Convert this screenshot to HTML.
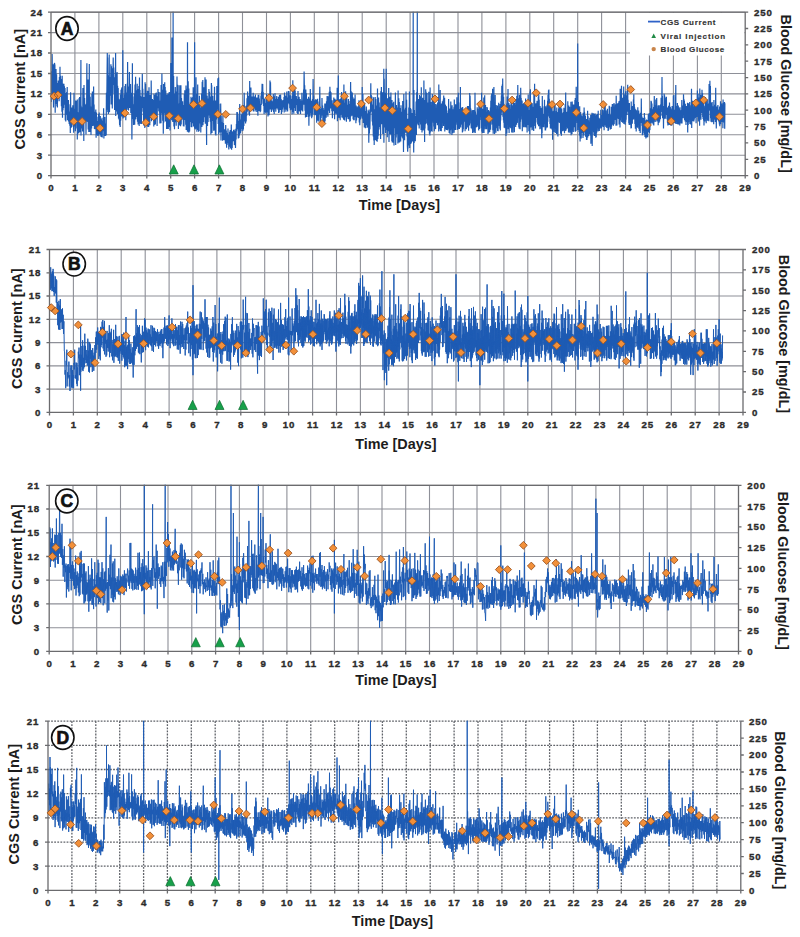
<!DOCTYPE html>
<html><head><meta charset="utf-8"><title>CGS Current</title>
<style>html,body{margin:0;padding:0;background:#fff;}svg{display:block;}</style></head>
<body><svg width="800" height="937" viewBox="0 0 800 937">
<rect width="800" height="937" fill="#fff"/>
<path d="M74.9 12.2V175.6M98.9 12.2V175.6M122.8 12.2V175.6M146.8 12.2V175.6M170.7 12.2V175.6M194.6 12.2V175.6M218.6 12.2V175.6M242.5 12.2V175.6M266.5 12.2V175.6M290.4 12.2V175.6M314.3 12.2V175.6M338.3 12.2V175.6M362.2 12.2V175.6M386.2 12.2V175.6M410.1 12.2V175.6M434 12.2V175.6M458 12.2V175.6M481.9 12.2V175.6M505.9 12.2V175.6M529.8 12.2V175.6M553.7 12.2V175.6M577.7 12.2V175.6M601.6 12.2V175.6M625.6 12.2V175.6M649.5 12.2V175.6M673.4 12.2V175.6M697.4 12.2V175.6M721.3 12.2V175.6M51 155.2H745.2M51 134.8H745.2M51 114.3H745.2M51 93.9H745.2M51 73.5H745.2M51 53H745.2M51 32.6H745.2M51 12.2H745.2" stroke="#8e9098" stroke-width="1.1" fill="none"/>
<rect x="630" y="13" width="114.5" height="42.5" fill="#fff"/>
<clipPath id="clipA"><rect x="51" y="11.7" width="694.2" height="163.9"/></clipPath>
<path clip-path="url(#clipA)" d="M51 81.9 51.3 101.9 51.6 71.3 51.8 98 52.1 53.9 52.2 57.8 52.3 82.3 52.4 93.6 52.7 82.2 53 99.8 53.2 64.3 53.5 107.5 53.8 66.1 54.1 92.5 54.4 63 54.6 63.3 54.7 86.3 54.6 98.6 54.9 64.4 55.2 112.7 55.5 76.4 55.8 94.6 56 69.1 56.3 104.1 56.6 74.3 56.9 106.2 57.2 84.6 57.4 107.4 57.7 83 58 95 58.3 80.6 58.6 98.8 58.8 82.1 59.1 101.2 59.4 76.9 59.5 94.6 59.4 80 59.7 96.2 60 66.8 60.2 94.9 60.5 75.7 60.8 95 61.1 78.9 61.4 106.3 61.6 90.7 61.9 111.7 62.2 75.7 62.5 117.8 62.8 83.5 63 110.2 63.3 88.4 63.6 108.1 63.9 83.7 64.2 102.3 64.4 86.2 64.7 104.7 65 88 65.3 120.3 65.6 100.6 65.8 121.6 66.1 92.9 66.4 114.8 66.7 91.9 67 111 67.2 86.9 67.5 120.2 67.8 107.8 68.1 118.1 68.4 99.9 68.6 121.6 68.9 113 69.2 123.9 69.5 111.5 69.8 125.8 70 104.3 70.3 133 70.6 92.3 70.9 128 71.2 109.4 71.4 127.2 71.7 107.4 72 122.3 72.3 109.3 72.6 120 72.8 105.3 73.1 126.7 73.4 114.2 73.7 132.7 74 92.8 74.2 123.3 74.5 108.7 74.8 126.6 75.1 109.3 75.4 131.3 75.6 100.6 75.9 128.4 76.2 116.2 76.5 121.1 76.8 100.7 77 115.3 77.3 99.4 77.3 139.5 77.4 122.3 77.6 124.6 77.9 112.2 78.2 133.4 78.4 115.1 78.7 133.3 79 98.3 79.3 124.5 79.6 97.1 79.8 132.2 80.1 114.1 80.4 127.9 80.7 110.7 80.9 59.9 81 121.5 81 135.5 81.2 105.7 81.5 123.8 81.8 108 82.1 128.5 82.4 107.3 82.6 131.5 82.9 88 83.2 131.3 83.5 90.8 83.8 140.9 84 84.9 84.3 120 84.6 98.1 84.9 121.7 85.2 109.2 85.4 120.7 85.7 104.6 86 134.5 86.3 103.8 86.6 115.4 86.8 70.6 86.9 63.3 87 114.4 87.1 121.4 87.4 85.2 87.7 122.1 88 79.5 88.2 129.5 88.5 101 88.8 132.1 89.1 92.2 89.3 63.9 89.4 115.9 89.4 119.8 89.6 95.3 89.9 132.1 90.2 96.7 90.5 125.9 90.8 107.6 91 134.9 91.3 106.5 91.6 128.5 91.9 94.1 92.2 118.9 92.4 91.5 92.7 126.1 93 108.1 93.3 124.8 93.6 86.5 93.8 125.8 94.1 104.4 94.4 129.1 94.7 111.7 95 129.2 95.2 118.8 95.5 124.5 95.8 109.5 96.1 137.8 96.4 112.6 96.6 128.9 96.9 120.9 97.2 135 97.5 122.9 97.8 136.1 98 116.8 98.3 132.6 98.6 114 98.9 135.6 99.2 112.6 99.4 130.6 99.7 123.4 100 134.1 100.3 116.1 100.6 135.5 100.8 119.3 101.1 137 101.4 121.9 101.7 130.6 102 117.8 102.2 137.6 102.5 123.2 102.8 129.3 103.1 120.6 103.4 131.2 103.6 108.2 103.9 138.4 104.2 118.8 104.5 136.1 104.8 117.1 105 135.9 105.3 123.5 105.6 135.9 105.9 126.5 106.2 135.2 106.4 92.7 106.7 109.8 107 80.6 107.3 53 107.4 101.2 107.3 99.3 107.6 57.4 107.8 112.1 108.1 75.2 108.4 113.9 108.7 81.4 109 104.3 109.2 54.4 109.5 112.2 109.8 77 110.1 95.8 110.4 83.4 110.6 91.1 110.9 64.3 111.2 104.6 111.5 66.3 111.8 99.2 112 84.3 112.3 108.4 112.6 68.3 112.9 93.4 113.2 57.4 113.4 74.9 113.7 67.4 114 85.1 114.3 77.2 114.6 109.9 114.8 89.8 115.1 107.5 115.4 83.4 115.6 53 115.7 95 115.7 116.1 116 73.4 116.2 111.6 116.5 84.8 116.8 105.8 117.1 71.9 117.4 113.9 117.6 85.7 117.9 108.3 118.2 88 118.5 118.6 118.8 98.8 119 119.6 119.3 111.2 119.6 125.3 119.9 99.4 120.2 127 120.4 94.6 120.7 120.8 121 89.7 121.3 110.4 121.6 88.2 121.8 116.4 122.1 87 122.4 114.4 122.7 95.3 122.8 50.3 122.9 102.3 123 118.5 123.2 97.9 123.5 113.4 123.8 100.8 124.1 117.4 124.4 94.4 124.6 104.3 124.9 86 125.2 112.9 125.5 83.9 125.8 120.3 126 100.8 126.3 115.5 126.6 92.5 126.9 106.2 127.2 83.5 127.4 108.5 127.6 61.9 127.7 104.4 127.7 97.8 128 110 128.3 88 128.6 110.4 128.8 86.6 129.1 99.5 129.4 72.1 129.7 108.1 130 85.9 130.2 96.6 130.5 84.1 130.8 113.1 131.1 92.8 131.4 107.3 131.6 96.1 131.9 139.6 132.2 106.5 132.4 63.3 132.5 106.4 132.5 118.9 132.8 96.6 133 110.6 133.3 104.3 133.6 124.9 133.9 105.3 134.2 124.1 134.4 93.5 134.7 124.8 135 84.6 135.3 119.6 135.6 76.7 135.8 119.3 136.1 101.6 136.4 117.1 136.7 90.3 137 110.7 137.2 83.7 137.3 108.4 137.2 86.1 137.5 121.7 137.8 98.8 138.1 124.6 138.4 89 138.6 123.4 138.9 86.1 139.2 126.1 139.5 77.6 139.8 110.2 140 89.9 140.3 123.5 140.6 95.7 140.9 124 141.2 96.8 141.4 123.9 141.7 101.3 142 108 142.3 73.7 142.6 100.4 142.8 88.8 143.1 111.8 143.4 100.1 143.7 125.6 144 97.1 144.2 118.4 144.5 106.9 144.8 127.9 145.1 82.2 145.4 119.7 145.6 83.9 145.9 114.5 146.2 92.9 146.5 122.1 146.8 101.2 147 126.2 147.3 90.8 147.6 126.7 147.9 90.9 148.2 118.8 148.4 104 148.7 126.9 149 87.2 149.3 122 149.6 97.8 149.8 125.3 150.1 94.9 150.4 117.7 150.7 101 151 113.9 151.2 80.5 151.5 121.2 151.8 99.2 152.1 116.3 152.4 98.9 152.6 115.6 152.9 102.8 153.2 113.5 153.5 100 153.8 126.5 154 93.7 154.3 124.9 154.6 104.4 154.9 121.3 155.2 95 155.4 124.5 155.7 93.2 156 119.3 156.3 92.5 156.6 114.9 156.8 96.2 157.1 126.1 157.4 100.1 157.7 108.3 158 89 158.2 103.7 158.5 92.4 158.8 111.3 159.1 92 159.4 112.5 159.6 105.5 159.9 123.4 160.2 100.4 160.5 121.2 160.8 92.2 161 123.2 161.1 85 161.2 109.2 161.3 87.7 161.6 113.6 161.9 73.6 162.2 104.9 162.4 89.8 162.7 120.7 163 91.8 163.3 133.7 163.6 83.9 163.8 122.6 164.1 91.9 164.4 113.6 164.7 82.3 165 110.1 165.2 86.9 165.5 121.5 165.8 90.5 166.1 116.2 166.4 95.4 166.6 129.1 166.9 94.4 167.2 125.7 167.5 99 167.8 128.9 168 93.6 168.3 128.9 168.6 98.6 168.9 127.1 169.2 92 169.4 119.1 169.7 104.5 170 130.4 170.3 92.2 170.6 107.5 170.8 63.1 171.1 114.9 171.4 93.3 171.7 120.1 171.9 37.4 172 109.4 172 92.4 172.2 120.4 172.5 96.6 172.8 122 173.1 87.1 173.1 5.4 173.2 109.6 173.4 112.8 173.6 76.1 173.9 126.4 174.2 93.7 174.5 129.3 174.8 105.5 175 121.2 175.3 86.9 175.6 122.3 175.9 91.4 176.2 125.7 176.4 99.4 176.7 118.8 177 76.5 177.3 114.4 177.6 84.8 177.8 121.3 178.1 85.3 178.4 129.1 178.7 103.5 179 119.8 179.2 109.7 179.5 125.4 179.8 85.2 180.1 121.8 180.4 88.4 180.6 126.2 180.9 85.2 181.2 124.5 181.5 98 181.8 116 182 102.8 182.3 118.7 182.6 101.2 182.9 120.1 183.2 105 183.4 126.3 183.7 108.4 184 126.4 184.3 94 184.6 120.1 184.8 90.3 185.1 119 185.4 98.3 185.7 124.8 186 85.6 186.2 129.9 186.5 88.8 186.8 125.9 187.1 104.4 187.4 131.7 187.5 42.2 187.6 111.6 187.6 97.4 187.9 113.1 188.2 81.2 188.5 132.5 188.8 88.6 189 132.6 189.3 106.7 189.6 131.6 189.9 104.3 190.2 120.4 190.4 102.6 190.7 122.1 191 96.8 191.3 126.9 191.6 101 191.8 127.3 192.1 98.1 192.4 123.3 192.7 96.9 193 115.1 193.2 87.2 193.5 126.4 193.8 103.9 194.1 125.2 194.4 108.2 194.6 42.2 194.7 112.6 194.6 128.6 194.9 98.6 195.2 129.6 195.5 110.8 195.8 128.8 196 77.2 196.3 119.8 196.6 94 196.9 131.8 197.2 94.2 197.4 124.2 197.7 84.6 198 130.1 198.3 111.9 198.6 131.7 198.8 102.4 199.1 131 199.4 95.8 199.7 123.5 200 102 200.2 115.2 200.5 110.7 200.8 132.5 201.1 107.7 201.4 122 201.6 93.6 201.9 126.9 202.2 81.8 202.5 117.6 202.8 80.1 203 125.3 203.3 89.6 203.6 122 203.9 87.2 204.2 117.2 204.4 89.4 204.7 115.4 205 77.2 205.3 123.7 205.6 98 205.8 121 206.1 79.4 206.4 121.7 206.6 145 206.7 112.6 206.7 107.5 207 116.3 207.2 95.5 207.5 125.9 207.8 98.5 208.1 122 208.4 99.5 208.6 115.5 208.9 88.9 209.2 112.9 209.5 91.7 209.8 118 210 100.4 210.3 121.8 210.6 96.4 210.9 134.5 211.2 101.2 211.4 83 211.5 114.6 211.4 132 211.7 85.3 212 133.1 212.3 100.6 212.6 120.9 212.8 95.8 213.1 119 213.4 102.4 213.7 130.8 214 100.5 214.2 130.4 214.5 86.8 214.8 120.2 215.1 108.5 215.4 134.6 215.6 100.6 215.9 135.5 216.2 102.8 216.5 119.4 216.8 85.9 217 108.6 217.3 87 217.6 109.7 217.9 78.3 218.2 124.1 218.4 104.5 218.6 77.6 218.7 117.7 218.7 134.5 219 103.8 219.3 124.8 219.6 112.1 219.8 132.4 220.1 118.4 220.4 129.1 220.7 103.6 221 140.5 221.2 115.5 221.5 132.2 221.8 125.4 222.1 131 222.4 122.2 222.6 140.8 222.9 115.5 223.2 139.6 223.5 122.9 223.8 140 224 129 224.3 140.2 224.6 131.8 224.9 138.8 225.2 129.4 225.4 143.7 225.7 125.1 226 137.2 226.3 130.4 226.6 147.7 226.8 133.9 227.1 145.1 227.4 133 227.7 139.7 228 128.6 228.2 143.3 228.5 135.3 228.8 149.4 229.1 135 229.4 144 229.6 131.7 229.9 146.7 230.2 130.1 230.5 148.6 230.8 131.7 231 143.5 231.3 124.5 231.6 149.7 231.9 131.3 232.2 147.9 232.4 136.9 232.7 138.5 233 131.4 233.3 141.3 233.6 130.1 233.8 139 234.1 129.6 234.4 145 234.7 130.8 235 145.3 235.2 136.1 235.5 148 235.8 128.8 236.1 139.4 236.4 124.1 236.6 131.3 236.9 111.9 237.2 123.6 237.5 112.3 237.8 129.3 238 114.5 238.3 138.6 238.6 123.3 238.9 138 239.2 121.1 239.4 135.5 239.7 103.9 240 132.5 240.3 121.6 240.6 133.4 240.8 119.6 241.1 131.2 241.4 114.5 241.7 129 242 113.6 242.2 127.8 242.5 114.3 242.8 130.9 243.1 104.9 243.4 129.4 243.6 110.6 243.9 126.1 244.2 92.7 244.5 121.5 244.8 112.3 245 119.4 245.3 111.6 245.6 123.4 245.9 106 246.2 121.5 246.4 105.6 246.7 115.7 247 98.2 247.3 111.8 247.6 91.5 247.8 102.3 248.1 95.7 248.4 110.2 248.7 95.8 249 114.3 249.2 96.7 249.5 115.8 249.7 81 249.8 106.2 249.8 96.1 250.1 108.7 250.4 104.5 250.6 105.4 250.9 87.4 251.2 105.4 251.5 102.3 251.8 106.2 252 96.5 252.3 107.5 252.6 99.4 252.9 110 253.2 92.7 253.4 111.5 253.7 99.2 254 108.6 254.3 96.4 254.6 107 254.8 97.6 255.1 111.5 255.4 94.6 255.7 109.7 256 97.5 256.2 110 256.5 97.9 256.8 112.1 257.1 97.4 257.4 112.1 257.6 99.9 257.9 115.7 258.2 94.8 258.5 109.5 258.8 94.7 259 111.1 259.3 98.6 259.6 108.9 259.9 103.9 260.2 112.3 260.4 103.9 260.7 111.2 261 95.6 261.3 105.1 261.6 91.7 261.8 99.2 262.1 83.7 262.4 95.9 262.7 83.9 263 103.7 263.2 92 263.5 105.9 263.8 98.5 264.1 114.1 264.4 102.2 264.6 112.3 264.9 98.4 265.2 110.6 265.5 103 265.8 113.6 266 105.6 266.3 110.1 266.6 93.8 266.9 112.2 267.2 99.6 267.4 112.5 267.7 101.5 268 116.6 268.3 103.8 268.6 111.5 268.8 97.5 269.1 115.2 269.4 100.2 269.7 105.4 270 80.5 270.2 109.6 270.5 82.2 270.8 107.5 271.1 100.1 271.4 111.9 271.6 100.5 271.9 109.2 272.2 101.3 272.5 108.2 272.8 101.3 273 110.5 273.3 94.1 273.6 112 273.9 101.4 274.2 113.9 274.4 96.3 274.7 107.2 275 93.2 275.3 109.2 275.6 99 275.8 111.8 276.1 101.2 276.4 106.6 276.7 95.9 277 108.4 277.2 98.9 277.5 105.1 277.8 101 278.1 109.7 278.4 96.7 278.6 112.9 278.9 98.6 279.2 112.6 279.5 94.8 279.8 106.1 280 95.5 280.3 110.1 280.6 94.5 280.9 108.6 281.2 99 281.4 113.9 281.7 100.8 282 112.2 282.3 100.3 282.6 109.6 282.8 100.7 283.1 106.2 283.4 100 283.7 107.5 284 96.9 284.2 112.5 284.5 92.5 284.8 109.5 285.1 95.3 285.4 107.9 285.6 97 285.9 111.8 286.2 95.9 286.5 107.6 286.8 91.6 287 109.8 287.3 99.6 287.6 111.5 287.9 97.4 288.2 103.2 288.4 91.1 288.7 103.1 289 91.2 289.3 104.2 289.6 95.2 289.8 108.2 290.1 95.6 290.4 110.3 290.7 95.2 291 105.4 291.2 99.5 291.5 109.8 291.8 98.9 292.1 114.2 292.4 95.8 292.6 111.9 292.8 80.3 292.9 102.9 292.9 95.6 293.2 107.7 293.5 94.2 293.8 113.7 294 91.2 294.3 105.7 294.6 88 294.9 107.9 295.2 90.4 295.4 110.9 295.7 96.3 296 104.9 296.3 96 296.6 104.4 296.8 99.1 297.1 112.9 297.4 99.4 297.7 114 298 90.9 298.2 114 298.5 99.1 298.8 111.2 299.1 96.8 299.4 109.1 299.6 98.9 299.9 111.5 300.2 99 300.5 113.9 300.8 100.6 301 108.1 301.3 102.5 301.6 110.4 301.9 92.8 302.2 110.4 302.4 103.2 302.7 111.6 303 100.5 303.3 102.6 303.6 89.5 303.8 104.8 304.1 71.4 304.4 89.8 304.7 85.2 305 110.8 305.2 92.5 305.5 117.6 305.8 89.6 306.1 112.7 306.4 93.3 306.6 116.9 306.9 102.6 307.2 114 307.5 98.7 307.8 112.6 308 102.9 308.3 117.1 308.6 96.8 308.9 125.8 309.2 103.9 309.4 114.9 309.7 98.4 310 116.5 310.3 89.1 310.6 108.9 310.8 100.3 311.1 113.4 311.4 105.8 311.7 118.3 312 101 312.2 116.8 312.5 98.9 312.8 114.2 313.1 79 313.4 104.3 313.6 96.1 313.9 107.7 314.2 100.6 314.5 114.7 314.8 105 315 115.3 315.3 99.9 315.6 113 315.9 98.9 316.2 115.1 316.4 107.5 316.7 122.8 317 100 317.3 119 317.6 98.7 317.8 120.8 318.1 109.6 318.4 120.4 318.7 112.3 319 121.8 319.2 101.5 319.5 107 319.8 86.8 320.1 114.1 320.4 108.7 320.6 122.7 320.9 109.9 321.2 118.1 321.5 108.3 321.8 113.4 322 98 322.3 115.4 322.6 105.5 322.9 120.3 323.2 108 323.4 124.8 323.7 110 324 123.1 324.3 109.8 324.6 123.4 324.8 103.4 325.1 121.3 325.4 108.3 325.7 115.3 326 103.5 326.2 117.8 326.5 101.2 326.8 115.1 327.1 95.9 327.4 110.5 327.6 99.9 327.9 116.7 328.2 96.3 328.5 110.7 328.8 103.6 329 108.8 329.3 91.8 329.6 113 329.9 86.8 330.2 103 330.4 91.3 330.7 108.6 331 92.2 331.3 105 331.6 100.8 331.8 111.2 332.1 100.3 332.4 118.3 332.7 103.6 333 107.8 333.2 106.2 333.5 111.2 333.8 97.4 334.1 110 334.4 105.1 334.6 119.2 334.9 98.8 335.2 110.5 335.5 101.9 335.8 113.8 336 99.8 336.3 109.3 336.6 106.7 336.9 114.3 337.2 87.7 337.4 121.2 337.7 97.6 338 118.1 338.3 75.5 338.4 107.5 338.3 98.7 338.6 117.5 338.8 106.2 339.1 116.8 339.4 99.5 339.7 118.3 340 99 340.2 120.3 340.5 102.8 340.8 108.8 341.1 97.5 341.4 114.8 341.6 92 341.9 117.4 342.2 99 342.5 114.8 342.8 100.2 343 118.3 343.3 106.3 343.6 119.7 343.9 84.4 344.2 111.1 344.4 106.1 344.7 120.4 345 102.8 345.3 117.2 345.6 91.3 345.8 113.9 346.1 101.3 346.4 121.7 346.7 95.9 347 117.2 347.2 104.9 347.5 116.5 347.8 104.8 348.1 118.9 348.4 98.9 348.6 119.3 348.9 101 349.2 115 349.5 105.5 349.8 121.7 350 103.9 350.3 120.9 350.6 82 350.9 116.6 351.2 91.3 351.4 112.1 351.7 99.8 352 115.8 352.3 92.6 352.6 110 352.8 97 353.1 119.3 353.4 100.4 353.7 120.3 354 98.4 354.2 120.2 354.5 102.1 354.8 115.2 355.1 94.5 355.4 117 355.6 107.9 355.9 123.2 356.2 105.6 356.5 120.4 356.8 108.9 357 116.9 357.3 107.3 357.6 112.9 357.9 106.3 358.2 117.9 358.4 106.6 358.7 111.3 359 100.2 359.3 122.6 359.6 106.6 359.8 125.3 360.1 109.1 360.4 119.5 360.7 108.2 361 118.4 361.2 102.2 361.5 116.5 361.8 103.2 362.1 112.1 362.2 87.1 362.3 114.3 362.4 99.4 362.6 118.7 362.9 93.9 363.2 123 363.5 101.9 363.8 115.4 364 106.3 364.3 127.4 364.6 102.8 364.9 127.1 365.2 112 365.4 128.3 365.7 111 366 125.2 366.3 106.6 366.6 119.3 366.8 109.7 367.1 128 367.4 113.4 367.7 126.8 368 119.4 368.2 126.9 368.5 110.5 368.8 142.7 369.1 109.6 369.4 133.5 369.6 117.9 369.9 129.2 370.2 113.7 370.5 111.4 370.8 83.3 371 111.7 371.3 94.9 371.6 111.1 371.9 96.4 372.2 121.6 372.4 104.6 372.7 125.5 373 115.1 373.3 136.6 373.6 97.3 373.8 140.6 374.1 109.2 374.2 145 374.3 122.9 374.4 137.1 374.7 113.7 375 139.9 375.2 96.9 375.5 140.2 375.8 99 376.1 128.9 376.4 114.6 376.6 141.1 376.9 105.4 377.2 141.8 377.5 88.5 377.8 139.1 378 113.6 378.3 135.7 378.6 97.6 378.9 129.6 379.2 102.5 379.4 121.8 379.7 107.2 380 127.1 380.3 110.4 380.6 139.1 380.8 91.2 381.1 113.1 381.4 87 381.7 124.2 382 101.5 382.2 119.1 382.5 92.2 382.8 134 383.1 115.4 383.4 120.4 383.6 105 383.8 68.7 383.9 118.9 383.9 142.8 384.2 78.8 384.5 122.7 384.8 92.7 385 127.4 385.3 96.8 385.6 133.1 385.9 110.8 386.2 68.7 386.3 117.9 386.2 130 386.4 94.1 386.7 128.6 387 106.1 387.3 137.2 387.6 98.3 387.8 122.4 388.1 113.5 388.4 131.3 388.7 88.1 389 142.1 389.2 118.3 389.5 127.3 389.8 96.8 390.1 134.2 390.4 100.5 390.6 122.1 390.9 92.4 391.2 134.8 391.5 101.9 391.8 141.2 392 99.9 392.3 142.6 392.6 111.8 392.9 136.5 393.2 103.3 393.4 142.8 393.7 101.8 394 145.4 394.3 112.3 394.6 128.3 394.8 108.5 395.1 127.7 395.4 92.5 395.7 144.9 396 106.6 396.2 137.5 396.5 105 396.8 134.1 397.1 107.5 397.4 130.9 397.6 109.3 397.9 143.4 398.1 90.5 398.2 126.1 398.2 115.2 398.5 134.6 398.8 98.2 399 142.6 399.3 101.9 399.6 142.4 399.9 114.4 400.2 139.5 400.4 107.9 400.7 141.4 401 105.3 401.3 136.6 401.6 111.8 401.8 128.5 402.1 119.5 402.4 137.7 402.7 101.1 403 138.8 403.2 120 403.5 151.9 403.8 93.9 404.1 135.4 404.4 111.7 404.6 140.2 404.9 109.5 405.2 132.1 405.5 107.8 405.8 132.8 406 91.4 406.3 120.5 406.6 99.8 406.9 136.4 407.2 120.9 407.4 146.5 407.7 151.8 407.8 128.9 407.7 118.7 408 148.6 408.3 120.2 408.6 143.3 408.8 107.6 409.1 145.4 409.4 91.6 409.7 148 410 128.4 410.2 134.3 410.5 108.1 410.8 143.9 411.1 109.3 411.4 142.7 411.6 124 411.9 135.2 412.2 113.1 412.5 141.5 412.8 113.7 413 139.4 413.2 5.4 413.3 130 413.3 114 413.6 138.9 413.7 152.5 413.8 128.7 413.9 89.9 414.2 142.9 414.4 109.9 414.7 137.6 415 119.8 415.3 141.2 415.6 116.1 415.8 128.3 416.1 101.5 416.4 135 416.7 92.3 417 123.7 417.2 85.6 417.3 5.4 417.4 120.1 417.5 113.4 417.8 100.5 418.1 125.3 418.4 98.9 418.6 120.1 418.9 99.7 419.2 128.4 419.5 95 419.8 122.3 420 104.1 420.2 122.2 420.4 96.2 420.6 124.4 420.9 104.6 421.1 130 421.3 87.2 421.5 128.7 421.7 99 422 132.5 422.2 104.3 422.4 130.5 422.6 97.8 422.8 129.6 423.1 112.8 423.3 125.8 423.5 101.5 423.7 130.2 423.9 80.6 424.2 130.7 424.4 100.3 424.6 141.9 424.8 99.9 425 128.4 425.3 107.8 425.5 124.3 425.7 89.3 425.9 117.6 426.1 91.7 426.4 109.4 426.6 97.9 426.8 123.6 427 92.9 427.2 123.2 427.5 103.2 427.7 125.3 427.9 102.4 428.1 130.3 428.3 103.9 428.6 123.4 428.8 91.8 429 131.1 429.2 100.3 429.4 133.8 429.7 99.6 429.9 135.4 430.1 87.5 430.3 132.5 430.5 105.1 430.8 121.5 431 102 431.2 121.8 431.4 108.5 431.6 131.1 431.9 109.6 432.1 131.8 432.3 93.9 432.5 118.4 432.7 96.4 433 121 433.2 98.1 433.4 122.7 433.6 98.9 433.8 126.5 434.1 105.9 434.3 131.3 434.5 98.3 434.7 129.5 434.9 110 435.2 123 435.4 113.9 435.6 128.9 435.8 104.1 436 121.5 436.3 109.4 436.5 121.2 436.7 111.3 436.9 122.9 437.1 104.4 437.4 125.3 437.6 102.6 437.8 121.9 438 115.2 438.2 124.2 438.5 96.8 438.7 131.4 438.8 84.4 438.9 118.1 438.9 102.3 439.1 118.2 439.3 102 439.6 118.9 439.8 106.6 440 129.3 440.2 89.9 440.4 131.1 440.7 112.3 440.9 120.6 441.1 106.6 441.3 131.3 441.5 103.6 441.8 125.3 442 105.5 442.2 127.9 442.4 101.3 442.6 119.9 442.9 109.5 443.1 123.3 443.3 99.4 443.5 125.9 443.7 95.5 444 124 444.2 104.1 444.4 123.7 444.6 97.8 444.8 131.6 445.1 104.4 445.3 126.4 445.5 104.7 445.7 129.5 445.9 112.1 446.2 120 446.4 106.2 446.6 129.9 446.8 116.3 447 127.2 447.3 114.3 447.5 130.2 447.7 113.1 447.9 129.6 448.1 110.5 448.4 122.2 448.6 99.1 448.8 119 449 116.2 449.2 132.9 449.5 109.7 449.7 126.6 449.9 108.6 450.1 134.2 450.3 112 450.6 130.2 450.8 101.4 451 123 451.2 107.3 451.4 129.1 451.7 106.9 451.9 134.9 452.1 105.3 452.3 129.6 452.5 111.1 452.8 133.2 453 109.3 453.2 123.7 453.4 116.5 453.6 126.6 453.9 107.3 454.1 132.7 454.3 99.6 454.5 129.8 454.7 107.5 455 124.7 455.2 109.3 455.4 130 455.6 104.3 455.8 124.6 456.1 117.8 456.3 119.9 456.5 119.1 456.7 122 456.9 97.3 457.2 129.9 457.4 110.6 457.6 124.2 457.8 102.8 458 129.2 458.3 92.7 458.5 126.6 458.7 102.5 458.9 128.4 459.1 109.1 459.4 129 459.6 114.3 459.8 124.7 460 115.8 460.2 125.9 460.4 87.1 460.5 119.4 460.5 108.8 460.7 127.6 460.9 112.4 461.1 115.3 461.3 108.1 461.6 123.6 461.8 110.6 462 124.7 462.2 107.1 462.4 132.5 462.7 107.2 462.9 131.4 463.1 112.3 463.3 129.3 463.5 112.3 463.8 118.5 464 110.8 464.2 121.7 464.4 116.8 464.6 119.6 464.9 109.7 465.1 131.3 465.3 111.9 465.5 129.1 465.7 115.1 466 126.5 466.2 116.6 466.4 129.2 466.6 108.7 466.8 120.6 467.1 115.3 467.3 119.5 467.5 105.9 467.7 127.5 467.9 114.8 468.2 126.4 468.4 106 468.6 130.7 468.8 111.9 469 124.8 469.3 109.4 469.5 125.4 469.7 93 469.9 117.3 470.1 95.8 470.4 114 470.6 108.2 470.8 123.6 471 109.5 471.2 128.3 471.5 115.9 471.7 123.9 471.9 114.3 472.1 129.2 472.3 110.4 472.6 133.1 472.8 110.1 473 121.7 473.2 115.3 473.4 127.1 473.7 110.1 473.9 132.4 474.1 116.4 474.3 130.5 474.5 111.7 474.8 126.5 475 92.7 475.2 133 475.4 111.4 475.6 127.5 475.9 115.7 476.1 127.6 476.3 114.9 476.5 125.1 476.7 116.9 477 127 477.2 107.3 477.4 121.4 477.6 108.8 477.8 125.3 478.1 118.8 478.3 125.7 478.5 116.6 478.7 130.5 478.9 102 479.2 127.7 479.4 111.9 479.6 128.9 479.8 106.1 480 119.9 480.3 102.4 480.5 114.8 480.7 105.3 480.9 115.4 481.1 102.1 481.4 127.9 481.6 92.7 481.8 131.5 482 118 482.2 132.8 482.5 115.4 482.7 132.9 482.9 108.7 483.1 131.4 483.3 109.5 483.6 124.3 483.8 97.4 484 133.1 484.2 100.9 484.4 120.3 484.7 95.2 484.9 122.5 485.1 109.7 485.3 129.2 485.5 104.9 485.8 126.5 486 116.6 486.2 119.7 486.4 112.3 486.6 129.2 486.9 107.1 487.1 125.2 487.3 107.6 487.5 123.9 487.7 112.5 488 133.9 488.2 110.7 488.4 120.4 488.6 109.9 488.8 132.8 489.1 113.5 489.3 119.5 489.5 111.2 489.7 132 489.9 111.5 490.2 126.2 490.4 107.5 490.6 129.7 490.8 100.8 491 124.7 491.3 95.5 491.5 114.3 491.7 93.5 491.9 119.3 492.1 96.1 492.4 124.5 492.6 88.7 492.8 130.2 493 117.3 493.2 133.8 493.5 100.6 493.7 130.2 493.9 87.1 494 118.6 493.9 100.9 494.1 125.8 494.3 112.3 494.6 134.1 494.8 105.2 495 130.6 495.2 95 495.4 123.8 495.7 105.7 495.9 132.8 496.1 105.1 496.3 122.9 496.5 115.6 496.8 125.2 497 114.9 497.2 128.3 497.4 105.6 497.6 131.1 497.9 110 498.1 131.2 498.3 112.2 498.5 124.6 498.7 102.7 499 123.8 499.2 106.2 499.4 126 499.6 111.3 499.8 128.7 500.1 104.1 500.3 130.4 500.5 113.6 500.7 120.5 500.9 101.3 501.2 115.2 501.4 95.4 501.6 112.4 501.8 86.1 502 106.9 502.3 84.6 502.5 107.5 502.7 78.4 502.9 116.8 503.1 93.6 503.4 120.3 503.6 96.8 503.8 122.7 504 103.7 504.2 127.8 504.5 105.6 504.7 125.2 504.9 107.8 505.1 128.2 505.3 112.1 505.6 127.5 505.8 106.1 506 136.1 506.2 112.1 506.4 130.3 506.7 103.4 506.9 133.6 507.1 96.6 507.3 124.6 507.5 102.6 507.8 124.6 508 89 508.2 129.3 508.4 109.1 508.6 129.1 508.9 103 509.1 133 509.3 111 509.5 126.9 509.7 104.8 510 125.6 510.2 114.3 510.4 127.5 510.6 109.1 510.8 128.3 511.1 102.1 511.3 122.5 511.5 102.5 511.7 132.5 511.9 106.9 512.2 124.8 512.4 105.3 512.6 121.3 512.8 109.7 513 132.7 513.3 102.3 513.5 125.8 513.7 98.2 513.9 122.1 514.1 112.4 514.4 132.3 514.6 102.9 514.8 120.9 515 106.9 515.2 124.9 515.5 105.1 515.7 127 515.9 101 516.1 123.8 516.3 99.1 516.6 124.7 516.8 95.7 517 122.9 517.2 100.3 517.4 122.8 517.7 95.3 517.8 85 517.9 117.7 517.9 115.5 518.1 98.8 518.3 115.1 518.5 98.3 518.8 127.2 519 104.1 519.2 128.7 519.4 94.7 519.6 124.2 519.9 105.7 520.1 129.2 520.3 111.6 520.5 121.8 520.7 87.7 521 113.1 521.2 97.9 521.4 115 521.6 105 521.8 119.5 522.1 100.4 522.3 131.3 522.5 116.2 522.7 125.5 522.9 103.9 523.2 118.4 523.4 116 523.6 127.3 523.8 102.9 524 118 524.3 103 524.5 120.9 524.7 116.6 524.9 127.3 525.1 107 525.4 127 525.6 98.6 525.8 123.7 526 114.6 526.2 127.6 526.5 115.8 526.7 122 526.9 104.2 527.1 132.6 527.3 110 527.6 125 527.8 103.5 528 124.7 528.2 94.6 528.4 124.4 528.7 115.4 528.9 131.3 529.1 110 529.3 127.7 529.5 113.1 529.8 134.6 530 91.4 530.2 121.6 530.4 89.3 530.6 127.5 530.9 106.8 531.1 127.3 531.3 104.4 531.5 121.8 531.7 103 532 130.3 532.2 103.2 532.4 121.3 532.6 106.8 532.8 125.3 533.1 113.8 533.3 129.7 533.5 108.7 533.7 131.1 533.9 93.3 534.2 126 534.4 102.6 534.6 83.7 534.7 118.1 534.6 120.6 534.8 103.6 535 118.8 535.3 107.8 535.5 128.4 535.7 103.6 535.9 122.5 536.1 103.2 536.4 117.9 536.6 105.1 536.8 112.6 537 100.7 537.2 115.6 537.5 111.1 537.7 124.6 537.9 101.4 538.1 124.6 538.3 96.6 538.6 126.2 538.8 94.6 539 116.6 539.2 99.7 539.4 126 539.7 114.7 539.9 129.3 540.1 106.1 540.3 128.7 540.5 115.4 540.8 123.2 541 107.8 541.2 121.4 541.4 111.1 541.6 128.2 541.8 138.2 541.9 118.6 541.9 114.9 542.1 133.1 542.3 96.1 542.5 126.9 542.7 115.8 543 126.3 543.2 118.2 543.4 127.3 543.6 113.9 543.8 127.3 544.1 106.3 544.3 123.9 544.5 99.8 544.7 123.2 544.9 112.3 545.2 130.4 545.4 117 545.6 130.4 545.8 106.2 546 128.6 546.3 108 546.5 123.1 546.7 112.8 546.9 127.5 547.1 104.8 547.4 127.6 547.6 100.7 547.8 121.8 548 94.8 548.2 112.9 548.5 90.3 548.7 109.8 548.9 89.5 549.1 116.6 549.3 98.8 549.6 117.9 549.8 103.4 550 124.1 550.2 102.4 550.4 128.4 550.7 103.6 550.9 120.5 551.1 102.7 551.3 128.8 551.5 116.9 551.8 128.4 552 107.2 552.2 130.1 552.4 113 552.6 139.7 552.9 112.3 553.1 121.3 553.3 110.8 553.5 127.8 553.7 111.9 554 132 554.2 114.7 554.4 126.7 554.6 104.7 554.8 127 555.1 104.2 555.3 133 555.5 115.3 555.7 120.4 555.9 116.1 556.2 127.8 556.4 111.1 556.6 134 556.8 107.6 557 127.8 557.3 112 557.5 120.8 557.7 117.7 557.9 136.4 558.1 114.5 558.4 122.4 558.6 108.5 558.8 118.8 559 102.2 559.2 122.2 559.5 102.1 559.7 123.1 559.9 110.7 560.1 119.9 560.3 108.3 560.6 133.7 560.8 107.1 561 128.9 561.2 115.7 561.4 135.8 561.7 108.4 561.9 131 562.1 112.9 562.3 127.6 562.5 113.5 562.8 131.3 563 116.6 563.2 130.7 563.4 112.1 563.6 130.3 563.9 107.7 564.1 123.7 564.3 109.4 564.5 133.2 564.7 114.5 565 130.4 565.2 104.1 565.4 126.1 565.6 111.7 565.7 92.5 565.8 120.3 565.8 130.9 566.1 115.3 566.3 129.4 566.5 115.9 566.7 126.9 566.9 112.1 567.2 120.7 567.4 111.5 567.6 128.4 567.8 101.2 568 124.5 568.3 108.8 568.5 132.6 568.7 105.4 568.9 130.7 569.1 114.2 569.4 128.9 569.6 106.7 569.8 132.8 570 113.1 570.2 125.5 570.5 119.3 570.7 131.8 570.9 101.7 571.1 135.3 571.3 107.7 571.6 130.6 571.8 120 572 133.9 572.2 101.4 572.4 124.4 572.7 114.5 572.9 131 573.1 104.6 573.3 132.1 573.5 109.9 573.8 127.3 574 104.4 574.2 120.9 574.4 110.5 574.6 127.3 574.9 100.1 575.1 131.4 575.3 98 575.5 131.7 575.7 115.7 576 131 576.2 86.8 576.4 120.8 576.6 101.1 576.8 119.8 577.1 106.6 577.3 122.9 577.5 116 577.7 43.5 577.8 121.1 577.7 130.1 577.9 105.9 578.2 122.4 578.4 102.1 578.6 124.4 578.8 112.6 579 132.1 579.3 113.5 579.5 135.4 579.7 106.3 579.9 130.9 580.1 141.6 580.2 127.5 580.1 127.7 580.4 129.2 580.6 111.9 580.8 134.1 581 114.7 581.2 138.6 581.5 121.9 581.7 132.9 581.9 115.4 582.1 131 582.3 117.1 582.6 129 582.8 120.8 583 137.9 583.2 112.7 583.4 130.7 583.7 114.7 583.9 135.5 584.1 107.5 584.3 132.4 584.5 111.7 584.8 125.8 585 116.1 585.2 130.9 585.4 115.4 585.6 136.7 585.9 125.7 586.1 134.6 586.3 119 586.5 139.9 586.7 120.8 587 140 587.2 124.4 587.4 132.2 587.6 110.8 587.8 137.6 588.1 116.2 588.3 129.3 588.5 120.3 588.7 136.1 588.9 127.4 589.2 131.7 589.4 126.1 589.6 134 589.8 117.8 590 132.4 590.3 120.2 590.5 135.6 590.7 114.9 590.9 143.8 591.1 117.3 591.4 134.2 591.6 114.7 591.8 131.4 592 112.7 592.2 146 592.5 117.5 592.7 131.1 592.9 113.9 593.1 129.1 593.3 113.2 593.6 132.3 593.8 118.9 594 134.7 594.2 113.8 594.4 136.1 594.7 120.7 594.9 132.1 595.1 113.6 595.3 135.9 595.5 116 595.8 137.8 596 120.7 596.2 136.9 596.4 114.7 596.6 133.3 596.9 116.6 597.1 127.5 597.3 114 597.5 126.5 597.7 116.5 598 131.6 598.2 110.8 598.4 128.2 598.6 120.1 598.8 128.5 599.1 117.7 599.3 131 599.5 119.6 599.7 128.5 599.9 119.2 600.2 124 600.4 118.7 600.6 126.8 600.8 109.8 601 128.5 601.3 118.9 601.5 128 601.7 115 601.9 126.4 602.1 116.2 602.4 124.5 602.6 109.5 602.8 125.8 603 117.5 603.2 127.1 603.5 118.8 603.7 122.8 603.9 110.2 604.1 130.3 604.3 105.8 604.6 125 604.8 116.6 605 125.6 605.2 104.7 605.4 125 605.7 110.4 605.9 126.9 606.1 116.3 606.3 125.9 606.5 114.5 606.8 128 607 110.3 607.2 125.5 607.4 108.7 607.6 124.1 607.9 113.9 608.1 130.9 608.3 122.1 608.5 130.3 608.7 117.8 609 118.9 609.2 105.8 609.4 125.5 609.6 106.4 609.8 127.4 610.1 114.5 610.3 129.5 610.5 114.8 610.7 121.9 610.9 116.1 611.2 129.1 611.4 106.8 611.6 126.6 611.8 107.7 612 120.8 612.3 104 612.5 124.8 612.7 103.9 612.9 120.4 613.1 112.4 613.4 125.8 613.6 109.7 613.8 123.1 614 102.9 614.2 124.2 614.5 107.7 614.7 119.9 614.9 108.6 615.1 114.6 615.3 104.2 615.6 116.4 615.8 109.8 616 125.8 616.2 95.7 616.4 120.2 616.7 104.7 616.9 125.6 617.1 106.1 617.3 115.4 617.5 103.7 617.8 117.9 618 103.1 618.2 118.8 618.4 104.1 618.6 118.9 618.9 101.3 619.1 124.6 619.3 103.6 619.5 121.5 619.7 100.8 620 127.5 620.2 88.8 620.4 120.6 620.6 105.7 620.8 114.3 621.1 102.2 621.3 117.1 621.5 85.7 621.7 121.9 621.9 98 622.2 111.8 622.4 97.7 622.6 122.7 622.8 109.3 623 121.7 623.3 103.6 623.5 119 623.7 86.4 623.9 123.9 624.1 101.5 624.4 122.5 624.6 106.9 624.8 121.9 625 94.3 625.2 124.8 625.5 100.3 625.6 91.2 625.7 112.6 625.7 121.8 625.9 95.6 626.1 119.8 626.3 108.7 626.6 113.7 626.8 95.2 627 114.9 627.2 90.6 627.4 111.8 627.7 84.7 627.9 111.7 628.1 99.8 628.3 110.5 628.5 103.3 628.8 123.2 629 113.4 629.2 124.9 629.4 103 629.6 124.1 629.9 113.8 630.1 124.8 630.3 110 630.5 123.2 630.7 116.2 631 128.6 631.2 101.4 631.4 127.9 631.6 107.4 631.8 121.8 632.1 108.5 632.3 123.8 632.5 106 632.7 119.4 632.9 110.2 633.2 117.8 633.4 99.6 633.6 119.5 633.8 94.2 634 114.7 634.3 104.1 634.5 115 634.7 107.5 634.9 123.9 635.1 112.1 635.4 128.8 635.6 109.3 635.8 126.6 636 110.4 636.2 131.4 636.5 110.3 636.7 126.9 636.9 113.3 637.1 126.1 637.3 113.4 637.6 127.7 637.8 107.3 638 124.8 638.2 111.2 638.4 123.3 638.7 110.5 638.9 129 639.1 114 639.3 131.1 639.5 114.7 639.8 127.9 640 117.6 640.2 133 640.4 112.8 640.6 122.6 640.9 114 641.1 123.1 641.3 98.6 641.5 121.3 641.7 115.5 642 126 642.2 120 642.4 135.2 642.6 117.5 642.8 133.2 643.1 118 643.3 130.9 643.5 121 643.7 127.7 643.9 117.9 644.2 134.8 644.4 113.1 644.6 133.3 644.8 117.5 645 137 645.3 124.6 645.5 133.5 645.7 126.5 645.9 138.4 646.1 120.2 646.4 131.1 646.6 119.4 646.8 137.6 647 120.7 647.2 134.8 647.5 120.1 647.7 137.3 647.9 121.1 648.1 131.6 648.3 114.2 648.6 129.4 648.8 118.8 649 132.1 649.2 112.9 649.4 133.1 649.7 121.7 649.9 130.1 650.1 114.3 650.3 123.3 650.5 108.2 650.8 123.4 651 100.7 651.2 121.8 651.4 101.5 651.6 118.3 651.9 103.5 652.1 123.4 652.3 108.8 652.5 121.7 652.7 110.3 653 118.4 653.2 112.1 653.4 124.7 653.6 106.9 653.8 125.4 654.1 107.3 654.3 95.9 654.4 114.5 654.3 117.3 654.5 111 654.7 120.4 654.9 105.7 655.2 122.1 655.4 105.2 655.6 117.3 655.8 99.4 656 119.3 656.3 105.8 656.5 118.5 656.7 98.1 656.9 121.6 657.1 105.5 657.4 119.5 657.6 112.2 657.8 118.8 658 108.6 658.2 125.2 658.5 105.3 658.7 122.9 658.9 110 659.1 122.5 659.3 113.8 659.6 121.4 659.8 105.2 660 115.2 660.2 112.6 660.4 119.2 660.7 104.3 660.9 115.9 661.1 97.8 661.3 107 661.5 99.5 661.8 106.4 662 76.9 662.2 112 662.4 96.1 662.6 118.2 662.9 106.1 663.1 116 663.3 108.8 663.5 128.6 663.7 109.2 664 119.3 664.2 93.8 664.4 109.5 664.6 95.6 664.8 118.5 665.1 105.5 665.3 118.8 665.5 104.8 665.7 108.6 665.9 97.5 666.2 112.1 666.4 96.8 666.6 115 666.8 107.2 667 119.3 667.3 108.1 667.5 123.2 667.7 107.4 667.9 125.6 668.1 107.5 668.4 124.2 668.6 105.7 668.8 124.1 669 114 669.2 125.1 669.5 102.5 669.7 119.5 669.9 113.6 670.1 124.7 670.3 106.8 670.6 117.7 670.8 108.5 671 125.8 671.2 110.3 671.4 120.9 671.7 111.7 671.9 125.4 672.1 106.1 672.3 119.4 672.5 106.4 672.8 117.2 673 110.4 673.2 123 673.4 95.8 673.6 114.6 673.9 95 674.1 123.1 674.3 109.9 674.5 117.6 674.7 111.8 675 120 675.2 109.8 675.4 123.8 675.6 99.7 675.8 85 675.9 115.7 675.8 122.1 676.1 106.2 676.3 122.1 676.5 105.9 676.7 123.9 676.9 108.6 677.2 122.6 677.4 103.1 677.6 124.2 677.8 111.9 678 124 678.3 105.6 678.5 124.6 678.7 107.5 678.9 123.5 679.1 112.3 679.4 123 679.6 109 679.8 125.6 680 107.2 680.2 119.2 680.5 111.8 680.7 116.7 680.9 113 681.1 123.5 681.3 110.1 681.6 122.1 681.8 99.9 682 123.5 682.2 105.4 682.4 114.8 682.7 107.4 682.9 116 683.1 106.3 683.3 118.2 683.5 94.3 683.8 106.7 684 99.3 684.2 113.9 684.4 100.7 684.6 119.9 684.9 103.9 685.1 121.5 685.3 103.8 685.5 117.8 685.7 111.9 686 125.1 686.2 106 686.4 122 686.6 107.1 686.8 120.4 687.1 105.9 687.3 118.8 687.5 102.7 687.7 132.4 687.9 103.6 688.2 124.9 688.4 103.2 688.6 122.2 688.8 104.5 689 117.4 689.3 110.7 689.5 117.3 689.7 102.1 689.9 124.1 690.1 109.3 690.4 117.9 690.6 109.9 690.8 124.4 691 105.3 691.2 122.4 691.5 88.8 691.7 127.9 691.9 109.9 692.1 117.6 692.3 105.5 692.6 121.3 692.8 100.8 693 115.5 693.2 104.3 693.4 121.2 693.7 107.1 693.9 121.6 694.1 108.6 694.3 119.4 694.5 105.5 694.8 117.9 695 107.3 695.2 116.2 695.4 103.3 695.6 112.6 695.9 107 696.1 123.2 696.3 101.2 696.5 110.5 696.7 99.1 697 117 697.2 101.5 697.4 90.5 697.5 109.3 697.4 114.5 697.6 97.7 697.8 111.4 698.1 94 698.3 121.6 698.5 102.9 698.7 119.3 698.9 97.6 699.2 118.2 699.4 102.7 699.6 125.8 699.8 88.5 699.9 109.7 699.8 92.5 700 112.1 700.3 97.1 700.5 117.7 700.7 94.7 700.9 119.8 701.1 99.2 701.4 108.5 701.6 95.7 701.8 113.1 702 89.7 702.2 100.3 702.5 93.3 702.7 116.9 702.9 97.6 703.1 119 703.3 99 703.6 120.6 703.8 108.1 704 125.6 704.2 107.4 704.4 117.7 704.7 105.9 704.9 121.5 705.1 104.4 705.3 114.9 705.5 96.9 705.8 115.3 706 100.7 706.2 123.3 706.4 104.5 706.6 111.7 706.9 102.5 707.1 117.1 707.3 99.5 707.5 120.7 707.7 104.2 708 120.1 708.2 106 708.4 119.1 708.6 103.5 708.8 121.3 709.1 84.1 709.3 110.8 709.5 93.5 709.7 109.4 709.9 80.7 710.2 109.5 710.4 86 710.6 118.2 710.8 104.8 711 121.8 711.3 104.5 711.5 117.7 711.7 102.8 711.9 122.3 712.1 102.1 712.4 117 712.6 106.3 712.8 118.5 713 106.4 713.2 121.9 713.5 111.3 713.7 124.2 713.9 99.9 714.1 112.1 714.3 109 714.6 118.9 714.8 104.7 715 119.8 715.2 105.2 715.4 122 715.7 87.8 715.9 116.6 716.1 108.1 716.3 128.6 716.5 113 716.8 113.9 717 106.6 717.2 119.5 717.4 107.8 717.6 116.1 717.9 105 718.1 120.2 718.3 110.3 718.5 120.8 718.7 111.7 719 122.2 719.2 109.4 719.4 124.6 719.6 106.4 719.8 126.2 720.1 107.7 720.3 124.3 720.5 101.3 720.7 124.2 720.9 107.7 721.2 119 721.4 103.4 721.6 121.9 721.8 110 722 119.7 722.3 104.8 722.5 122 722.7 103.3 722.9 128.3 723.1 99.4 723.4 122.6 723.6 106.2 723.8 122.3 724 102.9 724.2 120.8 724.5 102 724.7 128.8 724.9 103.2" stroke="#1f5cb4" stroke-width="1.2" fill="none" stroke-linejoin="bevel"/>
<path d="M51 12.2V175.6M48 175.6H745.2M745.2 12.2V175.6M48 12.2H748.2M51 175.6V178.6M74.9 175.6V178.6M98.9 175.6V178.6M122.8 175.6V178.6M146.8 175.6V178.6M170.7 175.6V178.6M194.6 175.6V178.6M218.6 175.6V178.6M242.5 175.6V178.6M266.5 175.6V178.6M290.4 175.6V178.6M314.3 175.6V178.6M338.3 175.6V178.6M362.2 175.6V178.6M386.2 175.6V178.6M410.1 175.6V178.6M434 175.6V178.6M458 175.6V178.6M481.9 175.6V178.6M505.9 175.6V178.6M529.8 175.6V178.6M553.7 175.6V178.6M577.7 175.6V178.6M601.6 175.6V178.6M625.6 175.6V178.6M649.5 175.6V178.6M673.4 175.6V178.6M697.4 175.6V178.6M721.3 175.6V178.6M745.2 175.6V178.6M48 175.6H51M48 155.2H51M48 134.8H51M48 114.3H51M48 93.9H51M48 73.5H51M48 53H51M48 32.6H51M48 12.2H51M745.2 175.6H748.2M745.2 159.3H748.2M745.2 142.9H748.2M745.2 126.6H748.2M745.2 110.2H748.2M745.2 93.9H748.2M745.2 77.6H748.2M745.2 61.2H748.2M745.2 44.9H748.2M745.2 28.5H748.2M745.2 12.2H748.2" stroke="#6b6b6e" stroke-width="1.3" fill="none"/>
<path d="M54 92.3L57.9 96.2L54 100.1L50.1 96.2ZM58 91.1L61.9 95L58 98.9L54.1 95ZM73.8 117.5L77.7 121.4L73.8 125.3L69.9 121.4ZM82.1 117.5L86 121.4L82.1 125.3L78.2 121.4ZM100.1 124.2L104 128.1L100.1 132L96.2 128.1ZM124.9 109.1L128.8 113L124.9 116.9L121 113ZM145.8 118.6L149.7 122.5L145.8 126.4L141.9 122.5ZM153.7 112.8L157.6 116.7L153.7 120.6L149.8 116.7ZM169.4 111.9L173.3 115.8L169.4 119.7L165.5 115.8ZM178.2 114.6L182.1 118.5L178.2 122.4L174.3 118.5ZM193.5 100.6L197.4 104.5L193.5 108.4L189.6 104.5ZM202 99.5L205.9 103.4L202 107.3L198.1 103.4ZM217.8 110.3L221.7 114.2L217.8 118.1L213.9 114.2ZM225.8 110.5L229.7 114.4L225.8 118.3L221.9 114.4ZM242.5 105.1L246.4 109L242.5 112.9L238.6 109ZM250.5 104L254.4 107.9L250.5 111.8L246.6 107.9ZM269 93.9L272.9 97.8L269 101.7L265.1 97.8ZM292.6 84.2L296.5 88.1L292.6 92L288.7 88.1ZM316.7 103.3L320.6 107.2L316.7 111.1L312.8 107.2ZM321.9 119.7L325.8 123.6L321.9 127.5L318 123.6ZM337.2 99.9L341.1 103.8L337.2 107.7L333.3 103.8ZM344.4 92.3L348.3 96.2L344.4 100.1L340.5 96.2ZM361.3 99.9L365.2 103.8L361.3 107.7L357.4 103.8ZM368.7 96.1L372.6 100L368.7 103.9L364.8 100ZM384.9 104L388.8 107.9L384.9 111.8L381 107.9ZM392.3 106.7L396.2 110.6L392.3 114.5L388.4 110.6ZM408.2 124.9L412.1 128.8L408.2 132.7L404.3 128.8ZM435 95L438.9 98.9L435 102.8L431.1 98.9ZM466 107.4L469.9 111.3L466 115.2L462.1 111.3ZM480.6 100.2L484.5 104.1L480.6 108L476.7 104.1ZM489 114.8L492.9 118.7L489 122.6L485.1 118.7ZM504.3 104.7L508.2 108.6L504.3 112.5L500.4 108.6ZM512.1 96.1L516 100L512.1 103.9L508.2 100ZM527.9 99.3L531.8 103.2L527.9 107.1L524 103.2ZM536.2 88.9L540.1 92.8L536.2 96.7L532.3 92.8ZM552 100.6L555.9 104.5L552 108.4L548.1 104.5ZM560 100.1L563.9 104L560 107.9L556.1 104ZM576.2 108.6L580.1 112.5L576.2 116.4L572.4 112.5ZM583.8 124.1L587.6 128L583.8 131.9L579.9 128ZM603.2 100.6L607.1 104.5L603.2 108.4L599.4 104.5ZM630.8 85.6L634.6 89.5L630.8 93.4L626.9 89.5ZM647.5 121.1L651.4 125L647.5 128.9L643.6 125ZM655.5 112.3L659.4 116.2L655.5 120.2L651.6 116.2ZM671.2 117.3L675.1 121.2L671.2 125.2L667.4 121.2ZM695.8 99.1L699.6 103L695.8 106.9L691.9 103ZM703.8 96.1L707.6 100L703.8 103.9L699.9 100ZM719.5 112.8L723.4 116.8L719.5 120.7L715.6 116.8Z" fill="#f2903a" stroke="#9c5522" stroke-width="0.9"/>
<path d="M173.7 164.8L178.2 174L169.2 174ZM194 164.8L198.5 174L189.5 174ZM219.4 164.8L223.9 174L214.9 174Z" fill="#17a04a" stroke="#0d6e30" stroke-width="0.7"/>
<text x="43" y="179" text-anchor="end" style="font-family:'Liberation Sans', sans-serif;font-weight:bold;font-size:9.7px;letter-spacing:0.85px;fill:#2b2b2b;stroke:#2b2b2b;stroke-width:0.35px">0</text><text x="43" y="158.6" text-anchor="end" style="font-family:'Liberation Sans', sans-serif;font-weight:bold;font-size:9.7px;letter-spacing:0.85px;fill:#2b2b2b;stroke:#2b2b2b;stroke-width:0.35px">3</text><text x="43" y="138.2" text-anchor="end" style="font-family:'Liberation Sans', sans-serif;font-weight:bold;font-size:9.7px;letter-spacing:0.85px;fill:#2b2b2b;stroke:#2b2b2b;stroke-width:0.35px">6</text><text x="43" y="117.7" text-anchor="end" style="font-family:'Liberation Sans', sans-serif;font-weight:bold;font-size:9.7px;letter-spacing:0.85px;fill:#2b2b2b;stroke:#2b2b2b;stroke-width:0.35px">9</text><text x="43" y="97.3" text-anchor="end" style="font-family:'Liberation Sans', sans-serif;font-weight:bold;font-size:9.7px;letter-spacing:0.85px;fill:#2b2b2b;stroke:#2b2b2b;stroke-width:0.35px">12</text><text x="43" y="76.9" text-anchor="end" style="font-family:'Liberation Sans', sans-serif;font-weight:bold;font-size:9.7px;letter-spacing:0.85px;fill:#2b2b2b;stroke:#2b2b2b;stroke-width:0.35px">15</text><text x="43" y="56.4" text-anchor="end" style="font-family:'Liberation Sans', sans-serif;font-weight:bold;font-size:9.7px;letter-spacing:0.85px;fill:#2b2b2b;stroke:#2b2b2b;stroke-width:0.35px">18</text><text x="43" y="36" text-anchor="end" style="font-family:'Liberation Sans', sans-serif;font-weight:bold;font-size:9.7px;letter-spacing:0.85px;fill:#2b2b2b;stroke:#2b2b2b;stroke-width:0.35px">21</text><text x="43" y="15.6" text-anchor="end" style="font-family:'Liberation Sans', sans-serif;font-weight:bold;font-size:9.7px;letter-spacing:0.85px;fill:#2b2b2b;stroke:#2b2b2b;stroke-width:0.35px">24</text><text x="51.4" y="191.2" text-anchor="middle" style="font-family:'Liberation Sans', sans-serif;font-weight:bold;font-size:9.7px;letter-spacing:0.85px;fill:#2b2b2b;stroke:#2b2b2b;stroke-width:0.35px">0</text><text x="75.3" y="191.2" text-anchor="middle" style="font-family:'Liberation Sans', sans-serif;font-weight:bold;font-size:9.7px;letter-spacing:0.85px;fill:#2b2b2b;stroke:#2b2b2b;stroke-width:0.35px">1</text><text x="99.3" y="191.2" text-anchor="middle" style="font-family:'Liberation Sans', sans-serif;font-weight:bold;font-size:9.7px;letter-spacing:0.85px;fill:#2b2b2b;stroke:#2b2b2b;stroke-width:0.35px">2</text><text x="123.2" y="191.2" text-anchor="middle" style="font-family:'Liberation Sans', sans-serif;font-weight:bold;font-size:9.7px;letter-spacing:0.85px;fill:#2b2b2b;stroke:#2b2b2b;stroke-width:0.35px">3</text><text x="147.2" y="191.2" text-anchor="middle" style="font-family:'Liberation Sans', sans-serif;font-weight:bold;font-size:9.7px;letter-spacing:0.85px;fill:#2b2b2b;stroke:#2b2b2b;stroke-width:0.35px">4</text><text x="171.1" y="191.2" text-anchor="middle" style="font-family:'Liberation Sans', sans-serif;font-weight:bold;font-size:9.7px;letter-spacing:0.85px;fill:#2b2b2b;stroke:#2b2b2b;stroke-width:0.35px">5</text><text x="195" y="191.2" text-anchor="middle" style="font-family:'Liberation Sans', sans-serif;font-weight:bold;font-size:9.7px;letter-spacing:0.85px;fill:#2b2b2b;stroke:#2b2b2b;stroke-width:0.35px">6</text><text x="219" y="191.2" text-anchor="middle" style="font-family:'Liberation Sans', sans-serif;font-weight:bold;font-size:9.7px;letter-spacing:0.85px;fill:#2b2b2b;stroke:#2b2b2b;stroke-width:0.35px">7</text><text x="242.9" y="191.2" text-anchor="middle" style="font-family:'Liberation Sans', sans-serif;font-weight:bold;font-size:9.7px;letter-spacing:0.85px;fill:#2b2b2b;stroke:#2b2b2b;stroke-width:0.35px">8</text><text x="266.9" y="191.2" text-anchor="middle" style="font-family:'Liberation Sans', sans-serif;font-weight:bold;font-size:9.7px;letter-spacing:0.85px;fill:#2b2b2b;stroke:#2b2b2b;stroke-width:0.35px">9</text><text x="290.8" y="191.2" text-anchor="middle" style="font-family:'Liberation Sans', sans-serif;font-weight:bold;font-size:9.7px;letter-spacing:0.85px;fill:#2b2b2b;stroke:#2b2b2b;stroke-width:0.35px">10</text><text x="314.7" y="191.2" text-anchor="middle" style="font-family:'Liberation Sans', sans-serif;font-weight:bold;font-size:9.7px;letter-spacing:0.85px;fill:#2b2b2b;stroke:#2b2b2b;stroke-width:0.35px">11</text><text x="338.7" y="191.2" text-anchor="middle" style="font-family:'Liberation Sans', sans-serif;font-weight:bold;font-size:9.7px;letter-spacing:0.85px;fill:#2b2b2b;stroke:#2b2b2b;stroke-width:0.35px">12</text><text x="362.6" y="191.2" text-anchor="middle" style="font-family:'Liberation Sans', sans-serif;font-weight:bold;font-size:9.7px;letter-spacing:0.85px;fill:#2b2b2b;stroke:#2b2b2b;stroke-width:0.35px">13</text><text x="386.6" y="191.2" text-anchor="middle" style="font-family:'Liberation Sans', sans-serif;font-weight:bold;font-size:9.7px;letter-spacing:0.85px;fill:#2b2b2b;stroke:#2b2b2b;stroke-width:0.35px">14</text><text x="410.5" y="191.2" text-anchor="middle" style="font-family:'Liberation Sans', sans-serif;font-weight:bold;font-size:9.7px;letter-spacing:0.85px;fill:#2b2b2b;stroke:#2b2b2b;stroke-width:0.35px">15</text><text x="434.4" y="191.2" text-anchor="middle" style="font-family:'Liberation Sans', sans-serif;font-weight:bold;font-size:9.7px;letter-spacing:0.85px;fill:#2b2b2b;stroke:#2b2b2b;stroke-width:0.35px">16</text><text x="458.4" y="191.2" text-anchor="middle" style="font-family:'Liberation Sans', sans-serif;font-weight:bold;font-size:9.7px;letter-spacing:0.85px;fill:#2b2b2b;stroke:#2b2b2b;stroke-width:0.35px">17</text><text x="482.3" y="191.2" text-anchor="middle" style="font-family:'Liberation Sans', sans-serif;font-weight:bold;font-size:9.7px;letter-spacing:0.85px;fill:#2b2b2b;stroke:#2b2b2b;stroke-width:0.35px">18</text><text x="506.3" y="191.2" text-anchor="middle" style="font-family:'Liberation Sans', sans-serif;font-weight:bold;font-size:9.7px;letter-spacing:0.85px;fill:#2b2b2b;stroke:#2b2b2b;stroke-width:0.35px">19</text><text x="530.2" y="191.2" text-anchor="middle" style="font-family:'Liberation Sans', sans-serif;font-weight:bold;font-size:9.7px;letter-spacing:0.85px;fill:#2b2b2b;stroke:#2b2b2b;stroke-width:0.35px">20</text><text x="554.1" y="191.2" text-anchor="middle" style="font-family:'Liberation Sans', sans-serif;font-weight:bold;font-size:9.7px;letter-spacing:0.85px;fill:#2b2b2b;stroke:#2b2b2b;stroke-width:0.35px">21</text><text x="578.1" y="191.2" text-anchor="middle" style="font-family:'Liberation Sans', sans-serif;font-weight:bold;font-size:9.7px;letter-spacing:0.85px;fill:#2b2b2b;stroke:#2b2b2b;stroke-width:0.35px">22</text><text x="602" y="191.2" text-anchor="middle" style="font-family:'Liberation Sans', sans-serif;font-weight:bold;font-size:9.7px;letter-spacing:0.85px;fill:#2b2b2b;stroke:#2b2b2b;stroke-width:0.35px">23</text><text x="626" y="191.2" text-anchor="middle" style="font-family:'Liberation Sans', sans-serif;font-weight:bold;font-size:9.7px;letter-spacing:0.85px;fill:#2b2b2b;stroke:#2b2b2b;stroke-width:0.35px">24</text><text x="649.9" y="191.2" text-anchor="middle" style="font-family:'Liberation Sans', sans-serif;font-weight:bold;font-size:9.7px;letter-spacing:0.85px;fill:#2b2b2b;stroke:#2b2b2b;stroke-width:0.35px">25</text><text x="673.8" y="191.2" text-anchor="middle" style="font-family:'Liberation Sans', sans-serif;font-weight:bold;font-size:9.7px;letter-spacing:0.85px;fill:#2b2b2b;stroke:#2b2b2b;stroke-width:0.35px">26</text><text x="697.8" y="191.2" text-anchor="middle" style="font-family:'Liberation Sans', sans-serif;font-weight:bold;font-size:9.7px;letter-spacing:0.85px;fill:#2b2b2b;stroke:#2b2b2b;stroke-width:0.35px">27</text><text x="721.7" y="191.2" text-anchor="middle" style="font-family:'Liberation Sans', sans-serif;font-weight:bold;font-size:9.7px;letter-spacing:0.85px;fill:#2b2b2b;stroke:#2b2b2b;stroke-width:0.35px">28</text><text x="745.6" y="191.2" text-anchor="middle" style="font-family:'Liberation Sans', sans-serif;font-weight:bold;font-size:9.7px;letter-spacing:0.85px;fill:#2b2b2b;stroke:#2b2b2b;stroke-width:0.35px">29</text><text x="754" y="179" style="font-family:'Liberation Sans', sans-serif;font-weight:bold;font-size:9.7px;letter-spacing:0.85px;fill:#2b2b2b;stroke:#2b2b2b;stroke-width:0.35px">0</text><text x="754" y="162.7" style="font-family:'Liberation Sans', sans-serif;font-weight:bold;font-size:9.7px;letter-spacing:0.85px;fill:#2b2b2b;stroke:#2b2b2b;stroke-width:0.35px">25</text><text x="754" y="146.3" style="font-family:'Liberation Sans', sans-serif;font-weight:bold;font-size:9.7px;letter-spacing:0.85px;fill:#2b2b2b;stroke:#2b2b2b;stroke-width:0.35px">50</text><text x="754" y="130" style="font-family:'Liberation Sans', sans-serif;font-weight:bold;font-size:9.7px;letter-spacing:0.85px;fill:#2b2b2b;stroke:#2b2b2b;stroke-width:0.35px">75</text><text x="754" y="113.6" style="font-family:'Liberation Sans', sans-serif;font-weight:bold;font-size:9.7px;letter-spacing:0.85px;fill:#2b2b2b;stroke:#2b2b2b;stroke-width:0.35px">100</text><text x="754" y="97.3" style="font-family:'Liberation Sans', sans-serif;font-weight:bold;font-size:9.7px;letter-spacing:0.85px;fill:#2b2b2b;stroke:#2b2b2b;stroke-width:0.35px">125</text><text x="754" y="81" style="font-family:'Liberation Sans', sans-serif;font-weight:bold;font-size:9.7px;letter-spacing:0.85px;fill:#2b2b2b;stroke:#2b2b2b;stroke-width:0.35px">150</text><text x="754" y="64.6" style="font-family:'Liberation Sans', sans-serif;font-weight:bold;font-size:9.7px;letter-spacing:0.85px;fill:#2b2b2b;stroke:#2b2b2b;stroke-width:0.35px">175</text><text x="754" y="48.3" style="font-family:'Liberation Sans', sans-serif;font-weight:bold;font-size:9.7px;letter-spacing:0.85px;fill:#2b2b2b;stroke:#2b2b2b;stroke-width:0.35px">200</text><text x="754" y="31.9" style="font-family:'Liberation Sans', sans-serif;font-weight:bold;font-size:9.7px;letter-spacing:0.85px;fill:#2b2b2b;stroke:#2b2b2b;stroke-width:0.35px">225</text><text x="754" y="15.6" style="font-family:'Liberation Sans', sans-serif;font-weight:bold;font-size:9.7px;letter-spacing:0.85px;fill:#2b2b2b;stroke:#2b2b2b;stroke-width:0.35px">250</text>
<text x="399.4" y="210" text-anchor="middle" textLength="81.3" lengthAdjust="spacingAndGlyphs" style="font-family:'Liberation Sans', sans-serif;font-weight:bold;font-size:13.8px;fill:#1c1c1c">Time [Days]</text>
<text transform="translate(24.5 89.3) rotate(-90)" text-anchor="middle" textLength="120.6" lengthAdjust="spacingAndGlyphs" style="font-family:'Liberation Sans', sans-serif;font-weight:bold;font-size:13.8px;fill:#1c1c1c">CGS Current [nA]</text>
<text transform="translate(781.4 93.6) rotate(90)" text-anchor="middle" textLength="158.2" lengthAdjust="spacingAndGlyphs" style="font-family:'Liberation Sans', sans-serif;font-weight:bold;font-size:13.8px;fill:#1c1c1c">Blood Glucose [mg/dL]</text>
<ellipse cx="67" cy="28.5" rx="11.2" ry="11.9" fill="#fff" stroke="#111" stroke-width="1.6"/>
<text x="67" y="34.8" text-anchor="middle" style="font-family:'Liberation Sans', sans-serif;font-weight:bold;font-size:17.5px;fill:#111;stroke:#111;stroke-width:0.7px">A</text>
<path d="M648 21.6H660" stroke="#2f62c8" stroke-width="1.8"/>
<text x="660.6" y="25.3" textLength="54.8" lengthAdjust="spacing" style="font-family:'Liberation Sans', sans-serif;font-weight:bold;font-size:8.0px;fill:#333;stroke:#333;stroke-width:0.15px">CGS Current</text>
<path d="M653.7 33.6L656 37.9L651.4 37.9Z" fill="#1f8a45"/>
<text x="660.6" y="38.7" textLength="64.6" lengthAdjust="spacing" style="font-family:'Liberation Sans', sans-serif;font-weight:bold;font-size:8.0px;fill:#333;stroke:#333;stroke-width:0.15px">Viral Injection</text>
<circle cx="653.7" cy="49.1" r="2.2" fill="#c8844a"/>
<text x="660.6" y="52.3" textLength="63.6" lengthAdjust="spacing" style="font-family:'Liberation Sans', sans-serif;font-weight:bold;font-size:8.0px;fill:#333;stroke:#333;stroke-width:0.15px">Blood Glucose</text>
<path d="M73.4 249.5V412.4M97.3 249.5V412.4M121.2 249.5V412.4M145.2 249.5V412.4M169.1 249.5V412.4M193 249.5V412.4M216.9 249.5V412.4M240.8 249.5V412.4M264.7 249.5V412.4M288.6 249.5V412.4M312.6 249.5V412.4M336.5 249.5V412.4M360.4 249.5V412.4M384.3 249.5V412.4M408.2 249.5V412.4M432.1 249.5V412.4M456 249.5V412.4M479.9 249.5V412.4M503.9 249.5V412.4M527.8 249.5V412.4M551.7 249.5V412.4M575.6 249.5V412.4M599.5 249.5V412.4M623.4 249.5V412.4M647.3 249.5V412.4M671.3 249.5V412.4M695.2 249.5V412.4M719.1 249.5V412.4M49.5 389.1H743M49.5 365.9H743M49.5 342.6H743M49.5 319.3H743M49.5 296H743M49.5 272.8H743M49.5 249.5H743" stroke="#8e9098" stroke-width="1.1" fill="none"/>
<clipPath id="clipB"><rect x="49.5" y="249" width="693.5" height="163.4"/></clipPath>
<path clip-path="url(#clipB)" d="M49.5 271.3 49.9 283.6 50.2 272.1 50.6 289.8 50.7 267.3 50.8 282.9 50.9 272.9 51.3 288.3 51.7 274.1 52 291.2 52.4 271.3 52.7 291 53.1 268.9 53.2 285.6 53.1 272.4 53.5 292 53.8 275.7 54.2 295.9 54.5 287.1 54.9 291.7 55.3 276.4 55.6 293.4 56 279 56.3 302.6 56.7 280.3 57.1 312.6 57.4 302 57.8 325.2 58.1 303.9 58.5 329.4 58.9 300.8 59.2 329.2 59.6 305.5 59.9 330 60.3 299.1 60.4 315.4 60.3 305.9 60.7 322.6 61 310.9 61.4 321.7 61.7 309.3 62.1 329 62.5 308.4 62.8 328.9 63.2 314.8 63.5 333.9 63.9 321.3 64.3 351 64.6 351.9 65 374.6 65.3 370.1 65.7 388.2 66.1 360.8 66.4 365.3 66.8 349.7 67.1 386.4 67.5 372.3 67.9 378.5 68.2 375.3 68.6 377.2 68.9 361.6 69.3 386.5 69.7 375.2 70 391 70.4 367.8 70.7 367.2 71.1 365.4 71.5 387.3 71.8 365.7 72.2 388.2 72.5 370.1 72.9 386.3 73.3 375 73.6 388.1 74 362.9 74.3 369.4 74.7 349.7 75.1 378.2 75.4 375.2 75.8 378.6 76.1 362.5 76.5 383.6 76.9 363 77.2 386.2 77.6 367.4 77.9 380.6 78.3 351.7 78.7 358.2 79 347.6 79.4 375.2 79.7 354.6 80.1 367.3 80.5 357 80.6 390.7 80.7 362.6 80.6 325.5 80.7 362.6 80.8 371.9 81.2 354.8 81.5 366.9 81.9 346 82.3 370.1 82.6 340.3 83 371.1 83.3 357.8 83.7 368.5 84.1 345.6 84.4 367.1 84.8 333.7 85.1 363.3 85.5 345.9 85.9 360 86.2 350 86.6 363 86.9 354.7 87.3 365.6 87.7 355.5 87.8 338.7 87.9 359.1 88 363.5 88.4 350.6 88.7 371.7 89.1 341.9 89.5 372.5 89.8 342.9 90.2 358.9 90.5 344.5 90.9 367.2 91.3 350.1 91.6 365.1 92 351 92.3 371.9 92.7 348.1 93.1 365.3 93.4 355.6 93.8 370.8 94.1 352.7 94.5 364 94.9 345 95.2 359 95.6 337.4 95.9 352.9 96.3 331.7 96.7 349.6 97 331.5 97.4 344.2 97.7 327.5 98.1 344.8 98.5 332 98.8 359 99.2 331.6 99.5 356.2 99.9 331.5 100.3 360.3 100.6 326.9 101 347.2 101.3 327.6 101.7 345 102.1 321.7 102.4 337.6 102.8 320 103.1 348.4 103.5 326.9 103.9 351.1 104.2 324.5 104.5 320.9 104.6 342.6 104.6 354.4 104.9 331.7 105.3 343.6 105.7 330.9 106 356.8 106.4 339.9 106.7 355.4 107.1 330.9 107.5 347.8 107.8 339.4 108.2 351.6 108.5 333.2 108.9 348.3 109.3 325.2 109.6 357.2 110 331.8 110.3 352.9 110.7 333.2 111.1 338.2 111.4 328.8 111.8 356.4 112.1 339.9 112.5 360.3 112.9 344.4 113.2 355.7 113.6 329.8 113.9 362.8 114.3 339 114.7 356.6 115 341.4 115.4 356.4 115.7 324.8 116.1 354.8 116.5 336.3 116.8 357.2 117.2 346.8 117.5 357.5 117.9 336.6 118.3 360.8 118.6 344.8 119 355.7 119.3 335.9 119.7 363.6 120.1 342.2 120.4 351.2 120.8 343.4 121.1 353.7 121.5 334.4 121.9 360.7 122.2 334.1 122.6 355 122.9 339.8 123.3 356.9 123.7 332.6 124 358.5 124.4 345.2 124.7 367.2 125.1 340.9 125.5 365.5 125.8 339 126 317 126.1 353.1 126.2 366 126.5 346.8 126.9 365.4 127.3 345.5 127.6 369.1 128 344.6 128.3 359.1 128.7 336.5 129.1 362.4 129.4 340.1 129.8 364 130.1 349.3 130.5 363.9 130.9 343.6 131.2 363.2 131.6 352.8 131.9 361.7 132.3 347.3 132.7 364.6 133 350.6 133.2 377.5 133.3 356.8 133.4 363.5 133.7 336.2 134.1 364.9 134.5 335.5 134.8 355.3 135.2 336.7 135.5 350.8 135.9 326.8 136.1 309.2 136.2 340.6 136.3 348.8 136.6 333.3 137 346.4 137.3 325.2 137.7 346.6 138.1 327.8 138.4 352.4 138.8 326.9 139.1 353.3 139.5 325.1 139.9 354.2 140.2 333.8 140.6 343.7 140.9 337.7 141.3 362.4 141.7 335.2 142 349 142.4 325.8 142.7 352.6 143.1 331.6 143.5 352 143.8 332 144.2 340.5 144.5 318.4 144.9 342.9 145.2 319.3 145.3 339.9 145.3 328.1 145.6 350.2 146 327.6 146.3 342.5 146.7 330.4 147.1 346.4 147.4 332.6 147.8 346.6 148.1 328.6 148.5 347.4 148.9 329 149.2 344.3 149.6 329.7 149.9 340.8 150.3 334.4 150.7 345.3 151 325.2 151.4 346.4 151.7 336.8 152.1 350.8 152.5 325.8 152.8 342.3 153.2 331.3 153.5 352 153.9 327.7 154.3 345 154.6 328.4 155 344.7 155.3 331 155.7 346.4 156.1 331.9 156.4 341.4 156.8 332.7 157.1 341.4 157.5 329.3 157.9 346.2 158.2 334.6 158.6 348.8 158.9 331.9 159.3 344.9 159.7 334 160 346.1 160.4 331.3 160.7 344 161.1 329.7 161.5 342.7 161.8 329 162.2 347.6 162.5 334 162.9 358.2 163.3 333.9 163.6 343.3 164 327.6 164.3 341.5 164.7 317.2 165.1 338 165.4 327.9 165.8 339 166.1 325.8 166.5 344.4 166.9 325.7 167.2 342 167.6 325.4 167.9 346 168.3 328.3 168.7 344.1 169 319.4 169.1 315.4 169.2 336.4 169.4 339.4 169.7 330.2 170.1 348.2 170.5 329.2 170.8 340.6 171.2 328.6 171.5 338.7 171.9 318.4 172.3 343 172.6 334 173 344.4 173.3 327.9 173.7 346.2 174.1 334.4 174.4 338.4 174.8 330.2 175.1 345.7 175.5 324.2 175.9 345.2 176.2 326.8 176.6 339.9 176.9 326.8 177.3 349.4 177.7 330.2 178 345.5 178.4 325.2 178.7 349.7 179.1 325.1 179.5 345.1 179.8 335.1 180.2 353.7 180.5 321.5 180.9 347.4 181.3 326.4 181.6 343.9 182 321.8 182.3 347 182.7 324 183.1 342.9 183.4 334.8 183.8 349 184.1 328.3 184.5 340.1 184.9 334.7 185.2 355.4 185.6 327.6 185.9 349.6 186.3 325.5 186.7 340.3 187 323.2 187.4 333.8 187.7 311.6 188.1 343.9 188.5 327.6 188.8 353.2 189.2 333.1 189.5 342.4 189.9 336.9 190.3 356.4 190.6 325.8 191 349 191.3 328.1 191.7 345.1 192.1 319.9 192.4 359.5 192.8 321.3 193 375.2 193.1 338.7 193 285.2 193.1 338.7 193.1 351.7 193.5 323.5 193.9 354.3 194.2 321.1 194.6 353.5 194.9 325.9 195.3 358.1 195.7 328.7 196 358.2 196.4 324.8 196.7 343.4 197.1 324.5 197.5 358 197.8 328.5 198.2 355.1 198.5 329 198.9 348.2 199.3 323.8 199.6 349.3 200 319.1 200.2 311.6 200.3 338.7 200.3 349.2 200.7 324.2 201.1 349.6 201.4 312.4 201.8 338.9 202.1 317.4 202.5 328.6 202.9 320 203.2 350.1 203.6 321.3 203.9 341.3 204.3 323.3 204.7 340.8 205 299.3 205.4 337.4 205.7 317.2 206.1 348.7 206.5 317.1 206.8 352.5 207.2 317 207.5 357 207.9 324.7 208.3 348.2 208.6 327.5 209 357.7 209.3 335.1 209.7 357.4 210.1 334.5 210.4 348.3 210.8 328.6 211.1 347 211.5 330.8 211.9 347.7 212.2 326.4 212.6 352 212.9 317 213.3 361.5 213.7 322.7 214 352.7 214.4 342.1 214.7 350.2 215.1 305 215.5 346.1 215.8 324 216.2 357.4 216.5 336.8 216.9 345.9 217.3 333.5 217.6 371.3 218 340 218.3 349.2 218.7 323.3 219.1 343.4 219.3 297.6 219.4 346.9 219.4 332.1 219.8 353.8 220.1 334 220.5 362.5 220.9 332 221.2 352.4 221.6 340.2 221.9 363.7 222.3 334.1 222.7 354.6 223 331.5 223.4 351.2 223.7 324.2 224.1 344.9 224.5 321.1 224.8 351.2 225.2 316.7 225.5 350.6 225.9 317.9 226.3 345.6 226.6 340.5 227 360.8 227.3 314.5 227.7 360.7 228.1 342.9 228.4 352 228.8 338.5 229.1 361.5 229.5 339.6 229.9 360.9 230.2 341.8 230.6 369.6 230.9 333.9 231.3 352.4 231.7 324.2 232 345.4 232.4 317.3 232.7 344.2 233.1 330.6 233.5 356.7 233.8 332.9 234.2 354.9 234.5 339.9 234.9 352.4 235.3 330.6 235.6 350.3 236 333.7 236.3 347.1 236.7 323.9 237.1 347.3 237.4 337.5 237.8 362.6 238.1 326 238.5 366.1 238.9 330.4 239.2 345.3 239.6 332 239.9 346.5 240.3 322.1 240.7 349.5 241 321.2 241.4 358.3 241.7 322 242.1 352.2 242.5 325 242.8 357.6 243.2 299.6 243.5 329.4 243.9 324.9 244.3 352.1 244.6 332.7 245 354 245.3 325.9 245.6 296.8 245.7 339.4 245.7 351.8 246.1 312.9 246.4 351.1 246.8 325.1 247.1 353.5 247.5 313.4 247.9 357.1 248.2 331.9 248.6 354.8 248.9 323 249.3 352.5 249.7 328.8 250 347.7 250.4 338.9 250.7 349.9 251.1 338.1 251.5 346.2 251.8 332.9 252.2 353.7 252.5 318.5 252.9 357.3 253.3 323.8 253.6 336.2 254 328 254.3 350.1 254.7 337.3 255.1 349.5 255.4 336.9 255.8 352 256.1 325.1 256.5 343.9 256.9 325.4 257.2 357.7 257.6 373.6 257.7 343.1 257.6 325.8 257.9 355 258.3 321.9 258.7 355.6 259 326.5 259.4 360.1 259.7 336.9 260.1 353.3 260.5 336.5 260.8 355.9 261.2 331.9 261.5 357 261.9 325.7 262.3 340.5 262.6 331 263 342.2 263.3 298.4 263.7 332.4 264.1 317.2 264.4 333.9 264.8 311.5 265.1 334.8 265.5 309 265.9 338.5 266.2 299.7 266.6 344.9 266.9 325.9 267.3 350.7 267.7 332.7 268 335.4 268.4 312.4 268.7 326.5 269.1 308.6 269.5 336.7 269.8 330.4 270.2 346.2 270.5 311.2 270.9 345.7 271.3 312.9 271.6 346.4 271.9 307.7 272 334 272 328.7 272.3 341.4 272.7 322.8 273.1 360 273.4 314.7 273.8 340.6 274.1 308.5 274.5 347.7 274.9 331.1 275.2 345.7 275.6 319.2 275.9 347.7 276.3 319.9 276.7 348.7 277 322.5 277.4 345.5 277.7 322.3 278.1 348.9 278.5 309.5 278.8 352.5 279.2 324.7 279.5 346 279.9 326 280.3 352.6 280.6 302.9 281 344.1 281.3 320 281.7 346.7 282.1 324.2 282.4 344.9 282.8 324.4 283.1 349.9 283.5 325.1 283.9 348.1 284.2 329 284.6 342.4 284.9 317.3 285.3 337.8 285.7 309.1 286 339.5 286.4 326.1 286.7 337 287.1 320.5 287.5 339.8 287.8 317.8 288.2 354.5 288.5 338 288.6 297.6 288.7 342.5 288.9 355.3 289.3 330.6 289.6 341.6 290 316.5 290.3 334.9 290.7 331 291.1 350.1 291.4 331 291.8 341.7 292.1 308.5 292.5 335.3 292.9 323.5 293.2 332.1 293.6 325.8 293.9 348.1 294.3 320.9 294.7 341.7 295 308 295.4 341.1 295.7 317.7 295.8 288.3 295.9 329.1 296.1 332.2 296.3 304.5 296.6 331.9 296.8 295.2 297.1 321.1 297.3 305.4 297.5 335.1 297.8 310.2 298 342 298.3 323.1 298.5 346.3 298.7 327.5 299 335.5 299.2 299 299.5 340.1 299.7 316.7 299.9 339.1 300.2 319.3 300.4 336.6 300.7 322.3 300.9 342.9 301.1 316.3 301.4 330.6 301.6 316.9 301.9 345.9 302.1 321.5 302.3 345.3 302.6 317.2 302.8 347.5 303.1 318.8 303.3 346.2 303.5 316 303.8 345.9 304 327.5 304.3 337.8 304.5 317.3 304.7 340.6 305 318.1 305.2 341.7 305.5 320.2 305.7 336.9 305.9 316.9 306.2 334.6 306.4 317.8 306.7 336.9 306.9 316.1 307.1 337.8 307.4 310.2 307.6 325.4 307.9 314.7 308.1 334.4 308.3 289.2 308.6 342.1 308.8 306.5 309.1 334.2 309.3 320.1 309.5 340.2 309.8 322.2 310 337 310.3 316.1 310.5 344.5 310.7 320 311 343.7 311.2 310.3 311.5 331.2 311.7 319.7 311.9 338.6 312.2 316.9 312.4 328 312.7 325.2 312.9 343 313.1 321.7 313.4 345.9 313.6 327.7 313.9 341.4 314.1 322.1 314.3 346.4 314.6 326.9 314.8 338.2 315.1 318.7 315.3 333.8 315.5 327.9 315.8 339 316 299.8 316.3 334.9 316.5 323.5 316.7 344.2 317 327.5 317.2 341.1 317.5 322.2 317.7 339.2 317.9 313.1 318.2 341.6 318.4 319.3 318.7 341.5 318.9 328.9 319.1 342.9 319.4 303.9 319.6 343.5 319.9 323.1 320.1 346.4 320.3 324.2 320.6 344.7 320.8 320.1 321.1 342.4 321.3 310.5 321.5 343.8 321.8 323.3 322 349.9 322.3 325.2 322.5 342.3 322.7 318.8 323 342.1 323.2 320.7 323.5 340.6 323.7 331 323.9 334.2 324.2 314.1 324.4 327.7 324.5 315.4 324.6 331.9 324.7 321.7 324.9 331 325.1 327 325.4 340 325.6 318.9 325.9 336.9 326.1 321.8 326.3 343.6 326.6 319.8 326.8 337.4 327.1 319.1 327.3 341.5 327.5 330.5 327.8 338.6 328 318.4 328.3 339.7 328.5 327.8 328.7 331.9 329 320.6 329.2 346.3 329.5 314.8 329.7 341.3 329.9 311.3 330.2 340.8 330.4 318.8 330.7 334.2 330.9 319.5 331.1 342.9 331.4 318.7 331.6 344.6 331.9 320.1 332.1 343.3 332.3 321.8 332.6 339.4 332.8 316.5 333.1 335.3 333.3 325.9 333.5 333 333.8 322.9 334 335.7 334.3 310.5 334.5 335.2 334.7 314.3 335 336.3 335.2 312.8 335.5 332.7 335.7 318 335.9 351.6 336.2 325.1 336.4 346.6 336.7 318.7 336.9 341.1 337.1 318.4 337.4 332.3 337.6 324.9 337.9 340.3 338.1 310.1 338.3 342.2 338.6 324.6 338.8 346.4 339.1 308.2 339.3 344.2 339.5 321.3 339.8 337.6 340 323.4 340.3 344.9 340.5 298.2 340.7 339.3 341 328.3 341.2 335.7 341.5 322 341.7 338.1 341.9 325.8 342.2 333.9 342.4 318.7 342.7 330.4 342.9 312.7 343.1 338 343.4 319.5 343.6 334.7 343.9 318.1 344.1 336 344.3 316.4 344.6 334.9 344.8 293.8 345.1 337.1 345.3 305.5 345.5 340.9 345.8 316.7 346 343.8 346.3 324.9 346.5 337.7 346.7 324.5 347 336.2 347.2 327.9 347.5 338.5 347.7 325.1 347.9 344.4 348.2 311.8 348.4 339.9 348.7 297.2 348.9 342.2 349.1 300.9 349.4 346 349.6 321.7 349.9 344.9 350.1 315.7 350.3 330.3 350.6 327.9 350.8 353.5 351.1 316.6 351.3 346.4 351.5 313.6 351.8 340.2 352 312.9 352.3 344.2 352.5 316.5 352.7 334.7 353 317.1 353.2 333.2 353.5 321.1 353.7 345.4 353.9 316.2 354.2 339.6 354.4 311 354.7 342.3 354.9 304.3 355.1 341.3 355.4 317.1 355.6 338.8 355.9 315.2 356.1 336.6 356.3 311.8 356.6 344 356.8 322.5 357.1 340.4 357.3 319.8 357.5 339.5 357.8 317 358 299.9 358.1 327.5 358 331.6 358.3 302.3 358.5 323.8 358.7 282.9 359 328.1 359.2 285.8 359.5 330.1 359.7 299.8 359.9 322.4 360.2 304.7 360.4 278.2 360.5 327.1 360.4 327.8 360.7 296.5 360.9 326.3 361.1 296.4 361.4 324.3 361.6 312.4 361.9 338 362.1 309.7 362.3 337.8 362.6 275.4 362.8 308 363.1 295.3 363.3 327.7 363.5 313 363.8 346 364 286.7 364.3 344.1 364.5 308.5 364.7 340.3 365 321.1 365.2 341.9 365.5 300.8 365.7 335.4 365.9 309 366.2 341.9 366.4 290.8 366.7 338.9 366.9 311.8 367.1 343.1 367.4 317.8 367.6 296 367.7 324.4 367.6 338 367.9 307.1 368.1 336.4 368.3 297.6 368.6 336.7 368.8 291.8 369.1 337.3 369.3 320 369.5 341.3 369.8 309.5 370 339.4 370.3 295.7 370.5 344.9 370.7 300.4 371 337.5 371.2 318.8 371.5 334.2 371.7 318.6 371.9 338.4 372.2 317.6 372.4 333.3 372.7 314.5 372.9 346.3 373.1 320.6 373.4 346.6 373.6 325.7 373.9 334.4 374.1 315.4 374.3 341.6 374.6 319.7 374.8 336.6 375.1 314 375.3 335 375.5 316.3 375.8 335.8 376 315.2 376.3 344.5 376.5 321.5 376.7 337.8 377 314.1 377.2 341.7 377.5 305.5 377.7 346.2 377.9 322.4 378.2 345.2 378.4 327.7 378.7 340.3 378.9 323.1 379.1 338.3 379.4 303.4 379.6 331 379.9 289.6 380.1 321.5 380.3 306.5 380.6 344.3 380.8 312.6 381.1 345.4 381.3 324.3 381.5 340.7 381.8 327.2 381.9 271.2 382 332.8 382 339.9 382.3 321.5 382.5 344 382.7 337.6 383 370.1 383.2 334.7 383.5 353 383.7 347.6 383.9 353.4 384.2 330.5 384.4 380.2 384.7 341.9 384.9 368.3 385.1 333.2 385.4 365.7 385.6 350.7 385.9 372.9 386.1 338.9 386.3 371 386.6 339.7 386.7 385.2 386.8 353.1 386.8 366.4 387.1 346.1 387.3 357.7 387.5 337.3 387.8 356.2 388 325.7 388.3 357 388.5 333.1 388.7 370.6 389 317.6 389.2 364.4 389.5 307 389.7 353 389.9 290.3 390.2 337.3 390.4 319 390.7 359.2 390.9 331.5 391.1 357.6 391.4 338.9 391.6 364.7 391.9 314.7 392.1 365.2 392.3 340.8 392.6 363.8 392.8 335 393.1 360.6 393.3 328.8 393.5 366.2 393.8 334 393.9 274.3 394 345.7 394 352.8 394.3 326.1 394.5 362.6 394.7 329.2 395 351.1 395.2 325.8 395.5 357 395.7 304.3 395.9 345.9 396.2 323 396.4 352.6 396.7 329.3 396.9 358.8 397.1 331.5 397.4 351.8 397.6 337.2 397.9 357.6 398.1 315.6 398.3 346.7 398.6 330.3 398.6 296 398.7 344 398.8 358.8 399.1 331.2 399.3 361.4 399.5 323.5 399.8 349.4 400 331.4 400.3 342.6 400.5 309.2 400.7 339.8 401 304.4 401.2 340.1 401.5 316.3 401.7 347.4 401.9 326.8 402.2 360.6 402.4 335.7 402.7 361.4 402.9 337.7 403.1 343.9 403.4 316.4 403.6 360.6 403.9 335.7 404.1 349.3 404.3 325.2 404.6 358.8 404.8 322.1 405.1 343.9 405.3 341 405.5 356.2 405.8 333.6 406 352 406.3 338.4 406.5 360.4 406.7 322.6 407 355.4 407.2 333.4 407.5 355.4 407.7 313.3 407.9 346.8 408.2 319.4 408.4 342.8 408.7 310.8 408.9 342.3 409.1 323 409.4 349.1 409.6 311.2 409.9 357.2 410.1 304 410.3 348.2 410.6 322.8 410.8 348.5 411.1 332.7 411.3 353 411.5 331.1 411.8 360.3 412 322.1 412.3 363.1 412.5 336.7 412.7 346.1 413 334 413.2 350.2 413.5 305.6 413.7 348.7 413.9 328.2 414.2 353.3 414.4 335.7 414.7 348 414.9 326.6 415.1 350.8 415.4 330.9 415.6 359.9 415.9 327.2 416.1 350.3 416.3 323.1 416.6 358.1 416.8 320.7 417.1 349.1 417.3 335.4 417.5 358.6 417.8 317.5 418 342.7 418.3 328.9 418.5 342.8 418.7 302.8 419 328 419.2 292.9 419.5 320.1 419.7 307.8 419.9 340.4 420.2 317.4 420.4 328.6 420.7 310.8 420.9 335.4 421.1 331.4 421.4 351 421.6 327.1 421.9 353.4 422.1 322.9 422.3 355.6 422.6 299.9 422.7 340.6 422.6 317.6 422.8 350.5 423.1 329.3 423.3 351.2 423.5 337.7 423.8 352.2 424 302.5 424.3 351.7 424.5 313.9 424.7 346.5 425 339.9 425.2 356.8 425.5 331.6 425.7 350.5 425.9 323.1 426.2 356.8 426.4 322.8 426.7 340.7 426.9 331.2 427.1 344.8 427.4 322.9 427.6 352.2 427.9 317.3 428.1 349.6 428.3 319.1 428.6 356.6 428.8 312.2 429.1 344.1 429.3 333.7 429.5 349.4 429.8 337 430 356 430.3 320.9 430.5 344.5 430.7 324.6 431 352.8 431.2 326.8 431.5 349.2 431.7 332.2 431.9 361.1 432.2 317.4 432.4 352.5 432.7 339.8 432.9 343.8 433.1 323.7 433.4 342.1 433.6 330.3 433.9 350.8 434.1 326.3 434.3 358.6 434.6 326.1 434.8 365.5 435.1 328.2 435.3 357 435.5 333.9 435.8 353 436 320.5 436.3 344 436.5 328.6 436.7 340.7 437 326.5 437.2 353.4 437.5 338 437.7 345.5 437.9 323.1 438.2 346.3 438.4 330.4 438.7 355.8 438.9 328.9 439.1 357.2 439.4 331.3 439.6 349.6 439.9 323.1 440.1 342.2 440.3 315.7 440.6 324 440.8 307.6 441.1 327.5 441.3 293.9 441.5 327.4 441.8 311.4 442 335.1 442.3 306 442.5 347.1 442.7 322.3 443 346.8 443.2 325.6 443.5 333.1 443.7 321 443.9 343 444.2 333.6 444.4 332.6 444.7 316.5 444.9 327.4 445.1 296.9 445.4 332.5 445.6 311.1 445.9 352 446.1 327.7 446.3 353.8 446.5 303.8 446.6 342.5 446.6 334.4 446.8 352.5 447.1 317.7 447.3 363.2 447.5 310.5 447.8 343.8 448 331.6 448.3 358.2 448.5 331.3 448.7 354.7 449 305.9 449.2 349.1 449.5 328.9 449.7 352 449.9 317.3 450.2 353.4 450.4 330.3 450.7 340 450.9 307.2 451.1 330.9 451.4 333.4 451.6 359.1 451.9 328.8 452.1 348.7 452.3 342.2 452.6 347.1 452.8 332.6 453.1 349.1 453.3 335.8 453.5 361.5 453.8 342 454 360.5 454.3 325.1 454.5 351 454.7 335.9 455 351.4 455.2 328.9 455.5 346.9 455.7 320.5 455.9 358.1 456 274.3 456.1 343.7 456.2 332 456.4 357 456.7 317.8 456.9 357.1 457.1 330.8 457.4 353.2 457.6 334.4 457.9 362.2 458.1 321.7 458.3 359.8 458.4 381.4 458.5 343.6 458.6 329.3 458.8 358.1 459.1 315.7 459.3 344.9 459.5 326.1 459.8 360.8 460 321.7 460.3 347 460.5 310.9 460.7 351 461 316.7 461.2 357.7 461.5 342.1 461.7 358.2 461.9 338.2 462.2 344.9 462.4 334.6 462.7 352.9 462.9 322.8 463.1 358.8 463.4 326.3 463.6 355.1 463.9 333.7 464.1 362 464.3 333.9 464.6 343.8 464.8 314.9 465.1 347.3 465.3 322.3 465.5 348.5 465.8 336.6 466 356.8 466.3 326.8 466.5 361.9 466.7 330.5 467 351 467.2 332.5 467.5 352 467.7 332.4 467.9 358.7 468.2 339.3 468.4 356.4 468.7 316.3 468.9 349.5 469.1 309 469.4 352 469.6 329 469.9 344.2 470.1 323.2 470.3 361.1 470.6 328.1 470.8 358.3 471.1 318.6 471.3 367.1 471.5 308 471.8 358.5 472 329.6 472.3 357.4 472.5 330.4 472.7 355.1 473 325.9 473.2 353 473.5 306.9 473.7 350.2 473.9 338 474.2 351.7 474.4 315.6 474.7 348.2 474.9 321.8 475.1 347.3 475.4 311.4 475.6 346.6 475.9 318.8 476.1 355.4 476.3 340.3 476.6 357.9 476.8 326.4 477.1 361.2 477.3 322.9 477.5 354.9 477.8 332.9 478 347.4 478.3 333.1 478.5 359.7 478.7 329.3 479 347.5 479.2 329.2 479.5 351.6 479.7 338.8 479.9 354.3 479.9 385.2 480 342.6 480.2 330.6 480.4 355.6 480.7 338 480.9 360.4 481.1 314.2 481.4 360.4 481.6 330 481.9 355.2 482.1 340 482.3 365 482.6 306.7 482.8 361.9 483.1 320 483.3 354.6 483.5 336.2 483.8 354.7 484 321.2 484.3 356.2 484.5 309.1 484.7 359.7 485 329.6 485.2 348.3 485.5 307.7 485.7 350.4 485.9 335.1 486.2 352 486.4 326.2 486.7 350.4 486.9 331.5 487.1 284.4 487.2 342.9 487.1 350.4 487.4 324.2 487.6 352.9 487.9 331.9 488.1 363.3 488.3 324.2 488.6 346 488.8 326.8 489.1 347.3 489.3 338.9 489.5 363.1 489.8 332.6 490 362.2 490.3 335.2 490.5 354.2 490.7 325.9 491 353.8 491.2 328.3 491.5 357.6 491.7 308.5 491.9 299.9 492 343.2 491.9 353.3 492.2 340.8 492.4 356.1 492.7 316.9 492.9 355.2 493.1 306.1 493.4 361.2 493.6 324.8 493.9 352.5 494.1 308.4 494.3 344.2 494.6 341.1 494.8 358.3 495.1 323.4 495.3 351.2 495.5 322.3 495.8 353.5 496 328.2 496.3 359.3 496.5 328.3 496.7 352.6 497 341.5 497.2 358.5 497.5 312.3 497.7 349.1 497.9 334.8 498.2 346.5 498.4 312.5 498.7 353.3 498.9 306.1 499.1 358.5 499.4 322.7 499.6 351.3 499.9 335.3 500.1 346.7 500.3 330 500.6 354.8 500.8 335.7 501.1 358.6 501.3 315.4 501.5 335 501.8 291 502 336.8 502.3 324.4 502.5 351.9 502.7 320.9 503 355.3 503.2 333.5 503.5 353.1 503.7 306.5 503.9 293.7 504 343.7 503.9 361.2 504.2 315.1 504.4 347.7 504.7 325.3 504.9 358 505.1 327.3 505.4 360.9 505.6 328.9 505.9 359.5 506.1 341 506.3 358.1 506.6 327.5 506.8 354.7 507.1 324.7 507.3 362.7 507.5 306.2 507.8 345.1 508 332 508.3 358.9 508.5 342.3 508.7 346.4 509 323.9 509.2 359.7 509.5 334.5 509.7 353.2 509.9 338.7 510.2 348.1 510.4 338.2 510.7 360.3 510.9 328.6 511.1 357.7 511.4 324.5 511.6 348.1 511.9 316.4 512.1 351.1 512.3 333.7 512.6 355.7 512.8 323.8 513.1 344.7 513.3 324.5 513.5 349.9 513.8 324.6 514 352.9 514.3 334.1 514.5 359.7 514.7 323.7 515 349.2 515.2 290.6 515.5 326.8 515.7 326.8 515.9 348.4 516.2 323.8 516.4 351.6 516.7 333.7 516.9 351.3 517.1 316.3 517.4 360.3 517.6 328 517.9 345.7 518.1 313.7 518.3 344.9 518.6 329.4 518.8 348.2 519.1 312.6 519.3 346.6 519.5 312.4 519.8 336.3 520 326 520.3 346.1 520.5 325.9 520.7 355 521 307.3 521.2 366.9 521.5 304.6 521.7 362.1 521.9 309.8 522.2 358.4 522.4 339.9 522.7 359.5 522.9 329.3 523.1 348.7 523.4 337.6 523.6 354.2 523.9 331.7 524.1 353 524.3 324.4 524.6 340.9 524.8 315.2 525.1 349.3 525.3 318.2 525.5 356.2 525.8 337.8 526 362.3 526.3 321.4 526.5 352.3 526.7 331.7 527 361.2 527.2 312.4 527.5 355.3 527.7 330.1 527.8 381.4 527.9 342.6 527.8 296 527.9 342.6 527.9 346.7 528.2 329.9 528.4 358.9 528.7 324.7 528.9 350.2 529.1 326.8 529.4 351.8 529.6 327.5 529.9 356.7 530.1 330.4 530.3 349 530.6 329.3 530.8 356.6 531.1 324.1 531.3 351.8 531.5 329.1 531.8 359.3 532 323.3 532.3 345.4 532.5 330.7 532.7 362.1 533 326.9 533.2 342.8 533.5 326.9 533.7 361.5 533.9 309.3 534.2 326.9 534.4 323.4 534.7 341.9 534.9 315.8 535.1 344.9 535.4 314.3 535.6 353.7 535.9 318.4 536.1 355.7 536.3 334.5 536.6 354.9 536.8 330 537.1 356.1 537.3 326.2 537.5 352.2 537.8 323.5 538 349.6 538.3 313.3 538.5 357.3 538.7 334.2 539 361.6 539.2 326.8 539.5 358.6 539.7 304.2 539.9 354 540.2 329.9 540.4 344 540.7 339 540.9 345.8 541.1 337.8 541.4 357.5 541.6 322.8 541.9 338.4 542.1 310.6 542.3 350.7 542.6 325.5 542.8 334.9 543.1 318.4 543.3 340 543.5 331 543.8 344.7 544 330.6 544.3 350.8 544.5 329.5 544.7 354.4 545 329.3 545.2 361.9 545.5 338.2 545.7 356.2 545.9 318 546.2 351.6 546.4 327 546.7 349.5 546.9 333.5 547.1 347 547.4 323.5 547.6 349.6 547.9 322.2 548.1 353.4 548.3 337.9 548.6 345.5 548.8 318.3 549.1 352.9 549.3 328.2 549.5 351.4 549.8 328.8 550 360.2 550.3 327.5 550.5 357.1 550.7 326.2 551 358.7 551.2 337.9 551.5 361.7 551.7 327.9 551.9 344.7 552.2 333.9 552.4 348 552.7 322.1 552.9 349.2 553.1 327 553.4 344.7 553.6 320.7 553.9 354 554.1 313.6 554.3 349.6 554.6 314.5 554.8 357.4 555.1 328.5 555.3 343.4 555.5 339.2 555.8 356.5 556 323.4 556.3 355 556.5 307.2 556.7 354.3 557 336.5 557.2 360.4 557.5 326.5 557.7 358.1 557.9 325 558.2 350.8 558.4 327 558.7 356.4 558.9 323.8 559.1 360.5 559.4 329.2 559.6 360.3 559.9 331.5 560.1 358.5 560.3 338.1 560.6 350.3 560.8 341.6 561.1 363.1 561.3 314.3 561.5 360.5 561.8 336.2 562 362 562.3 323.3 562.5 363 562.7 304.2 563 358.5 563.2 328 563.5 364 563.7 333.2 563.9 353.4 564.2 318.1 564.4 371.7 564.7 328.8 564.9 356.6 565.1 320.1 565.4 356.1 565.6 311.8 565.9 361.6 566.1 336.2 566.3 356.7 566.6 333.7 566.8 352.4 567.1 334.4 567.3 356.4 567.5 328 567.8 342.8 568 309.4 568.3 343.9 568.5 329 568.7 351.9 569 314.2 569.2 357 569.5 333.9 569.7 346.6 569.9 330.1 570.2 355.8 570.4 330.9 570.7 348.6 570.9 324.1 571.1 355 571.4 327 571.6 349.5 571.9 314.6 572.1 354.7 572.3 340.8 572.6 357.4 572.8 334.1 573.1 349.2 573.3 336.4 573.5 351 573.8 335.4 574 346 574.3 323.8 574.5 346.3 574.7 337.7 575 360.4 575.2 338.8 575.5 354.7 575.6 309.2 575.7 342.6 575.7 331.2 575.9 354.2 576.2 326.9 576.4 353.8 576.7 326.4 576.9 355.8 577.1 326.7 577.4 356.7 577.6 329.8 577.9 350.3 578 369.7 578.1 342.7 578.1 322.7 578.3 359.6 578.6 331.2 578.8 345 579.1 300 579.3 342.1 579.5 305.3 579.8 342 580 323.6 580.3 348.7 580.5 321.3 580.7 356.9 581 315.1 581.2 349.8 581.5 318.5 581.7 346.6 581.9 330.7 582.2 356.1 582.4 329.5 582.7 359.9 582.9 331 583.1 346.1 583.4 336.4 583.6 350.3 583.9 320.1 584.1 356.3 584.3 331.4 584.6 352 584.8 309.5 585.1 335.9 585.3 315.6 585.5 351.9 585.8 301 586 356.8 586.3 340.4 586.5 345.2 586.7 333.6 587 348 587.2 327.4 587.5 345.9 587.7 334.2 587.9 351.3 588.2 331.1 588.4 346.1 588.7 334.8 588.9 347.8 589.1 330.9 589.4 361.5 589.6 324.9 589.9 359 590.1 331.2 590.3 345 590.6 331.4 590.8 366.8 591.1 341.9 591.3 360.8 591.5 333.1 591.8 349.5 592 341.6 592.3 345.1 592.5 332.6 592.7 351.5 593 316.8 593.2 348.2 593.5 340.5 593.7 349.8 593.9 336.8 594.2 359.7 594.4 324.5 594.7 358.7 594.9 335 595.1 351.7 595.4 321.6 595.6 357.5 595.9 321.4 596.1 351.8 596.3 334.9 596.6 359.3 596.8 323.5 597.1 362.3 597.1 304.6 597.2 343.3 597.3 329.5 597.5 347 597.8 314.4 598 361.2 598.3 331.9 598.5 356.9 598.7 329.5 599 348.3 599.2 331.8 599.5 348.4 599.7 338.6 599.9 350.6 600.2 324 600.4 356.5 600.7 339.7 600.9 346.4 601.1 328.4 601.4 355.5 601.6 331.8 601.9 361.2 602.1 341 602.3 354.6 602.6 339.6 602.8 358.1 603.1 326.7 603.3 351.9 603.5 338.4 603.8 355.7 604 327.2 604.3 354 604.5 335.8 604.7 358.2 605 336.2 605.2 350.1 605.5 336.4 605.7 347.6 605.9 339.3 606.2 356.1 606.4 325.9 606.7 360.5 606.9 327.6 607.1 347 607.4 325.8 607.6 345.1 607.9 331.4 608.1 358.3 608.3 335 608.6 358 608.8 325.4 609.1 350.6 609.3 340.7 609.5 359 609.8 336.2 610 341.9 610.3 335.8 610.5 349.9 610.7 331.4 611 359.2 611.2 305.8 611.5 357.5 611.7 329.1 611.9 344.1 612.2 310.9 612.4 345.7 612.7 333.1 612.9 348.5 613.1 324.5 613.4 348 613.6 330.8 613.9 352.2 614.1 326.9 614.3 359 614.6 334.4 614.8 348.8 615.1 326 615.3 359.9 615.5 329.8 615.8 350.8 616 324.6 616.3 357.6 616.5 305.4 616.7 351.9 617 324.7 617.2 346.6 617.5 321.3 617.7 354.2 617.9 332.4 618.2 347 618.4 327.6 618.7 343.1 618.9 324.2 619.1 368.4 619.4 340.7 619.6 353.4 619.9 336.1 620.1 358.8 620.3 336 620.6 342 620.8 323.2 621.1 356.1 621.3 327.3 621.5 354.2 621.8 328.7 622 350.1 622.3 338.4 622.5 351.9 622.7 335.8 623 356 623.2 333.1 623.5 346 623.7 339.4 623.9 356.4 624.2 339 624.4 341.7 624.7 329 624.9 345.1 625.1 333.5 625.4 358.1 625.6 324.5 625.8 291.4 625.9 341.6 625.9 350.5 626.1 327.9 626.3 347.8 626.6 331.9 626.8 354.3 627.1 332.1 627.3 349.1 627.5 333.3 627.8 356.1 628 333.6 628.3 350.9 628.5 329.5 628.7 350.3 629 324.3 629.2 352.8 629.5 317.3 629.7 350.1 629.9 331.1 630.2 343.8 630.4 335.4 630.7 365.7 630.9 332.5 631.1 348 631.4 336 631.6 357.1 631.9 327.1 632.1 352.7 632.3 338.2 632.6 350.7 632.8 336.6 633.1 343.4 633.3 338.7 633.5 358.1 633.8 324.5 634 360.7 634.3 322.6 634.5 328.6 634.7 316.7 635 347.2 635.2 322.7 635.5 336.1 635.7 325.8 635.9 335.1 636.2 310.3 636.4 332.3 636.7 320.7 636.9 346.4 637.1 326 637.4 343.7 637.6 340.6 637.9 349.6 638.1 334.4 638.3 349.5 638.6 320.1 638.8 345.1 639.1 336.5 639.3 367.7 639.5 318.2 639.8 350.5 640 323.7 640.3 352 640.5 335.6 640.7 363.7 641 313.3 641.2 348.5 641.5 327.6 641.7 346.7 641.9 324.5 642.2 342.3 642.4 326.6 642.7 343.7 642.9 331.9 643.1 348.1 643.4 341.3 643.6 348.8 643.9 325.6 644.1 349.2 644.3 335.1 644.6 346 644.8 331.8 645.1 355.9 645.3 335.5 645.5 349.5 645.8 332.9 646 349.1 646.3 329.5 646.5 356.4 646.7 341.4 647 347.3 647.2 335.5 647.3 272.8 647.4 343.4 647.5 353.2 647.7 323.2 647.9 344.4 648.2 326.1 648.4 344.7 648.7 315.4 648.9 341.8 649.1 318.7 649.4 342.9 649.6 313.5 649.9 346.7 650.1 339.8 650.3 358.9 650.6 339.3 650.8 345.7 651.1 340.7 651.3 358.4 651.5 328 651.8 348 652 333.7 652.3 353 652.5 327.5 652.7 353.1 653 331.2 653.2 351.9 653.5 330.6 653.7 358.9 653.9 334.9 654.2 346.1 654.4 336.7 654.7 350.8 654.9 334.5 655.1 352.1 655.4 313.1 655.6 356.2 655.9 332.7 656.1 356.7 656.3 325.4 656.6 358.6 656.8 344.6 657.1 355.3 657.3 339.3 657.5 346.2 657.8 330.2 658 342.9 658.3 318.7 658.5 333.9 658.7 329.3 659 337.7 659.2 328 659.5 348.6 659.7 336.1 659.9 359.2 660.2 346.3 660.4 360.7 660.7 353 660.9 376.2 661.1 355.7 661.4 371.9 661.6 350.4 661.9 363.8 662.1 339.6 662.3 355.7 662.6 327.9 662.8 352.9 663.1 342.2 663.3 360.2 663.5 325.8 663.8 359.7 664 334.2 664.3 357.7 664.5 336.8 664.7 352.3 665 340.1 665.2 359.9 665.5 336.7 665.7 358.1 665.9 339 666.2 360.5 666.4 341 666.7 356.9 666.9 344.3 667.1 357.3 667.4 340.6 667.6 351.9 667.9 341.8 668.1 358.4 668.3 335.2 668.6 354.4 668.8 343.1 669.1 357.3 669.3 339.9 669.5 353.3 669.8 335 670 352.6 670.3 343.4 670.5 357.5 670.7 330.1 671 358.9 671.2 344 671.3 323.2 671.4 350.3 671.5 353.8 671.7 336.1 671.9 357.2 672.2 349.1 672.4 354.5 672.7 345.9 672.9 354.7 673.1 340 673.4 354.6 673.6 349 673.9 353.9 674.1 342.9 674.3 360.4 674.6 343.1 674.8 359.7 675.1 345.3 675.3 365.3 675.5 349.1 675.8 364.6 676 346.7 676.3 362.9 676.5 348.8 676.7 363.4 677 342.1 677.2 353.3 677.5 344.5 677.7 352.9 677.9 349.8 678.2 354.3 678.4 341.1 678.7 352.5 678.9 339.7 679.1 354 679.4 336.1 679.6 355.2 679.9 348.5 680.1 360.8 680.3 343.8 680.6 352.7 680.8 344.5 681.1 358 681.3 343.1 681.5 355.3 681.8 350.7 682 358.8 682.3 341 682.5 358.6 682.7 340.9 683 355.3 683.2 343 683.5 364 683.7 344.1 683.9 361.6 684.2 343.7 684.4 359.4 684.7 343 684.9 364.8 685.1 343.9 685.4 363.6 685.6 343.2 685.9 361.9 686.1 345.4 686.3 356.7 686.6 348.2 686.8 364.6 687.1 339.4 687.3 355.9 687.5 341.5 687.8 359.2 688 344.2 688.3 357.7 688.5 342.6 688.7 360.4 689 346.9 689.2 357.4 689.5 332 689.7 354.7 689.9 339.1 690.2 358.2 690.4 343.1 690.7 374.7 690.9 347.3 691.1 363.2 691.4 346.6 691.6 364.5 691.9 342.3 692.1 362.6 692.3 347.9 692.6 354.1 692.8 348.7 693.1 375.1 693.3 343.5 693.5 360.9 693.8 346.4 694 365.1 694.3 329.2 694.5 358.8 694.7 339.4 695 355.7 695.2 351.8 695.5 358.2 695.7 334.7 695.9 355.2 696.2 350.9 696.4 359.7 696.7 344.8 696.9 358.1 697.1 341.9 697.4 364.3 697.6 350.4 697.9 370.5 698.1 352 698.3 360.8 698.6 346.8 698.8 363.5 699.1 342.4 699.3 361.2 699.5 343.4 699.8 364.4 700 350.3 700.3 364.9 700.5 349.2 700.7 357.7 701 332.7 701.2 349.9 701.5 332.9 701.7 357.9 701.9 338.8 702.2 352.7 702.4 344.5 702.7 362 702.9 343.6 703.1 356 703.4 343.9 703.6 363.8 703.9 347.3 704.1 361.5 704.3 343.6 704.6 355.1 704.8 343 705.1 360.6 705.3 343.4 705.5 360.5 705.8 350.6 706 361.1 706.3 329.3 706.5 356.5 706.7 351.9 707 363.7 707.2 329.3 707.5 365.8 707.7 350 707.9 366.5 708.2 351.9 708.4 364.9 708.7 337.9 708.9 363.2 709.1 343.2 709.4 358.8 709.6 345.4 709.9 360.8 710.1 353.5 710.3 359.7 710.6 346.5 710.8 366.6 711.1 346.4 711.3 357.4 711.5 349.3 711.8 363 712 344.1 712.3 365.4 712.5 352.4 712.7 359.3 713 351.5 713.2 357.6 713.5 329.3 713.7 359.6 713.9 351.2 714.2 364 714.4 345.2 714.7 358.9 714.9 337.2 715.1 360.9 715.4 340.8 715.6 346.5 715.9 324.9 716.1 349.8 716.3 337.5 716.6 358.1 716.8 346.7 717.1 365.7 717.3 347.2 717.5 360.9 717.8 335.6 718 343.4 718.3 329.2 718.5 340.8 718.7 334 719 351.4 719.1 319.3 719.2 354.2 719.2 337.8 719.5 360.7 719.7 345.2 719.9 362.9 720.2 333.6 720.4 356.9 720.7 349.9 720.9 364 721.1 344.4 721.4 363.3 721.6 348.6 721.9 360.6 722.1 351.8 722.3 358.3 722.6 335.4" stroke="#1f5cb4" stroke-width="1.0" fill="none" stroke-linejoin="bevel"/>
<path d="M49.5 249.5V412.4M46.5 412.4H743M743 249.5V412.4M46.5 249.5H746M49.5 412.4V415.4M73.4 412.4V415.4M97.3 412.4V415.4M121.2 412.4V415.4M145.2 412.4V415.4M169.1 412.4V415.4M193 412.4V415.4M216.9 412.4V415.4M240.8 412.4V415.4M264.7 412.4V415.4M288.6 412.4V415.4M312.6 412.4V415.4M336.5 412.4V415.4M360.4 412.4V415.4M384.3 412.4V415.4M408.2 412.4V415.4M432.1 412.4V415.4M456 412.4V415.4M479.9 412.4V415.4M503.9 412.4V415.4M527.8 412.4V415.4M551.7 412.4V415.4M575.6 412.4V415.4M599.5 412.4V415.4M623.4 412.4V415.4M647.3 412.4V415.4M671.3 412.4V415.4M695.2 412.4V415.4M719.1 412.4V415.4M743 412.4V415.4M46.5 412.4H49.5M46.5 389.1H49.5M46.5 365.9H49.5M46.5 342.6H49.5M46.5 319.3H49.5M46.5 296H49.5M46.5 272.8H49.5M46.5 249.5H49.5M743 412.4H746M743 392H746M743 371.7H746M743 351.3H746M743 330.9H746M743 310.6H746M743 290.2H746M743 269.9H746M743 249.5H746" stroke="#6b6b6e" stroke-width="1.3" fill="none"/>
<path d="M51.3 303.7L55.2 307.6L51.3 311.5L47.4 307.6ZM55.1 307L59 310.9L55.1 314.8L51.2 310.9ZM78.3 321L82.2 324.9L78.3 328.8L74.4 324.9ZM70.9 350.2L74.8 354.1L70.9 358L67 354.1ZM95 358.8L98.9 362.7L95 366.6L91.1 362.7ZM102.4 328.4L106.3 332.3L102.4 336.2L98.5 332.3ZM118.1 340.1L122 344L118.1 347.9L114.2 344ZM126 331.8L129.9 335.7L126 339.6L122.1 335.7ZM143.6 339.7L147.5 343.6L143.6 347.5L139.7 343.6ZM172.1 323.2L176 327.1L172.1 331L168.2 327.1ZM190.1 316L194 319.9L190.1 323.8L186.2 319.9ZM197.6 331.1L201.5 335L197.6 338.9L193.7 335ZM213.8 336.7L217.7 340.6L213.8 344.5L209.9 340.6ZM221.7 341.7L225.6 345.6L221.7 349.5L217.8 345.6ZM237.5 341.7L241.4 345.6L237.5 349.5L233.6 345.6ZM245.8 349.1L249.7 353L245.8 356.9L241.9 353ZM261.8 335.1L265.7 339L261.8 342.9L257.9 339ZM269.7 345.7L273.6 349.6L269.7 353.5L265.8 349.6ZM285.9 341.2L289.8 345.1L285.9 349L282 345.1ZM293.8 347.3L297.7 351.2L293.8 355.1L289.9 351.2ZM312.9 330.4L316.8 334.3L312.9 338.2L309 334.3ZM338.8 311.5L342.7 315.4L338.8 319.3L334.9 315.4ZM357.2 326.6L361.1 330.5L357.2 334.4L353.3 330.5ZM365.8 330.4L369.7 334.3L365.8 338.2L361.9 334.3ZM381.5 314.7L385.4 318.6L381.5 322.5L377.6 318.6ZM389.2 349.1L393.1 353L389.2 356.9L385.3 353ZM405.3 314.2L409.2 318.1L405.3 322L401.4 318.1ZM413.1 330.4L417 334.3L413.1 338.2L409.2 334.3ZM429.6 336.7L433.5 340.6L429.6 344.5L425.7 340.6ZM437.4 325.9L441.3 329.8L437.4 333.7L433.5 329.8ZM453.2 332.9L457.1 336.8L453.2 340.7L449.3 336.8ZM461 348.7L464.9 352.6L461 356.5L457.1 352.6ZM480.6 348.7L484.5 352.6L480.6 356.5L476.7 352.6ZM508.8 334.5L512.7 338.4L508.8 342.3L504.9 338.4ZM525 334.5L528.9 338.4L525 342.3L521.1 338.4ZM533.1 330L537 333.9L533.1 337.8L529.2 333.9ZM549.3 335.2L553.2 339.1L549.3 343L545.4 339.1ZM556.8 341.7L560.7 345.6L556.8 349.5L552.9 345.6ZM572.5 336.1L576.4 340L572.5 343.9L568.6 340ZM581.2 322.4L585.1 326.2L581.2 330.1L577.4 326.2ZM597.5 349.1L601.4 353L597.5 356.9L593.6 353ZM603.2 336.1L607.1 340L603.2 343.9L599.4 340ZM621.2 339.9L625.1 343.8L621.2 347.6L617.4 343.8ZM626.2 357.4L630.1 361.2L626.2 365.1L622.4 361.2ZM647.5 343.6L651.4 347.5L647.5 351.4L643.6 347.5ZM671.2 337.9L675.1 341.8L671.2 345.6L667.4 341.8ZM692.5 329.9L696.4 333.8L692.5 337.6L688.6 333.8ZM700.5 349.1L704.4 353L700.5 356.9L696.6 353ZM716.8 339.4L720.6 343.2L716.8 347.1L712.9 343.2Z" fill="#f2903a" stroke="#9c5522" stroke-width="0.9"/>
<path d="M192.6 400.3L197.1 409.5L188.1 409.5ZM219.5 400.3L224 409.5L215 409.5ZM243.1 400.3L247.6 409.5L238.6 409.5Z" fill="#17a04a" stroke="#0d6e30" stroke-width="0.7"/>
<text x="41.2" y="415.8" text-anchor="end" style="font-family:'Liberation Sans', sans-serif;font-weight:bold;font-size:9.7px;letter-spacing:0.85px;fill:#2b2b2b;stroke:#2b2b2b;stroke-width:0.35px">0</text><text x="41.2" y="392.5" text-anchor="end" style="font-family:'Liberation Sans', sans-serif;font-weight:bold;font-size:9.7px;letter-spacing:0.85px;fill:#2b2b2b;stroke:#2b2b2b;stroke-width:0.35px">3</text><text x="41.2" y="369.3" text-anchor="end" style="font-family:'Liberation Sans', sans-serif;font-weight:bold;font-size:9.7px;letter-spacing:0.85px;fill:#2b2b2b;stroke:#2b2b2b;stroke-width:0.35px">6</text><text x="41.2" y="346" text-anchor="end" style="font-family:'Liberation Sans', sans-serif;font-weight:bold;font-size:9.7px;letter-spacing:0.85px;fill:#2b2b2b;stroke:#2b2b2b;stroke-width:0.35px">9</text><text x="41.2" y="322.7" text-anchor="end" style="font-family:'Liberation Sans', sans-serif;font-weight:bold;font-size:9.7px;letter-spacing:0.85px;fill:#2b2b2b;stroke:#2b2b2b;stroke-width:0.35px">12</text><text x="41.2" y="299.4" text-anchor="end" style="font-family:'Liberation Sans', sans-serif;font-weight:bold;font-size:9.7px;letter-spacing:0.85px;fill:#2b2b2b;stroke:#2b2b2b;stroke-width:0.35px">15</text><text x="41.2" y="276.2" text-anchor="end" style="font-family:'Liberation Sans', sans-serif;font-weight:bold;font-size:9.7px;letter-spacing:0.85px;fill:#2b2b2b;stroke:#2b2b2b;stroke-width:0.35px">18</text><text x="41.2" y="252.9" text-anchor="end" style="font-family:'Liberation Sans', sans-serif;font-weight:bold;font-size:9.7px;letter-spacing:0.85px;fill:#2b2b2b;stroke:#2b2b2b;stroke-width:0.35px">21</text><text x="49.9" y="427.9" text-anchor="middle" style="font-family:'Liberation Sans', sans-serif;font-weight:bold;font-size:9.7px;letter-spacing:0.85px;fill:#2b2b2b;stroke:#2b2b2b;stroke-width:0.35px">0</text><text x="73.8" y="427.9" text-anchor="middle" style="font-family:'Liberation Sans', sans-serif;font-weight:bold;font-size:9.7px;letter-spacing:0.85px;fill:#2b2b2b;stroke:#2b2b2b;stroke-width:0.35px">1</text><text x="97.7" y="427.9" text-anchor="middle" style="font-family:'Liberation Sans', sans-serif;font-weight:bold;font-size:9.7px;letter-spacing:0.85px;fill:#2b2b2b;stroke:#2b2b2b;stroke-width:0.35px">2</text><text x="121.6" y="427.9" text-anchor="middle" style="font-family:'Liberation Sans', sans-serif;font-weight:bold;font-size:9.7px;letter-spacing:0.85px;fill:#2b2b2b;stroke:#2b2b2b;stroke-width:0.35px">3</text><text x="145.6" y="427.9" text-anchor="middle" style="font-family:'Liberation Sans', sans-serif;font-weight:bold;font-size:9.7px;letter-spacing:0.85px;fill:#2b2b2b;stroke:#2b2b2b;stroke-width:0.35px">4</text><text x="169.5" y="427.9" text-anchor="middle" style="font-family:'Liberation Sans', sans-serif;font-weight:bold;font-size:9.7px;letter-spacing:0.85px;fill:#2b2b2b;stroke:#2b2b2b;stroke-width:0.35px">5</text><text x="193.4" y="427.9" text-anchor="middle" style="font-family:'Liberation Sans', sans-serif;font-weight:bold;font-size:9.7px;letter-spacing:0.85px;fill:#2b2b2b;stroke:#2b2b2b;stroke-width:0.35px">6</text><text x="217.3" y="427.9" text-anchor="middle" style="font-family:'Liberation Sans', sans-serif;font-weight:bold;font-size:9.7px;letter-spacing:0.85px;fill:#2b2b2b;stroke:#2b2b2b;stroke-width:0.35px">7</text><text x="241.2" y="427.9" text-anchor="middle" style="font-family:'Liberation Sans', sans-serif;font-weight:bold;font-size:9.7px;letter-spacing:0.85px;fill:#2b2b2b;stroke:#2b2b2b;stroke-width:0.35px">8</text><text x="265.1" y="427.9" text-anchor="middle" style="font-family:'Liberation Sans', sans-serif;font-weight:bold;font-size:9.7px;letter-spacing:0.85px;fill:#2b2b2b;stroke:#2b2b2b;stroke-width:0.35px">9</text><text x="289" y="427.9" text-anchor="middle" style="font-family:'Liberation Sans', sans-serif;font-weight:bold;font-size:9.7px;letter-spacing:0.85px;fill:#2b2b2b;stroke:#2b2b2b;stroke-width:0.35px">10</text><text x="313" y="427.9" text-anchor="middle" style="font-family:'Liberation Sans', sans-serif;font-weight:bold;font-size:9.7px;letter-spacing:0.85px;fill:#2b2b2b;stroke:#2b2b2b;stroke-width:0.35px">11</text><text x="336.9" y="427.9" text-anchor="middle" style="font-family:'Liberation Sans', sans-serif;font-weight:bold;font-size:9.7px;letter-spacing:0.85px;fill:#2b2b2b;stroke:#2b2b2b;stroke-width:0.35px">12</text><text x="360.8" y="427.9" text-anchor="middle" style="font-family:'Liberation Sans', sans-serif;font-weight:bold;font-size:9.7px;letter-spacing:0.85px;fill:#2b2b2b;stroke:#2b2b2b;stroke-width:0.35px">13</text><text x="384.7" y="427.9" text-anchor="middle" style="font-family:'Liberation Sans', sans-serif;font-weight:bold;font-size:9.7px;letter-spacing:0.85px;fill:#2b2b2b;stroke:#2b2b2b;stroke-width:0.35px">14</text><text x="408.6" y="427.9" text-anchor="middle" style="font-family:'Liberation Sans', sans-serif;font-weight:bold;font-size:9.7px;letter-spacing:0.85px;fill:#2b2b2b;stroke:#2b2b2b;stroke-width:0.35px">15</text><text x="432.5" y="427.9" text-anchor="middle" style="font-family:'Liberation Sans', sans-serif;font-weight:bold;font-size:9.7px;letter-spacing:0.85px;fill:#2b2b2b;stroke:#2b2b2b;stroke-width:0.35px">16</text><text x="456.4" y="427.9" text-anchor="middle" style="font-family:'Liberation Sans', sans-serif;font-weight:bold;font-size:9.7px;letter-spacing:0.85px;fill:#2b2b2b;stroke:#2b2b2b;stroke-width:0.35px">17</text><text x="480.3" y="427.9" text-anchor="middle" style="font-family:'Liberation Sans', sans-serif;font-weight:bold;font-size:9.7px;letter-spacing:0.85px;fill:#2b2b2b;stroke:#2b2b2b;stroke-width:0.35px">18</text><text x="504.3" y="427.9" text-anchor="middle" style="font-family:'Liberation Sans', sans-serif;font-weight:bold;font-size:9.7px;letter-spacing:0.85px;fill:#2b2b2b;stroke:#2b2b2b;stroke-width:0.35px">19</text><text x="528.2" y="427.9" text-anchor="middle" style="font-family:'Liberation Sans', sans-serif;font-weight:bold;font-size:9.7px;letter-spacing:0.85px;fill:#2b2b2b;stroke:#2b2b2b;stroke-width:0.35px">20</text><text x="552.1" y="427.9" text-anchor="middle" style="font-family:'Liberation Sans', sans-serif;font-weight:bold;font-size:9.7px;letter-spacing:0.85px;fill:#2b2b2b;stroke:#2b2b2b;stroke-width:0.35px">21</text><text x="576" y="427.9" text-anchor="middle" style="font-family:'Liberation Sans', sans-serif;font-weight:bold;font-size:9.7px;letter-spacing:0.85px;fill:#2b2b2b;stroke:#2b2b2b;stroke-width:0.35px">22</text><text x="599.9" y="427.9" text-anchor="middle" style="font-family:'Liberation Sans', sans-serif;font-weight:bold;font-size:9.7px;letter-spacing:0.85px;fill:#2b2b2b;stroke:#2b2b2b;stroke-width:0.35px">23</text><text x="623.8" y="427.9" text-anchor="middle" style="font-family:'Liberation Sans', sans-serif;font-weight:bold;font-size:9.7px;letter-spacing:0.85px;fill:#2b2b2b;stroke:#2b2b2b;stroke-width:0.35px">24</text><text x="647.7" y="427.9" text-anchor="middle" style="font-family:'Liberation Sans', sans-serif;font-weight:bold;font-size:9.7px;letter-spacing:0.85px;fill:#2b2b2b;stroke:#2b2b2b;stroke-width:0.35px">25</text><text x="671.7" y="427.9" text-anchor="middle" style="font-family:'Liberation Sans', sans-serif;font-weight:bold;font-size:9.7px;letter-spacing:0.85px;fill:#2b2b2b;stroke:#2b2b2b;stroke-width:0.35px">26</text><text x="695.6" y="427.9" text-anchor="middle" style="font-family:'Liberation Sans', sans-serif;font-weight:bold;font-size:9.7px;letter-spacing:0.85px;fill:#2b2b2b;stroke:#2b2b2b;stroke-width:0.35px">27</text><text x="719.5" y="427.9" text-anchor="middle" style="font-family:'Liberation Sans', sans-serif;font-weight:bold;font-size:9.7px;letter-spacing:0.85px;fill:#2b2b2b;stroke:#2b2b2b;stroke-width:0.35px">28</text><text x="743.4" y="427.9" text-anchor="middle" style="font-family:'Liberation Sans', sans-serif;font-weight:bold;font-size:9.7px;letter-spacing:0.85px;fill:#2b2b2b;stroke:#2b2b2b;stroke-width:0.35px">29</text><text x="752" y="415.8" style="font-family:'Liberation Sans', sans-serif;font-weight:bold;font-size:9.7px;letter-spacing:0.85px;fill:#2b2b2b;stroke:#2b2b2b;stroke-width:0.35px">0</text><text x="752" y="395.4" style="font-family:'Liberation Sans', sans-serif;font-weight:bold;font-size:9.7px;letter-spacing:0.85px;fill:#2b2b2b;stroke:#2b2b2b;stroke-width:0.35px">25</text><text x="752" y="375.1" style="font-family:'Liberation Sans', sans-serif;font-weight:bold;font-size:9.7px;letter-spacing:0.85px;fill:#2b2b2b;stroke:#2b2b2b;stroke-width:0.35px">50</text><text x="752" y="354.7" style="font-family:'Liberation Sans', sans-serif;font-weight:bold;font-size:9.7px;letter-spacing:0.85px;fill:#2b2b2b;stroke:#2b2b2b;stroke-width:0.35px">75</text><text x="752" y="334.3" style="font-family:'Liberation Sans', sans-serif;font-weight:bold;font-size:9.7px;letter-spacing:0.85px;fill:#2b2b2b;stroke:#2b2b2b;stroke-width:0.35px">100</text><text x="752" y="314" style="font-family:'Liberation Sans', sans-serif;font-weight:bold;font-size:9.7px;letter-spacing:0.85px;fill:#2b2b2b;stroke:#2b2b2b;stroke-width:0.35px">125</text><text x="752" y="293.6" style="font-family:'Liberation Sans', sans-serif;font-weight:bold;font-size:9.7px;letter-spacing:0.85px;fill:#2b2b2b;stroke:#2b2b2b;stroke-width:0.35px">150</text><text x="752" y="273.3" style="font-family:'Liberation Sans', sans-serif;font-weight:bold;font-size:9.7px;letter-spacing:0.85px;fill:#2b2b2b;stroke:#2b2b2b;stroke-width:0.35px">175</text><text x="752" y="252.9" style="font-family:'Liberation Sans', sans-serif;font-weight:bold;font-size:9.7px;letter-spacing:0.85px;fill:#2b2b2b;stroke:#2b2b2b;stroke-width:0.35px">200</text>
<text x="395.9" y="449.2" text-anchor="middle" textLength="81.3" lengthAdjust="spacingAndGlyphs" style="font-family:'Liberation Sans', sans-serif;font-weight:bold;font-size:13.8px;fill:#1c1c1c">Time [Days]</text>
<text transform="translate(21.5 328.6) rotate(-90)" text-anchor="middle" textLength="120.6" lengthAdjust="spacingAndGlyphs" style="font-family:'Liberation Sans', sans-serif;font-weight:bold;font-size:13.8px;fill:#1c1c1c">CGS Current [nA]</text>
<text transform="translate(778.5 333.9) rotate(90)" text-anchor="middle" textLength="158.2" lengthAdjust="spacingAndGlyphs" style="font-family:'Liberation Sans', sans-serif;font-weight:bold;font-size:13.8px;fill:#1c1c1c">Blood Glucose [mg/dL]</text>
<ellipse cx="74.2" cy="264.1" rx="11.2" ry="11.9" fill="#fff" stroke="#111" stroke-width="1.6"/>
<text x="74.2" y="270.4" text-anchor="middle" style="font-family:'Liberation Sans', sans-serif;font-weight:bold;font-size:17.5px;fill:#111;stroke:#111;stroke-width:0.7px">B</text>
<path d="M73 485.3V651.4M96.7 485.3V651.4M120.5 485.3V651.4M144.3 485.3V651.4M168 485.3V651.4M191.8 485.3V651.4M215.6 485.3V651.4M239.4 485.3V651.4M263.1 485.3V651.4M286.9 485.3V651.4M310.7 485.3V651.4M334.4 485.3V651.4M358.2 485.3V651.4M382 485.3V651.4M405.7 485.3V651.4M429.5 485.3V651.4M453.3 485.3V651.4M477 485.3V651.4M500.8 485.3V651.4M524.6 485.3V651.4M548.3 485.3V651.4M572.1 485.3V651.4M595.9 485.3V651.4M619.7 485.3V651.4M643.4 485.3V651.4M667.2 485.3V651.4M691 485.3V651.4M714.7 485.3V651.4M49.2 627.7H738.5M49.2 603.9H738.5M49.2 580.2H738.5M49.2 556.5H738.5M49.2 532.8H738.5M49.2 509H738.5M49.2 485.3H738.5" stroke="#8e9098" stroke-width="1.1" fill="none"/>
<clipPath id="clipC"><rect x="49.2" y="484.8" width="689.3" height="166.6"/></clipPath>
<path clip-path="url(#clipC)" d="M49.2 541 49.6 559 49.7 527.2 49.8 548.8 50 528.6 50.4 567 50.8 542.3 51.2 561.2 51.6 538.4 52 553.8 52.4 528.4 52.8 557.5 53.2 543 53.6 561.5 54 548.3 54.4 560.4 54.8 534.6 55.2 567.5 55.6 535.1 56 559.8 56.4 518.5 56.8 556.4 57.2 534.9 57.6 563.6 58 545.5 58.4 563.9 58.8 533 59.2 553.8 59.6 496.7 60 553 60.4 532.9 60.8 557 61.1 535.1 61.2 555 61.2 544 61.6 557.9 62 523.8 62.4 564.8 62.8 549.1 63.2 576.7 63.6 555.5 64 567.7 64.4 546.3 64.8 582 65.2 565.3 65.6 572.2 66 563.6 66.4 597.5 66.8 566 67.2 589.2 67.6 564.6 68 586.9 68.4 564.1 68.8 591.5 69.2 566.8 69.6 572.8 70 538.7 70.4 578.7 70.8 546.8 71.2 590.3 71.6 564.9 72 581 72.4 561.4 72.8 578.9 73.2 565.2 73.6 585.5 74 568.5 74.4 589.1 74.8 572.2 75.2 588.5 75.6 555.6 76 595.5 76.4 575.1 76.8 588.1 77.2 571.5 77.6 585.4 78 573.4 78.4 592.4 78.8 576.8 79.2 596.2 79.6 562.3 80 594.8 80.1 552.5 80.2 582.6 80.4 566.2 80.8 581.5 81.2 550.9 81.6 577.4 82 563.9 82.4 593.7 82.8 573.9 83.2 594.6 83.6 563.4 84 603.5 84.4 563.6 84.8 602.4 85.2 573.3 85.6 601.1 86 571.4 86.4 594.5 86.8 581.7 87.2 593.6 87.6 582.7 88 601.3 88.4 566.1 88.8 611.7 89.2 579.6 89.6 601.3 90 574.7 90.4 600.7 90.8 578.2 91.2 598.7 91.6 558.4 92 604.6 92.4 569 92.8 604.7 93.2 586.3 93.6 609.1 94 578.9 94.4 597.1 94.8 562.2 95.2 591.5 95.6 584.5 96 606.5 96.4 575.2 96.8 597.3 97.2 572.8 97.6 598.1 98 559.7 98.4 604.1 98.8 562.9 99.2 602 99.6 577.3 100 602.1 100.4 577.4 100.8 603.1 101.2 571.9 101.6 594.8 102 562.2 102.4 598.1 102.8 568.3 103.2 605.3 103.6 579.3 104 591.4 104.4 572.3 104.8 603.2 105.2 571.2 105.6 590.6 106 553.3 106.2 516.9 106.3 586.6 106.4 588.7 106.8 582.7 107.2 612.6 107.6 582 108 600.5 108.4 568.1 108.8 610.5 109.2 574.7 109.6 586.1 110 554.8 110.4 589.2 110.8 563.7 111 544.6 111.1 586.1 111.2 598.2 111.6 577.5 112 594.7 112.4 563.5 112.8 601.6 113.2 561.4 113.6 602.3 114 577.2 114.4 596.9 114.8 558.7 115.2 599.4 115.6 578.3 116 590.3 116.4 581.9 116.8 591.9 117.2 576.3 117.6 591.4 118 579.6 118.4 594.3 118.8 568.4 119.2 591.9 119.6 580.8 120 595.1 120.4 575.8 120.8 593.3 121.2 576.5 121.6 592.6 122 576.9 122.4 590.8 122.8 574.5 123.2 588.7 123.6 575.9 124 595.1 124.4 570.3 124.8 587.4 125.2 573.7 125.6 587.9 126 578.4 126.4 591.5 126.8 573.8 127.2 575.4 127.6 568.6 128 582.4 128.4 575.6 128.8 586 129.2 570.3 129.6 588.8 130 575 130 543 130.1 581.4 130.4 580.4 130.8 542.9 131.2 582.9 131.6 568.6 132 588.9 132.4 569.5 132.8 590.4 133.2 570.5 133.6 582.8 134 573.8 134.4 589.6 134.8 575.9 135.2 589.1 135.6 567.7 136 582.6 136.4 576.2 136.8 589.7 137.2 569.8 137.6 585.9 138 552.8 138.4 589.7 138.8 568 139.2 584.5 139.5 552.5 139.6 579.1 139.6 558.6 140 584.1 140.4 572.2 140.8 586.2 141.2 567.1 141.6 591.2 142 563.3 142.4 590.5 142.8 559.1 143.2 590.1 143.6 566.6 144 582.1 144.3 614.2 144.4 578.3 144.3 481.3 144.4 578.3 144.4 573.6 144.8 587.9 145.2 572.8 145.6 579.4 146 565.4 146.4 585.1 146.8 567.7 147.2 589.2 147.6 570.8 148 585.6 148.4 551.2 148.8 587.9 149.2 570.1 149.6 582.2 150 577 150.4 587.4 150.8 570 151.2 589.4 151.6 568.1 152 579.7 152.4 559.2 152.6 504.3 152.7 578.2 152.8 585.9 153.2 559.9 153.6 568.4 154 556.5 154.4 577.6 154.8 568.4 155.2 588.3 155.6 572.3 156 581.1 156.2 544.6 156.3 578.2 156.4 557.1 156.8 567.2 157.2 550.8 157.3 608.7 157.4 578.2 157.6 568.6 158 563.5 158.4 578.8 158.8 567.3 159.2 576.2 159.6 567.3 160 584.1 160.4 578.1 160.8 587 161.2 565.6 161.6 581.2 162 566.7 162.4 581.2 162.8 562.2 163.2 583.8 163.6 576.9 164 598.1 164.4 561.7 164.8 581.2 165.2 481.3 165.3 578.2 165.2 567.3 165.6 586.5 166 561.8 166.4 575.9 166.8 547.9 167.2 562.3 167.6 522 168 560.3 168.4 534.1 168.8 566.8 169.2 544.9 169.6 561.2 170 548.5 170.4 570.3 170.8 556.2 171.2 567.6 171.6 555.6 172 570.6 172.4 551.6 172.8 569.4 173.2 555.3 173.6 570.5 174 550.1 174.4 564.6 174.8 551.6 175.2 528.8 175.3 560.5 175.2 562.4 175.6 549.9 176 563.5 176.4 551 176.8 563.8 177.2 561.4 177.6 573.2 178 564.4 178.4 584.8 178.8 555.2 179.2 570.3 179.6 552.9 180 557.1 180.4 544.9 180.8 567.5 181.2 543.4 181.6 579.7 182 558 182.3 544.6 182.4 567.2 182.4 568.2 182.8 556 183.2 577.1 183.6 558.8 184 578.3 184.4 549.8 184.8 569.2 185.2 552.7 185.6 559.5 186 559 186.4 571.4 186.8 564 187.2 583.4 187.6 559.7 188 570.7 188.4 559.5 188.8 585 189.2 567.5 189.6 586.9 190 571.9 190.4 580.3 190.8 568.8 191.2 588.6 191.6 575.7 192 592.7 192.4 565.8 192.8 584.2 193.2 571.1 193.6 593.1 194 569.8 194.4 588 194.8 570.6 195.2 588.4 195.6 572 196 586.5 196.4 559.9 196.6 613.4 196.7 582.5 196.8 582.5 197.2 569.3 197.6 581.2 198 578.6 198.4 588.9 198.8 574.5 199.2 586.2 199.6 571.4 200 593.4 200.4 570.4 200.8 586.2 201.2 568.4 201.6 572.8 202 562.4 202.4 584.2 202.8 573.8 203.2 594.3 203.6 582.2 204 586.6 204.4 579.5 204.8 589.1 205.2 582.7 205.6 592.2 206 577.4 206.4 587.1 206.8 585.6 207.2 591 207.6 572.2 208 590 208.4 580.5 208.8 587.3 209.2 578.6 209.6 595.8 210 562.2 210.4 587.6 210.8 569.8 211.2 590.4 211.6 585.5 212 595.8 212.4 580 212.8 596 213.2 578.9 213.2 560.4 213.3 586.1 213.6 592.7 214 581.3 214.4 595.8 214.8 580.9 215.2 595.1 215.6 586.4 216 593.8 216.4 582.9 216.8 595.4 217.2 572.7 217.6 581.3 218 560.4 218.1 583.9 218 571.8 218.4 584.1 218.8 557.5 219.2 582.8 219.6 576.8 220 609.4 220.4 600.3 220.8 626.7 221.2 613.5 221.6 627.2 222 612.2 222.4 619.8 222.7 633.2 222.8 617.4 222.8 605 223.2 620.4 223.6 610.9 224 625.5 224.4 604.3 224.8 626 225.2 613.1 225.6 620.4 226 615.5 226.4 625.3 226.8 588.5 227.2 623.1 227.6 594 228 618.8 228.4 608.6 228.8 617.1 229.2 610.5 229.6 617.6 230 603.4 230.4 607.7 230.8 593.2 231 481.3 231.1 596.7 231.2 605.6 231.6 574.1 232 601 232.4 585.4 232.8 608.1 233.2 578.2 233.4 513 233.5 591.6 233.6 591.9 234 572.3 234.4 593.9 234.8 566.5 235.2 588.5 235.6 575.6 236 602.5 236.4 583.9 236.8 606.7 237 536.7 237.1 590.7 237.2 583.4 237.6 592.9 238 580.6 238.4 616.8 238.8 574.4 239.2 604.5 239.4 630 239.5 590.1 239.4 542.2 239.5 590.1 239.6 563.9 240 600.4 240.4 576.4 240.8 601.1 241.2 580.7 241.6 602.3 242 570.5 242.4 603.3 242.8 557.8 243.2 582.3 243.6 553.2 244 577.9 244.4 566.2 244.8 597.7 245.2 567.7 245.6 598.1 246 583.7 246.4 604.3 246.8 581.7 247.2 587.7 247.6 546 248 598.8 248.4 567.2 248.8 595.4 248.9 520.9 249 585.4 249.2 572.5 249.6 595.2 250 566.1 250.4 588.9 250.8 566.3 251.2 575 251.6 540.1 252 577.5 252.4 554.3 252.8 588.3 253.2 553.7 253.6 590.5 254 559.8 254.4 592.3 254.8 544.6 255.2 593.7 255.6 578.2 256 580 256.4 555.4 256.8 590.4 257.2 564.7 257.6 588.2 258 559.3 258.4 481.3 258.5 577.4 258.4 574.3 258.8 546 259.2 575.5 259.6 554.5 260 589.2 260.4 559.9 260.7 513 260.8 575 260.8 566.2 261.2 539 261.6 575.2 262 562.6 262.4 576 262.8 562.8 263.1 516.9 263.2 572.6 263.2 583.1 263.6 556.2 264 583 264.4 565.8 264.8 576.5 265.2 549.6 265.6 562.5 266 543.2 266.4 574.1 266.8 565 267.2 578.5 267.6 568.6 268 588.2 268.4 560.2 268.8 579.1 269.2 572.9 269.6 581.8 270 555.5 270.3 534.3 270.4 574.6 270.4 582 270.8 549.7 271.2 581.5 271.6 570.4 272 584.3 272.4 551.5 272.8 584.9 273.2 564.9 273.6 583.7 274 565.3 274.4 575.5 274.8 561.9 275.2 582.2 275.6 563.1 276 580 276.4 564.2 276.8 589.3 277.2 571.9 277.6 577.9 278 548.8 278.4 580 278.8 569 279.2 586.5 279.6 567.9 280 581.9 280.4 567.8 280.8 583.6 281.2 566.9 281.6 590.8 282 568.4 282.4 579.2 282.8 568.8 283.2 586.4 283.6 574.4 284 588 284.4 577.2 284.8 582.8 285.2 571.2 285.6 581.6 286 566.9 286.4 587.5 286.8 566.5 287.2 581.4 287.6 558.7 288 583.2 288.4 575.2 288.8 592.2 289.2 568.2 289.6 587.2 290 568.1 290.4 588.6 290.8 576.2 291.2 592.5 291.6 570.2 292 582.7 292.4 570 292.8 587.4 293.2 574.5 293.6 583.7 294 575.2 294.4 586.5 294.8 570.1 295.2 589.8 295.6 569.5 296 588.4 296.4 566.7 296.8 589.3 297.2 570 297.6 592.3 298 570.2 298.4 581.6 298.8 569.4 299.2 580.8 299.6 561.7 300 578.9 300.4 570.9 300.8 586.4 301.2 576.4 301.6 589.2 302 567.3 302.4 590.7 302.8 573 303.2 589 303.6 565.1 304 585.5 304.4 574.1 304.8 584.6 305.2 577.7 305.6 586.6 306 573.1 306.4 585.9 306.8 573.1 307.2 586.1 307.6 565.6 308 588.6 308.4 570 308.8 589.3 309.2 567.7 309.6 573.4 310 563.3 310.4 585.6 310.8 572.2 311.2 582 311.6 556.4 312 588.7 312.4 573.2 312.8 592.7 313 555.7 313.1 580.2 313.2 574 313.6 583.1 314 572.8 314.4 590.2 314.8 575.4 315.2 577.7 315.6 568.6 316 581.7 316.4 574 316.8 583.6 317.2 574 317.6 580.5 318 578.8 318.4 584.1 318.8 567.6 319.2 585.5 319.6 553.2 320 576.9 320.4 552.1 320.8 586.8 321.2 569.1 321.6 586.4 322 565 322.4 589.3 322.8 572.2 323.2 586 323.6 570.1 324 587.6 324.4 566.2 324.8 588.8 325.2 575.2 325.6 581.4 326 571.7 326.4 591.1 326.8 573.8 327.2 580.9 327.6 569.2 328 589.3 328.4 574.7 328.8 579.3 329.2 562.4 329.6 571.8 330 565.8 330.4 585 330.8 576.2 331.2 589.4 331.6 568.5 332 591.7 332.4 570.4 332.8 583.3 333.2 568.6 333.6 587.7 334 572.6 334.4 588.4 334.4 613.4 334.5 580.2 334.4 539.9 334.5 580.2 334.8 574.8 335.2 589 335.6 562.7 336 576.4 336.4 574.1 336.8 584.7 337.2 566.4 337.6 581.9 338 576.1 338.4 593.4 338.8 570.1 339.2 587.2 339.6 573.8 340 588.6 340.4 576.9 340.8 594.2 341.2 567.3 341.6 586.7 342 570.6 342.4 594.6 342.8 580.2 343.2 584.8 343.6 578.3 343.9 554.1 344 583.3 344 595.4 344.4 571.8 344.8 593 345.2 571.7 345.6 588 346 572.3 346.4 576.7 346.8 570.4 347.2 586.1 347.6 567.8 348 592.8 348.4 578.6 348.8 584.8 349.2 560.2 349.6 590.3 350 581 350.4 592.7 350.8 576.6 351.2 591.7 351.6 562.8 352 590.2 352.4 572.9 352.8 591 353.2 549.2 353.6 587.5 354 563.9 354.4 597.8 354.8 572.9 355.2 587.4 355.6 582.8 356 593.9 356.4 573.7 356.8 595.8 357.2 549.8 357.6 585 358 568.7 358.4 596.2 358.8 561.7 359.2 602.7 359.6 583.5 360 603.7 360.4 575.8 360.8 598.3 361.2 584.8 361.6 593.4 362 582.7 362.4 601.5 362.8 577.7 363.2 596.6 363.6 546.2 364 575.6 364.4 554.6 364.8 569.2 365.2 563.9 365.3 568.4 365.4 594.3 365.6 592.3 366 582.7 366.4 604.8 366.8 583.5 367.2 601.1 367.6 590.9 368 603.9 368.4 588.3 368.8 598.5 369.2 571.3 369.6 595.6 370 570.2 370.4 605.6 370.8 598.6 371.2 608.1 371.6 597.1 372 604.7 372.4 587.2 372.8 606.4 373.2 595.1 373.6 605.1 374 584.8 374.4 600 374.8 575.8 375.2 610.2 375.6 594.9 376 613.2 376.4 596.7 376.8 607.6 377.2 599.2 377.6 620.2 378 574.6 378.4 616.2 378.8 595.4 379.2 608.2 379.6 627.7 379.7 607.6 379.6 601.6 380 611.1 380.4 603 380.8 621.4 381.2 605.4 381.6 620.9 382 595.9 382.4 620.8 382.8 593.6 383.2 607.3 383.6 570.5 384 602 384.4 589.3 384.8 601.8 385.2 561.1 385.6 587.9 386 580.1 386.4 605.1 386.8 582.3 387.2 602.1 387.6 580.8 388 599.9 388.4 587.9 388.8 592.8 389.1 554.9 389.2 592.8 389.2 570.6 389.6 600.9 390 579.7 390.4 605 390.8 588.3 391.2 604.4 391.6 580.6 392 587.1 392.4 574.4 392.8 601 393.2 585 393.6 604.2 394 584.5 394.4 598.8 394.8 582.6 395.2 604.3 395.6 579.9 396 595.1 396.2 551.7 396.3 590.8 396.4 579.1 396.8 595.1 397.2 582 397.6 599.5 398 580.5 398.4 602.6 398.8 579.9 399.2 595.4 399.6 549.5 400 583.4 400.4 576.7 400.8 592.4 401.2 584.4 401.6 600.3 402 571.8 402.4 582.4 402.8 567.3 403.2 597.1 403.4 547 403.5 588.8 403.6 568.1 404 596.2 404.4 578.8 404.8 581.2 405.2 572.7 405.6 599.7 406 580.7 406.4 579.1 406.8 551.5 407.2 581.9 407.6 569.9 408 592.5 408.4 577.6 408.8 594 409.2 568.6 409.6 584 410 553.5 410.4 584.3 410.8 571.4 411.2 588.1 411.6 568.9 412 601.2 412.4 577.2 412.8 597.6 413.2 568.4 413.6 597.9 414 581.9 414.4 595.3 414.8 552.9 415.2 594.8 415.6 569.7 416 599 416.4 573.3 416.8 596.9 417.2 575.5 417.6 595.1 417.6 560.4 417.7 584.4 418 569.6 418.4 589.4 418.8 580.9 419.2 593.4 419.6 570.9 420 596.6 420.4 554.2 420.8 596.4 421.2 575.7 421.6 586.3 422 575.3 422.4 585.5 422.8 581.6 423.2 587.9 423.6 570 424 590.9 424.4 570.7 424.8 574.5 425.2 543.3 425.6 588.9 426 565.4 426.4 593.8 426.8 571.1 427.2 593.6 427.6 573 428 585.7 428.4 578.2 428.8 590.7 429.2 575.6 429.5 536.7 429.6 585.2 429.6 589.4 430 574.5 430.4 596.9 430.8 578.7 431.2 596.8 431.6 577.5 432 598.1 432.4 578.1 432.8 596 433.2 574.2 433.6 600.6 434 577 434.3 538.3 434.4 588.3 434.4 603.9 434.8 574.6 435.2 600.5 435.6 581.8 436 599.4 436.4 580.6 436.8 596.3 437.2 580.2 437.6 602.6 438 577.1 438.4 595.2 438.8 587.6 439.2 601 439.6 577.1 440 596 440.4 581.2 440.8 591.3 441.2 569.6 441.6 588.9 442 573.5 442.4 596.7 442.8 584.9 443.2 598.9 443.6 589.9 444 595.7 444.4 587 444.8 593.2 445.2 582.2 445.6 597.8 446 581.3 446.4 597.6 446.8 576 447.2 577.9 447.6 575.9 448 598.3 448.4 584.7 448.8 586.3 449.2 573.1 449.6 591.1 450 588.1 450.4 591.8 450.8 572.8 451.2 592 451.6 578.5 452 599.4 452.4 585.4 452.8 596.9 453.2 580.1 453.6 596.3 454 562.5 454.4 594.7 454.8 581.1 455.2 594.9 455.6 580.7 455.6 564.4 455.7 590.1 456 595 456.4 586.4 456.8 592.6 457.2 582.6 457.6 596.5 458 586.8 458.4 599.7 458.8 586.1 459.2 593.5 459.6 582.6 460 597.1 460.4 575.7 460.8 600.4 461.2 561.6 461.6 606.6 462 574 462.4 599.8 462.8 585.7 463.2 597.4 463.6 583.5 464 602.3 464.4 587.5 464.8 603.1 465.2 568.6 465.6 602.8 466 587 466.4 605 466.8 593.8 467.2 600.8 467.6 575.8 468 590.5 468.4 563.6 468.8 587.9 469.2 578.5 469.6 595.4 470 577.6 470.4 603.8 470.8 588.9 471.2 595.4 471.6 592 472 602.7 472.4 587.1 472.8 607.7 473.2 589.2 473.6 594.1 474 580 474.4 595.2 474.8 568.2 475.2 576.8 475.6 569.7 476 581 476.4 575.2 476.8 586 477.2 564 477.6 562.5 478 563.1 478.4 599.3 478.8 583.2 479.2 594 479.6 587 480 602.1 480.4 586.4 480.8 601.9 481.2 593.4 481.6 601.4 482 584.3 482.4 609.5 482.8 590.2 483.2 599.3 483.6 593.9 484 609.3 484.4 597 484.8 612.7 485.2 612.7 485.6 620.9 486 594.9 486.4 608.3 486.8 585.1 487.2 607.5 487.6 592.3 488 608.8 488.4 595.1 488.8 602.4 489.2 586.5 489.6 607.7 490 593.1 490.4 604.1 490.8 593.2 491.2 603.7 491.6 580.3 492 604.6 492.4 577 492.8 604.7 493.2 588.6 493.6 608 494 586.1 494.4 603.1 494.8 578.3 495.2 590.2 495.6 581.2 496 601.2 496.4 587.3 496.8 605.4 497.2 593.7 497.6 600.2 498 588.5 498.4 600.8 498.8 589.8 499.2 599.1 499.6 589.7 500 606.4 500.4 589.2 500.8 609.7 500.8 545.4 500.9 596 501.2 582.7 501.6 607.1 502 588 502.4 605.9 502.8 565.7 503.2 601.5 503.6 590.6 504 602.3 504.4 590.4 504.8 606.5 505.2 585.8 505.6 600.6 506 584.2 506.4 587.6 506.8 571.7 507.2 606.5 507.6 585.5 508 603.4 508.4 586.8 508.8 608.9 509.2 591.2 509.6 606.2 510 578.9 510.4 608.1 510.8 583.7 511.2 605.8 511.6 584.3 512 597.2 512.4 595.4 512.8 604.6 513.2 579.4 513.6 603.9 514 580.8 514.4 598.1 514.8 585.1 515.2 612.3 515.6 581.3 516 590.7 516.4 582.2 516.8 595.6 517.2 575.6 517.6 599.9 518 580.8 518.4 600.5 518.8 588.1 519.2 607.5 519.6 570.1 520 607.3 520.4 587 520.8 596.3 521.2 578.6 521.6 597 522 577.7 522.4 596.2 522.8 583.9 523.2 602.6 523.6 583.5 524 596 524.4 552.6 524.8 596.8 525.2 588.3 525.6 607.9 526 591.9 526.4 605.8 526.8 595.7 527.2 607 527.6 592.3 528 599 528.4 581.6 528.8 594.1 529.2 590.9 529.6 603.4 530 602.6 530.4 614.8 530.8 605.1 531.2 616.1 531.6 602.2 532 614.9 532.4 600.4 532.8 614.6 533.2 596.7 533.6 606.4 534 585.2 534.4 596.4 534.8 592.4 535.2 605.5 535.6 588.8 536 600.6 536.4 579.9 536.5 619.8 536.6 607.9 536.8 611.7 537.2 600.6 537.6 608.8 538 600.8 538.4 615.4 538.8 602 539.2 613.3 539.6 604.4 540 611.8 540.4 600.3 540.8 603.7 541.2 585.8 541.6 607.3 542 587.2 542.4 609.2 542.8 607.2 543.2 610 543.6 603.8 544 611.4 544.4 597.2 544.8 609.8 545.2 591.9 545.6 597.1 546 579.4 546.4 591.9 546.8 576.9 547.2 582.1 547.6 568.5 548 583.3 548.3 572.3 548.4 593.2 548.4 574.9 548.8 595.3 549.2 585.7 549.6 598.7 550 584.8 550.4 599.3 550.8 586.8 551.2 597.2 551.6 581.8 552 596.1 552.4 578.2 552.8 595.6 553.2 577.9 553.6 593 554 583.4 554.4 593.5 554.8 578.6 555.2 602.6 555.6 575 556 594.1 556.4 559.3 556.8 601.8 557.2 584.6 557.6 595.3 558 578.3 558.4 593.3 558.8 565.3 559.2 596.6 559.6 574 560 599.1 560.4 579.1 560.8 586.8 561.2 563.3 561.6 582 562 568.9 562.4 591.7 562.8 579.5 563.2 598.8 563.6 582.3 564 595 564.4 581 564.8 593.2 565.2 586.5 565.6 596.3 566 578 566.4 593.5 566.8 581.6 567.2 590.3 567.6 584.4 568 594.2 568.4 583.5 568.8 596.7 569.2 578.4 569.6 600.4 570 578.9 570.4 598.4 570.8 584.4 571.2 597.6 571.6 561.2 572 599.7 572.4 585.4 572.8 598.5 573.2 573.1 573.6 588.9 574 576.7 574.4 598.4 574.8 584.4 575.2 599.1 575.6 569.6 576 593.7 576.4 578 576.8 592.2 577.2 579.6 577.6 596.6 578 581 578.4 606.5 578.8 582.4 579.2 590.5 579.6 577 580 592.2 580.4 584.7 580.8 593.8 581.2 555.2 581.6 590.2 582 574.2 582.4 591.7 582.8 574.7 583.2 598.4 583.6 580.1 584 592.2 584.4 579.2 584.8 591.6 585.2 577.6 585.6 593.2 586 577.6 586.4 595.8 586.8 568.2 587.2 596.7 587.6 576.5 588 596.3 588.4 581.1 588.8 589.8 589.2 583.2 589.6 595.1 590 581.9 590.4 589 590.8 576.2 591.2 593 591.6 553.4 592 589.1 592.4 572.9 592.8 593.2 593.2 574.6 593.6 589.7 594 575 594.4 589.1 594.8 582.6 595.2 593.6 595.6 575.7 595.9 498.7 596 584.2 596 588.7 596.4 585.4 596.8 609.8 597.1 513 597.2 602.4 597.2 599.3 597.6 617.4 598 606.2 598.4 608.4 598.8 592.6 599.2 610.1 599.6 596 600 608.9 600.4 597.1 600.8 594.8 601.2 576.5 601.6 586.7 602 579.7 602.4 594.3 602.8 559.4 603.2 594.3 603.6 580.5 604 590.4 604.4 579.9 604.8 599.6 605.2 564.8 605.6 597.9 606 574.8 606.4 599.9 606.8 576.9 607.2 593.9 607.6 581.3 608 594.8 608.4 584.2 608.8 598.2 609.2 584.4 609.6 596.1 610 581.1 610.4 603.1 610.8 593.1 611.2 609 611.6 591.6 612 596.2 612.4 583.6 612.8 590.4 613.2 584.9 613.6 601.6 614 586.8 614.4 593.8 614.8 579.5 615.2 596.4 615.6 581.4 616 596.9 616.4 580.3 616.8 593.9 617.2 582.9 617.6 594.7 618 589.7 618.4 598.3 618.8 586.3 619.2 598.3 619.6 579.8 620 598.5 620.4 580.3 620.8 598.2 621.2 579.2 621.6 594.5 622 581.7 622.4 597.6 622.8 585.3 623.2 600.2 623.6 582.7 624 601.7 624.4 589.4 624.8 601.9 625.2 585.8 625.6 602.1 626 588.2 626.4 606 626.8 578.6 627.2 602.5 627.6 584.3 628 595.9 628.4 569.7 628.8 598.9 629.2 585 629.6 594.8 630 575.3 630.4 596.2 630.8 584.6 631.2 610.8 631.6 572.3 632 605.9 632.4 589.5 632.8 601.4 633.2 564 633.6 601 634 570.4 634.4 600.8 634.8 578.3 635.2 606.7 635.6 591.5 636 605.3 636.4 586.8 636.8 601.3 637.2 588.9 637.6 605.5 638 596.5 638.4 606 638.8 591.6 639.2 606 639.6 597.9 640 610.3 640.4 594.9 640.8 606.6 641.2 596.7 641.6 606.2 642 586.7 642.4 608.4 642.8 572.3 643.2 602.3 643.6 594.3 644 603 644.4 596.3 644.8 604.8 645.2 596.7 645.6 606.7 646 594.4 646.4 612 646.8 596.3 647.2 608.1 647.6 595.3 648 609.5 648.4 585.8 648.8 602.9 649.2 585.1 649.4 552.5 649.5 594.6 649.6 602.1 650 583.3 650.4 596 650.8 573 651.2 592.2 651.6 570.1 652 597.2 652.4 580.5 652.8 587.3 652.9 564.4 653 585.9 653.2 577.9 653.6 593.8 654 577.9 654.4 590.5 654.8 579.1 655.2 591.4 655.6 585.6 656 593.1 656.4 572.5 656.8 587.8 657.2 576.4 657.6 589.9 658 556.5 658.4 591.1 658.8 583.2 659.2 598.2 659.6 587.6 660 595.5 660.4 581.3 660.8 593.1 661.2 584.9 661.6 597 662 584.3 662.4 599.1 662.8 587.2 663.2 600.5 663.6 585.4 664 601.5 664.4 557.1 664.8 600.6 665.2 578.9 665.6 600.2 666 579.5 666.4 597.4 666.8 578.5 667.2 596.2 667.6 584.5 668 610.4 668.4 559.6 668.8 597.1 669.2 577 669.6 603 670 577.6 670.4 600.4 670.8 556.9 671.2 594 671.6 577.2 672 599.3 672.4 581 672.8 587 673.2 575.8 673.6 594.9 674 572.4 674.4 583.6 674.8 582.5 675.2 593.5 675.6 579.9 676 601.8 676.4 582 676.8 598.7 677.2 577.3 677.6 597.1 678 575.9 678.4 600.8 678.8 583.4 679.1 568.4 679.2 589.1 679.2 601.9 679.6 583.4 680 599.6 680.4 585.9 680.8 599.6 681.2 585.9 681.6 589 682 584.8 682.4 595.1 682.8 580.2 683.2 590.2 683.6 581.8 684 591.9 684.4 571.7 684.8 590.4 685.2 566.6 685.6 591.8 686 576.9 686.4 587.5 686.8 572 687.2 590.7 687.6 574.1 688 600.4 688.4 580 688.8 599 689.2 577.5 689.6 593.6 690 577.9 690.4 594.2 690.8 586.1 691 553.3 691.1 588.1 691.2 600.5 691.6 572.4 692 591.8 692.4 565.5 692.8 589.7 693.2 577.1 693.6 596.5 694 588.4 694.4 598.3 694.8 583.5 695.2 595.2 695.6 580.7 696 595 696.4 580.5 696.8 592.8 697.2 579.7 697.6 590.8 698 575.5 698.1 553.3 698.2 589.9 698.4 599.3 698.8 589.8 699.2 597.6 699.6 587.2 700 599.3 700.4 581 700.8 579.3 701.2 573 701.6 595.8 702 586.1 702.4 604.4 702.8 560.5 703.2 593.8 703.6 579.1 704 582.7 704.4 569.4 704.8 591.1 705.2 580.7 705.6 595.5 706 590.6 706.4 596.5 706.8 590.8 707.2 598.8 707.6 591.9 708 611.4 708.4 591.9 708.8 597.8 709.2 571.3 709.6 584.5 710 583.5 710.4 593.8 710.8 592.6 711.2 601.6 711.6 583.9 712 603 712.4 583.7 712.8 596.9 713.2 585.9 713.6 594.3 714 556.9 714.4 593.2 714.8 585.5 715.2 601.1 715.6 586.8 716 588.8 716.4 574 716.8 595.4 717.2 585.4 717.6 595.6 718 588 718.3 564.4 718.4 594.1" stroke="#1f5cb4" stroke-width="0.95" fill="none" stroke-linejoin="bevel"/>
<path d="M49.2 485.3V651.4M46.2 651.4H738.5M738.5 485.3V651.4M46.2 485.3H741.5M49.2 651.4V654.4M73 651.4V654.4M96.7 651.4V654.4M120.5 651.4V654.4M144.3 651.4V654.4M168 651.4V654.4M191.8 651.4V654.4M215.6 651.4V654.4M239.4 651.4V654.4M263.1 651.4V654.4M286.9 651.4V654.4M310.7 651.4V654.4M334.4 651.4V654.4M358.2 651.4V654.4M382 651.4V654.4M405.7 651.4V654.4M429.5 651.4V654.4M453.3 651.4V654.4M477 651.4V654.4M500.8 651.4V654.4M524.6 651.4V654.4M548.3 651.4V654.4M572.1 651.4V654.4M595.9 651.4V654.4M619.7 651.4V654.4M643.4 651.4V654.4M667.2 651.4V654.4M691 651.4V654.4M714.7 651.4V654.4M738.5 651.4V654.4M46.2 651.4H49.2M46.2 627.7H49.2M46.2 603.9H49.2M46.2 580.2H49.2M46.2 556.5H49.2M46.2 532.8H49.2M46.2 509H49.2M46.2 485.3H49.2M738.5 651.4H741.5M738.5 630.6H741.5M738.5 609.9H741.5M738.5 589.1H741.5M738.5 568.4H741.5M738.5 547.6H741.5M738.5 526.8H741.5M738.5 506.1H741.5M738.5 485.3H741.5" stroke="#6b6b6e" stroke-width="1.3" fill="none"/>
<path d="M52.4 552.6L56.3 556.5L52.4 560.4L48.5 556.5ZM55.8 543.6L59.7 547.5L55.8 551.4L51.9 547.5ZM72 541.4L75.9 545.3L72 549.2L68.1 545.3ZM78.3 557.1L82.2 561L78.3 564.9L74.4 561ZM96.3 586.8L100.2 590.7L96.3 594.6L92.4 590.7ZM100.8 590.4L104.7 594.3L100.8 598.2L96.9 594.3ZM122.2 585.9L126.1 589.8L122.2 593.7L118.3 589.8ZM146.3 581.9L150.2 585.8L146.3 589.7L142.4 585.8ZM167 539.1L170.9 543L167 546.9L163.1 543ZM175.5 552.6L179.4 556.5L175.5 560.4L171.6 556.5ZM190.8 559.4L194.7 563.3L190.8 567.2L186.9 563.3ZM198.5 550.8L202.4 554.7L198.5 558.6L194.6 554.7ZM214.4 572.4L218.3 576.3L214.4 580.2L210.5 576.3ZM222.2 578.5L226.1 582.4L222.2 586.3L218.3 582.4ZM238.2 566.1L242.1 570L238.2 573.9L234.3 570ZM246.1 563.4L250 567.3L246.1 571.2L242.2 567.3ZM261.8 562.1L265.7 566L261.8 569.9L257.9 566ZM269.7 545.9L273.6 549.8L269.7 553.7L265.8 549.8ZM288.1 549.2L292 553.1L288.1 557L284.2 553.1ZM312.2 557.1L316.1 561L312.2 564.9L308.3 561ZM333.1 544.3L337 548.2L333.1 552.1L329.2 548.2ZM341 565.4L344.9 569.3L341 573.2L337.1 569.3ZM357.2 563.4L361.1 567.3L357.2 571.2L353.3 567.3ZM364.6 572.2L368.5 576.1L364.6 580L360.7 576.1ZM380.8 555.3L384.7 559.2L380.8 563.1L376.9 559.2ZM388.8 588.6L392.7 592.5L388.8 596.4L384.9 592.5ZM404.8 556.7L408.7 560.6L404.8 564.5L400.9 560.6ZM412 576.9L415.9 580.8L412 584.7L408.1 580.8ZM436.3 572.4L440.2 576.3L436.3 580.2L432.4 576.3ZM454.8 575.1L458.7 579L454.8 582.9L450.9 579ZM480.6 582.5L484.5 586.4L480.6 590.3L476.7 586.4ZM499.3 565.7L503.2 569.6L499.3 573.5L495.4 569.6ZM507.6 565.7L511.5 569.6L507.6 573.5L503.7 569.6ZM523.4 541.4L527.3 545.3L523.4 549.2L519.5 545.3ZM531.3 562.1L535.2 566L531.3 569.9L527.4 566ZM546.6 556.7L550.5 560.6L546.6 564.5L542.7 560.6ZM555.8 559.3L559.7 563.2L555.8 567.1L551.9 563.2ZM570.5 567.4L574.4 571.2L570.5 575.1L566.6 571.2ZM578.2 566.1L582.1 570L578.2 573.9L574.4 570ZM595 570.4L598.9 574.2L595 578.1L591.1 574.2ZM602 572.4L605.9 576.2L602 580.1L598.1 576.2ZM622.5 575.4L626.4 579.2L622.5 583.1L618.6 579.2ZM648 595.4L651.9 599.2L648 603.1L644.1 599.2ZM666.2 569.1L670.1 573L666.2 576.9L662.4 573ZM674.2 556.1L678.1 560L674.2 563.9L670.4 560ZM689.5 590.6L693.4 594.5L689.5 598.4L685.6 594.5ZM697.5 579.1L701.4 583L697.5 586.9L693.6 583ZM713 585.4L716.9 589.2L713 593.1L709.1 589.2Z" fill="#f2903a" stroke="#9c5522" stroke-width="0.9"/>
<path d="M195.8 637.6L200.3 646.8L191.3 646.8ZM219.7 637.6L224.2 646.8L215.2 646.8ZM240.2 637.6L244.7 646.8L235.7 646.8Z" fill="#17a04a" stroke="#0d6e30" stroke-width="0.7"/>
<text x="40.1" y="654.8" text-anchor="end" style="font-family:'Liberation Sans', sans-serif;font-weight:bold;font-size:9.7px;letter-spacing:0.85px;fill:#2b2b2b;stroke:#2b2b2b;stroke-width:0.35px">0</text><text x="40.1" y="631.1" text-anchor="end" style="font-family:'Liberation Sans', sans-serif;font-weight:bold;font-size:9.7px;letter-spacing:0.85px;fill:#2b2b2b;stroke:#2b2b2b;stroke-width:0.35px">3</text><text x="40.1" y="607.3" text-anchor="end" style="font-family:'Liberation Sans', sans-serif;font-weight:bold;font-size:9.7px;letter-spacing:0.85px;fill:#2b2b2b;stroke:#2b2b2b;stroke-width:0.35px">6</text><text x="40.1" y="583.6" text-anchor="end" style="font-family:'Liberation Sans', sans-serif;font-weight:bold;font-size:9.7px;letter-spacing:0.85px;fill:#2b2b2b;stroke:#2b2b2b;stroke-width:0.35px">9</text><text x="40.1" y="559.9" text-anchor="end" style="font-family:'Liberation Sans', sans-serif;font-weight:bold;font-size:9.7px;letter-spacing:0.85px;fill:#2b2b2b;stroke:#2b2b2b;stroke-width:0.35px">12</text><text x="40.1" y="536.2" text-anchor="end" style="font-family:'Liberation Sans', sans-serif;font-weight:bold;font-size:9.7px;letter-spacing:0.85px;fill:#2b2b2b;stroke:#2b2b2b;stroke-width:0.35px">15</text><text x="40.1" y="512.4" text-anchor="end" style="font-family:'Liberation Sans', sans-serif;font-weight:bold;font-size:9.7px;letter-spacing:0.85px;fill:#2b2b2b;stroke:#2b2b2b;stroke-width:0.35px">18</text><text x="40.1" y="488.7" text-anchor="end" style="font-family:'Liberation Sans', sans-serif;font-weight:bold;font-size:9.7px;letter-spacing:0.85px;fill:#2b2b2b;stroke:#2b2b2b;stroke-width:0.35px">21</text><text x="49.6" y="667.1" text-anchor="middle" style="font-family:'Liberation Sans', sans-serif;font-weight:bold;font-size:9.7px;letter-spacing:0.85px;fill:#2b2b2b;stroke:#2b2b2b;stroke-width:0.35px">0</text><text x="73.4" y="667.1" text-anchor="middle" style="font-family:'Liberation Sans', sans-serif;font-weight:bold;font-size:9.7px;letter-spacing:0.85px;fill:#2b2b2b;stroke:#2b2b2b;stroke-width:0.35px">1</text><text x="97.1" y="667.1" text-anchor="middle" style="font-family:'Liberation Sans', sans-serif;font-weight:bold;font-size:9.7px;letter-spacing:0.85px;fill:#2b2b2b;stroke:#2b2b2b;stroke-width:0.35px">2</text><text x="120.9" y="667.1" text-anchor="middle" style="font-family:'Liberation Sans', sans-serif;font-weight:bold;font-size:9.7px;letter-spacing:0.85px;fill:#2b2b2b;stroke:#2b2b2b;stroke-width:0.35px">3</text><text x="144.7" y="667.1" text-anchor="middle" style="font-family:'Liberation Sans', sans-serif;font-weight:bold;font-size:9.7px;letter-spacing:0.85px;fill:#2b2b2b;stroke:#2b2b2b;stroke-width:0.35px">4</text><text x="168.4" y="667.1" text-anchor="middle" style="font-family:'Liberation Sans', sans-serif;font-weight:bold;font-size:9.7px;letter-spacing:0.85px;fill:#2b2b2b;stroke:#2b2b2b;stroke-width:0.35px">5</text><text x="192.2" y="667.1" text-anchor="middle" style="font-family:'Liberation Sans', sans-serif;font-weight:bold;font-size:9.7px;letter-spacing:0.85px;fill:#2b2b2b;stroke:#2b2b2b;stroke-width:0.35px">6</text><text x="216" y="667.1" text-anchor="middle" style="font-family:'Liberation Sans', sans-serif;font-weight:bold;font-size:9.7px;letter-spacing:0.85px;fill:#2b2b2b;stroke:#2b2b2b;stroke-width:0.35px">7</text><text x="239.8" y="667.1" text-anchor="middle" style="font-family:'Liberation Sans', sans-serif;font-weight:bold;font-size:9.7px;letter-spacing:0.85px;fill:#2b2b2b;stroke:#2b2b2b;stroke-width:0.35px">8</text><text x="263.5" y="667.1" text-anchor="middle" style="font-family:'Liberation Sans', sans-serif;font-weight:bold;font-size:9.7px;letter-spacing:0.85px;fill:#2b2b2b;stroke:#2b2b2b;stroke-width:0.35px">9</text><text x="287.3" y="667.1" text-anchor="middle" style="font-family:'Liberation Sans', sans-serif;font-weight:bold;font-size:9.7px;letter-spacing:0.85px;fill:#2b2b2b;stroke:#2b2b2b;stroke-width:0.35px">10</text><text x="311.1" y="667.1" text-anchor="middle" style="font-family:'Liberation Sans', sans-serif;font-weight:bold;font-size:9.7px;letter-spacing:0.85px;fill:#2b2b2b;stroke:#2b2b2b;stroke-width:0.35px">11</text><text x="334.8" y="667.1" text-anchor="middle" style="font-family:'Liberation Sans', sans-serif;font-weight:bold;font-size:9.7px;letter-spacing:0.85px;fill:#2b2b2b;stroke:#2b2b2b;stroke-width:0.35px">12</text><text x="358.6" y="667.1" text-anchor="middle" style="font-family:'Liberation Sans', sans-serif;font-weight:bold;font-size:9.7px;letter-spacing:0.85px;fill:#2b2b2b;stroke:#2b2b2b;stroke-width:0.35px">13</text><text x="382.4" y="667.1" text-anchor="middle" style="font-family:'Liberation Sans', sans-serif;font-weight:bold;font-size:9.7px;letter-spacing:0.85px;fill:#2b2b2b;stroke:#2b2b2b;stroke-width:0.35px">14</text><text x="406.1" y="667.1" text-anchor="middle" style="font-family:'Liberation Sans', sans-serif;font-weight:bold;font-size:9.7px;letter-spacing:0.85px;fill:#2b2b2b;stroke:#2b2b2b;stroke-width:0.35px">15</text><text x="429.9" y="667.1" text-anchor="middle" style="font-family:'Liberation Sans', sans-serif;font-weight:bold;font-size:9.7px;letter-spacing:0.85px;fill:#2b2b2b;stroke:#2b2b2b;stroke-width:0.35px">16</text><text x="453.7" y="667.1" text-anchor="middle" style="font-family:'Liberation Sans', sans-serif;font-weight:bold;font-size:9.7px;letter-spacing:0.85px;fill:#2b2b2b;stroke:#2b2b2b;stroke-width:0.35px">17</text><text x="477.4" y="667.1" text-anchor="middle" style="font-family:'Liberation Sans', sans-serif;font-weight:bold;font-size:9.7px;letter-spacing:0.85px;fill:#2b2b2b;stroke:#2b2b2b;stroke-width:0.35px">18</text><text x="501.2" y="667.1" text-anchor="middle" style="font-family:'Liberation Sans', sans-serif;font-weight:bold;font-size:9.7px;letter-spacing:0.85px;fill:#2b2b2b;stroke:#2b2b2b;stroke-width:0.35px">19</text><text x="525" y="667.1" text-anchor="middle" style="font-family:'Liberation Sans', sans-serif;font-weight:bold;font-size:9.7px;letter-spacing:0.85px;fill:#2b2b2b;stroke:#2b2b2b;stroke-width:0.35px">20</text><text x="548.7" y="667.1" text-anchor="middle" style="font-family:'Liberation Sans', sans-serif;font-weight:bold;font-size:9.7px;letter-spacing:0.85px;fill:#2b2b2b;stroke:#2b2b2b;stroke-width:0.35px">21</text><text x="572.5" y="667.1" text-anchor="middle" style="font-family:'Liberation Sans', sans-serif;font-weight:bold;font-size:9.7px;letter-spacing:0.85px;fill:#2b2b2b;stroke:#2b2b2b;stroke-width:0.35px">22</text><text x="596.3" y="667.1" text-anchor="middle" style="font-family:'Liberation Sans', sans-serif;font-weight:bold;font-size:9.7px;letter-spacing:0.85px;fill:#2b2b2b;stroke:#2b2b2b;stroke-width:0.35px">23</text><text x="620.1" y="667.1" text-anchor="middle" style="font-family:'Liberation Sans', sans-serif;font-weight:bold;font-size:9.7px;letter-spacing:0.85px;fill:#2b2b2b;stroke:#2b2b2b;stroke-width:0.35px">24</text><text x="643.8" y="667.1" text-anchor="middle" style="font-family:'Liberation Sans', sans-serif;font-weight:bold;font-size:9.7px;letter-spacing:0.85px;fill:#2b2b2b;stroke:#2b2b2b;stroke-width:0.35px">25</text><text x="667.6" y="667.1" text-anchor="middle" style="font-family:'Liberation Sans', sans-serif;font-weight:bold;font-size:9.7px;letter-spacing:0.85px;fill:#2b2b2b;stroke:#2b2b2b;stroke-width:0.35px">26</text><text x="691.4" y="667.1" text-anchor="middle" style="font-family:'Liberation Sans', sans-serif;font-weight:bold;font-size:9.7px;letter-spacing:0.85px;fill:#2b2b2b;stroke:#2b2b2b;stroke-width:0.35px">27</text><text x="715.1" y="667.1" text-anchor="middle" style="font-family:'Liberation Sans', sans-serif;font-weight:bold;font-size:9.7px;letter-spacing:0.85px;fill:#2b2b2b;stroke:#2b2b2b;stroke-width:0.35px">28</text><text x="738.9" y="667.1" text-anchor="middle" style="font-family:'Liberation Sans', sans-serif;font-weight:bold;font-size:9.7px;letter-spacing:0.85px;fill:#2b2b2b;stroke:#2b2b2b;stroke-width:0.35px">29</text><text x="747.2" y="654.8" style="font-family:'Liberation Sans', sans-serif;font-weight:bold;font-size:9.7px;letter-spacing:0.85px;fill:#2b2b2b;stroke:#2b2b2b;stroke-width:0.35px">0</text><text x="747.2" y="634" style="font-family:'Liberation Sans', sans-serif;font-weight:bold;font-size:9.7px;letter-spacing:0.85px;fill:#2b2b2b;stroke:#2b2b2b;stroke-width:0.35px">25</text><text x="747.2" y="613.3" style="font-family:'Liberation Sans', sans-serif;font-weight:bold;font-size:9.7px;letter-spacing:0.85px;fill:#2b2b2b;stroke:#2b2b2b;stroke-width:0.35px">50</text><text x="747.2" y="592.5" style="font-family:'Liberation Sans', sans-serif;font-weight:bold;font-size:9.7px;letter-spacing:0.85px;fill:#2b2b2b;stroke:#2b2b2b;stroke-width:0.35px">75</text><text x="747.2" y="571.8" style="font-family:'Liberation Sans', sans-serif;font-weight:bold;font-size:9.7px;letter-spacing:0.85px;fill:#2b2b2b;stroke:#2b2b2b;stroke-width:0.35px">100</text><text x="747.2" y="551" style="font-family:'Liberation Sans', sans-serif;font-weight:bold;font-size:9.7px;letter-spacing:0.85px;fill:#2b2b2b;stroke:#2b2b2b;stroke-width:0.35px">125</text><text x="747.2" y="530.2" style="font-family:'Liberation Sans', sans-serif;font-weight:bold;font-size:9.7px;letter-spacing:0.85px;fill:#2b2b2b;stroke:#2b2b2b;stroke-width:0.35px">150</text><text x="747.2" y="509.5" style="font-family:'Liberation Sans', sans-serif;font-weight:bold;font-size:9.7px;letter-spacing:0.85px;fill:#2b2b2b;stroke:#2b2b2b;stroke-width:0.35px">175</text><text x="747.2" y="488.7" style="font-family:'Liberation Sans', sans-serif;font-weight:bold;font-size:9.7px;letter-spacing:0.85px;fill:#2b2b2b;stroke:#2b2b2b;stroke-width:0.35px">200</text>
<text x="395.9" y="685.3" text-anchor="middle" textLength="81.3" lengthAdjust="spacingAndGlyphs" style="font-family:'Liberation Sans', sans-serif;font-weight:bold;font-size:13.8px;fill:#1c1c1c">Time [Days]</text>
<text transform="translate(21.8 564.8) rotate(-90)" text-anchor="middle" textLength="120.6" lengthAdjust="spacingAndGlyphs" style="font-family:'Liberation Sans', sans-serif;font-weight:bold;font-size:13.8px;fill:#1c1c1c">CGS Current [nA]</text>
<text transform="translate(777.8 570.7) rotate(90)" text-anchor="middle" textLength="158.2" lengthAdjust="spacingAndGlyphs" style="font-family:'Liberation Sans', sans-serif;font-weight:bold;font-size:13.8px;fill:#1c1c1c">Blood Glucose [mg/dL]</text>
<ellipse cx="66.8" cy="501" rx="11.2" ry="11.9" fill="#fff" stroke="#111" stroke-width="1.6"/>
<text x="66.8" y="507.3" text-anchor="middle" style="font-family:'Liberation Sans', sans-serif;font-weight:bold;font-size:17.5px;fill:#111;stroke:#111;stroke-width:0.7px">C</text>
<path d="M71.9 721.2V890.4M95.8 721.2V890.4M119.7 721.2V890.4M143.6 721.2V890.4M167.4 721.2V890.4M191.3 721.2V890.4M215.2 721.2V890.4M239.1 721.2V890.4M263 721.2V890.4M286.9 721.2V890.4M310.8 721.2V890.4M334.7 721.2V890.4M358.5 721.2V890.4M382.4 721.2V890.4M406.3 721.2V890.4M430.2 721.2V890.4M454.1 721.2V890.4M478 721.2V890.4M501.9 721.2V890.4M525.8 721.2V890.4M549.6 721.2V890.4M573.5 721.2V890.4M597.4 721.2V890.4M621.3 721.2V890.4M645.2 721.2V890.4M669.1 721.2V890.4M693 721.2V890.4M716.9 721.2V890.4M48 866.2H740.8M48 842.1H740.8M48 817.9H740.8M48 793.7H740.8M48 769.5H740.8M48 745.4H740.8M48 721.2H740.8" stroke="#5f6268" stroke-width="1.3" fill="none" stroke-dasharray="1.8 1.3"/>
<clipPath id="clipD"><rect x="48" y="720.7" width="692.8" height="169.7"/></clipPath>
<path clip-path="url(#clipD)" d="M48 768.9 48.3 800 48.7 783.7 49 813.5 49.4 788.6 49.7 805.2 50 757 50.4 816.3 50.4 767.1 50.5 797.7 50.7 774.5 51.1 812.7 51.4 774.2 51.7 792.8 52.1 768.7 52.4 796.3 52.8 791.5 53.1 819.9 53.4 793.8 53.8 817.8 54.1 785.2 54.5 816 54.8 781.4 55.1 827.1 55.5 790.9 55.8 819.9 56.2 796.8 56.5 813.5 56.8 800.5 57.2 815.9 57.5 791.1 57.6 767.9 57.7 807.8 57.9 821.6 58.2 786.2 58.5 825.4 58.9 801.6 59.2 815.2 59.6 807.3 59.9 828.1 60.2 794.2 60.6 811.5 60.9 791.7 61.3 821.3 61.6 797.4 61.9 819.6 62.3 789.3 62.6 830.5 63 792 63.3 828.3 63.6 774.6 64 823.1 64.3 793.2 64.7 827.4 65 811.6 65.3 820.7 65.7 809.8 66 829.4 66.4 796.4 66.7 821.3 67 813 67.4 821.8 67.7 799.6 68.1 817 68.4 796.1 68.7 831.9 69.1 813.9 69.4 828 69.8 806.3 70.1 822.9 70.4 787.9 70.8 796.6 71.1 784.8 71.5 823.9 71.8 801.1 72.1 830.3 72.5 807.1 72.8 830.9 73.2 801.9 73.5 820.6 73.8 801.4 74.2 817.1 74.5 805.5 74.9 816.6 75.2 793.3 75.5 803.9 75.9 779.7 76.2 827.6 76.6 804.2 76.7 767.9 76.8 817.9 76.9 827.9 77.2 806.7 77.6 823 77.9 809.3 78.3 830.9 78.6 799.6 78.9 828.9 79.3 802.7 79.6 823.2 80 805.8 80.3 821 80.6 798.9 81 830 81.3 801.3 81.4 774.4 81.5 822.3 81.7 838.8 82 820.2 82.3 839 82.7 816.2 83 838.9 83.4 808.1 83.7 840.7 84 797.2 84.4 832.9 84.7 819.7 85.1 839.6 85.4 812.6 85.7 840.8 86.1 820 86.4 834.7 86.8 819.9 87.1 845.1 87.4 823.7 87.8 844 88.1 822.1 88.5 847.8 88.8 823.9 89.1 845.4 89.5 833.6 89.8 843.4 90.2 824.5 90.5 848.6 90.8 827.9 91.2 847.1 91.5 824.8 91.9 850.9 92.2 832.8 92.5 852 92.9 831.8 93.2 851 93.6 826.5 93.9 849.1 94.2 830.9 94.6 845.8 94.9 826.8 95.3 837.4 95.6 824.2 95.9 843.8 96.3 833.9 96.6 850 97 843.8 97.3 852.6 97.6 839.7 98 851.3 98.3 844.2 98.7 847.9 99 842.8 99.3 853.2 99.7 841 100 850.2 100.4 841.4 100.7 855.2 101 839.7 101.4 851.3 101.7 842.9 102.1 851 102.4 846.6 102.7 851.4 103.1 841.2 103.4 848.4 103.8 824.7 104.1 839.6 104.4 782.2 104.8 817.2 105.1 786.8 105.5 813.1 105.8 778.4 106.1 809.5 106.5 780.6 106.5 745.4 106.6 795.8 106.8 806.7 107.2 778.7 107.5 796.7 107.8 778.4 108.2 795.7 108.5 764.5 108.9 792 109.2 790 109.5 796.3 109.9 765.3 110.2 810.2 110.6 785.3 110.9 809.4 111.2 782.4 111.6 809.7 111.9 781.8 112.3 811.9 112.6 774.8 112.9 813.1 113.3 786.7 113.6 818.6 114 792.9 114.3 811.1 114.6 785 115 807.2 115.3 785.8 115.7 813.7 116 786.3 116.3 807.2 116.7 774.7 117 810.2 117.4 791.2 117.7 797.5 118 767.5 118.4 796.9 118.7 783.4 119.1 825.7 119.4 792.9 119.7 804.7 120.1 802.5 120.4 807.8 120.8 790.5 121.1 816.9 121.4 796.7 121.8 805.7 122.1 790.1 122.5 817.6 122.8 793.4 123.1 816 123.5 774.5 123.8 818.6 124.2 793.1 124.5 815.4 124.8 798.6 125.2 810.7 125.5 804 125.9 811.3 126.2 801.9 126.5 807.9 126.9 789.5 127.2 818.8 127.6 792.5 127.9 808.8 128.2 797.8 128.6 810 128.9 772.8 129.3 812.2 129.6 795.9 129.9 808.7 130.3 802.3 130.6 807.7 131 802.5 131.3 808 131.6 774.4 131.7 806.7 131.6 800.5 132 816.6 132.3 791.5 132.7 820.3 133 796.7 133.3 809.1 133.7 796.7 134 819.4 134.4 789.3 134.7 816.4 135 801.1 135.4 819.6 135.7 792.7 136.1 812.8 136.4 803.8 136.7 814.4 137.1 797.8 137.4 812.4 137.8 795.3 138.1 809.5 138.4 797 138.8 821.2 139.1 807.3 139.5 819.2 139.8 805.6 140.1 816.6 140.5 795.9 140.8 820 141.2 793.8 141.5 817.9 141.8 801.7 142.2 817.7 142.5 800.5 142.9 818.6 143.2 808.8 143.5 820.7 143.6 852.5 143.7 809.8 143.6 717.2 143.7 809.8 143.9 808.5 144.2 815.3 144.6 804.4 144.9 813.9 145.2 800.5 145.6 822.8 145.9 805.4 146.3 818.9 146.6 804.2 146.9 814.9 147.3 807.8 147.6 820 148 808 148.3 820.9 148.6 800.7 149 814.1 149.3 800.5 149.7 820 150 809.7 150.3 823.6 150.7 803.8 151 822 151.4 799.5 151.7 828.3 152 799.9 152.4 814.2 152.7 809.8 153.1 824.9 153.4 800.3 153.7 824.2 154.1 799.7 154.4 826.2 154.8 806.9 155.1 820.3 155.4 802.8 155.8 822.9 156.1 803.9 156.5 815.1 156.8 809.8 157.1 824.8 157.5 806.8 157.8 823.1 158.2 780.2 158.5 818.3 158.8 806.5 159.2 823 159.5 804.3 159.9 824 160.2 803.8 160.5 822.6 160.9 804.9 161.2 823.9 161.6 800.5 161.9 825.9 162.2 806.3 162.6 820.9 162.9 808.5 163.3 819.6 163.6 808.8 163.9 825.9 164.3 802 164.6 821.8 165 781.3 165.3 838.1 165.6 815.2 166 825.2 166.2 769.5 166.3 815.5 166.3 810.1 166.7 823.3 167 807.4 167.3 822.1 167.7 800.7 168 816.3 168.4 807.7 168.7 825.7 169 809.1 169.4 832.5 169.7 804 169.8 846.1 169.9 816.1 170.1 824.9 170.4 808 170.7 823.7 171.1 808.7 171.4 817.4 171.8 812.8 172.1 827.9 172.4 803.1 172.8 827.1 173.1 808.9 173.5 819.3 173.8 803.4 174.1 828.9 174.5 808.5 174.8 829.4 175.2 806.4 175.5 822.4 175.8 815.2 176.2 826.8 176.5 811.5 176.9 825 177.2 809.9 177.5 824.3 177.9 813.5 178.2 817.4 178.6 805.4 178.9 828 179.2 813.4 179.4 785.7 179.5 816.9 179.6 822.3 179.9 807.1 180.3 824.2 180.6 797.5 180.9 827.6 181.3 810.6 181.6 828.2 182 804.5 182.3 827.3 182.6 807.5 183 827.1 183.3 816.4 183.7 829.4 184 815.7 184.3 828.4 184.7 805.8 185 826.3 185.4 799.9 185.7 827.9 186 812.8 186.4 819.4 186.7 802.8 187.1 826.6 187.4 812.6 187.7 819.8 188.1 806.9 188.4 829.8 188.8 808.3 189.1 822.6 189.4 806.1 189.8 827.9 190.1 811.2 190.5 822.6 190.8 791.3 191.1 827.2 191.3 852.5 191.4 817.9 191.5 806.6 191.8 829 192.2 810.4 192.5 828.8 192.8 813 193.2 824.5 193.5 809.7 193.9 824.5 194.2 813.3 194.5 833.2 194.9 809.5 195.2 823.6 195.6 807 195.9 829.3 196.2 805.5 196.6 825.1 196.9 808.6 197.3 822.5 197.6 802.5 197.9 820.7 198.3 815.9 198.6 823.1 199 805.6 199.3 827.5 199.6 809.7 200 816.1 200.3 807.2 200.7 825.7 201 812 201.3 823 201.7 805.5 202 830.1 202.4 817.2 202.7 828.9 203 808.7 203.3 785.7 203.4 818.9 203.4 821 203.7 808.1 204.1 825.2 204.4 804.8 204.7 829.8 205.1 810.5 205.4 822.1 205.8 807.7 206.1 832.3 206.4 809.9 206.8 819.8 207.1 807.1 207.5 827.5 207.8 809.8 208.1 826.6 208.5 812.9 208.8 826.8 209.2 811 209.5 825.6 209.8 811.4 210.2 820.9 210.5 817.6 210.9 824.1 211.2 818.2 211.5 825.2 211.9 807.5 212.2 821.5 212.6 811.8 212.9 826.7 213.2 809.8 213.6 823.3 213.9 805.2 214.3 831.5 214.6 811.5 214.9 832.4 215.2 777.6 215.3 819.9 215.3 807.7 215.6 830.8 216 797.9 216.3 839.9 216.6 815.2 217 837.8 217.3 813 217.7 836.6 218 814.8 218.3 834 218.7 807.9 218.8 879.9 218.9 822.8 219 832.1 219.4 813.2 219.7 830.8 220 750.2 220.1 823.7 220 805.3 220.4 828.4 220.7 821.4 221.1 830.9 221.4 821.6 221.7 827.4 222.1 820.2 222.4 828.9 222.8 815.3 223.1 833.2 223.4 822.4 223.8 833.9 224.1 819.9 224.5 835.2 224.8 813.1 225.1 826.1 225.5 813.6 225.8 835.3 226.2 819.4 226.5 836.4 226.8 818.9 227.2 829.8 227.5 819.2 227.9 834.9 228.2 813.3 228.5 832.9 228.9 816.5 229.2 834.7 229.6 814.5 229.9 836.7 230.2 814.3 230.6 838.1 230.9 823.4 231.3 829.4 231.6 817 231.9 793.7 232 825.9 231.9 832.6 232.3 808.1 232.6 833.4 233 820.4 233.3 833.6 233.6 820 234 835.3 234.3 819.6 234.7 835.7 235 814.6 235.3 834.2 235.7 816.7 236 835.3 236.4 813.9 236.7 838.6 237 816.7 237.4 827 237.7 817.7 238.1 836.7 238.4 816.4 238.7 835.8 239.1 814.9 239.4 827.3 239.8 820.5 240.1 836.1 240.4 821.8 240.8 827.9 241.1 812.2 241.5 829.1 241.8 823.9 242.1 837.5 242.5 816.2 242.8 835.2 243.2 822.6 243.5 833.8 243.8 817.1 244.2 835.4 244.5 825.6 244.9 835.5 245.2 814.7 245.5 835.9 245.9 824.2 246.2 838 246.3 781.6 246.4 825.9 246.6 812.3 246.9 841.9 247.2 824.6 247.6 850 247.9 829.1 248.3 847.9 248.6 827.4 248.9 851.8 249.3 826.6 249.6 848.4 250 828.2 250.3 846.4 250.6 830 251 845.3 251.3 830.7 251.7 852.9 252 833.7 252.3 850.5 252.7 837.2 253 845.5 253.4 838.4 253.4 855.8 253.5 842 253.7 848.8 254 825.5 254.4 836.9 254.7 806.6 255.1 824.9 255.4 812.4 255.7 836.7 255.8 797.7 255.9 821.9 256.1 801.5 256.4 833.5 256.8 812.4 257.1 828.6 257.4 817 257.8 831.2 258.1 817.1 258.5 830.1 258.8 812.4 259.1 826.4 259.5 819.7 259.8 830.9 260.2 811.8 260.5 826.8 260.8 810.6 261.2 826.2 261.5 807.2 261.9 834.2 262.2 814.7 262.5 825.6 262.9 811.2 263.2 832.7 263.6 809.5 263.9 826.1 264.2 813.2 264.6 832.7 264.9 810.6 265.3 828.5 265.6 810.7 265.9 824.7 266.3 817.1 266.6 828.4 267 817.7 267.3 823.7 267.6 811.3 267.8 797.7 267.9 821.8 268 830.7 268.3 820.6 268.7 831.1 269 809 269.3 834.2 269.7 811.9 270 828.9 270.4 814.4 270.7 832.9 271 810.6 271.4 832.5 271.7 811.2 272.1 837.7 272.4 831.7 272.7 839.8 273.1 819.8 273.4 823.7 273.8 810.1 274.1 826.7 274.4 812.3 274.8 825.6 275.1 821 275.5 822.2 275.8 813.4 276.1 816.2 276.5 809.4 276.8 822.6 277.2 809.7 277.5 829.1 277.8 812.4 278.2 826 278.5 808.2 278.9 831 279.2 820.7 279.5 832.7 279.9 812 280.2 825.2 280.6 819.3 280.9 826.2 281.2 812.2 281.6 825 281.9 810.3 282.3 829.2 282.6 809.9 282.9 829.8 283.3 818 283.6 831.5 284 810.8 284.3 828.2 284.6 810.2 285 826.6 285.3 814.4 285.7 834.6 286 814.8 286.3 833.6 286.7 813.6 287 831.8 287.4 808.4 287.7 830.3 288 810.4 288.4 832 288.7 804.5 289.1 826.1 289.3 760.7 289.4 817.2 289.4 809 289.7 827.2 290.1 804.2 290.4 823.4 290.8 799.3 291.1 821.3 291.4 798.7 291.8 824.9 292.1 803.8 292.5 817.4 292.8 798.3 293.1 822.2 293.5 793.3 293.8 822.7 294.2 804.5 294.5 811.8 294.8 801.9 295.2 822.4 295.5 801.8 295.9 827.1 296.2 795.5 296.5 812.1 296.9 803.6 297.2 814.5 297.6 796.1 297.9 817.2 298.2 808.2 298.6 820.9 298.9 799.3 299.3 822.4 299.6 804.1 299.9 822.1 300.3 801.9 300.6 817.7 301 793.5 301.3 818.6 301.6 799.1 302 810.1 302.3 798.6 302.7 816.5 303 794.5 303.3 829.1 303.7 794.5 304 815.2 304.4 803.1 304.7 819.4 305 797.8 305.4 823.6 305.7 794.2 306.1 822.8 306.4 799.9 306.7 819.9 307.1 793.9 307.4 810.7 307.8 791.7 308.1 814.3 308.4 783.6 308.8 816.5 309.1 805.5 309.5 813.2 309.8 804.8 310.1 816.5 310.5 774.5 310.8 781.6 310.9 805.9 310.8 821.8 311.2 795.1 311.5 815.6 311.8 796.4 312.2 812.6 312.5 803.3 312.9 820 313.2 801.8 313.5 821.1 313.9 775.6 314.2 813 314.6 789.8 314.9 813 315.2 802.8 315.6 817.3 315.9 786.6 316.3 807.4 316.6 782.5 316.9 810.6 317.3 790.2 317.6 814 317.9 771.2 318 805.8 318 789.3 318.3 820.8 318.6 805 319 812.4 319.3 794.5 319.7 812.4 320 801.3 320.3 813.4 320.7 786.3 321 826.5 321.4 807.8 321.7 813.2 322 799.6 322.4 815.8 322.7 802 323.1 817.8 323.4 800.6 323.7 816.9 324.1 789.2 324.4 810.3 324.8 799.1 325.1 820 325.4 801.6 325.8 816.3 326.1 784.3 326.5 817.2 326.8 793.8 327.1 807.5 327.5 794.5 327.8 813.3 328.2 792.5 328.5 821.2 328.8 799.1 329.2 812.6 329.5 772.7 329.9 811 330.2 787.7 330.5 817.1 330.9 794.8 331.2 822.6 331.6 796.6 331.9 808.6 332.2 800.7 332.6 810.9 332.9 789.2 333.3 822.7 333.6 787.7 333.9 814.8 334.3 793.2 334.6 808.3 335 798.2 335.3 806.4 335.6 793.7 336 808.6 336.3 804.2 336.7 809.3 337 797.4 337 757.5 337.1 807.4 337.3 813.3 337.7 798.7 338 815.7 338.4 800.9 338.7 822.2 339 794.6 339.4 816.9 339.4 765.5 339.5 809 339.7 799.4 340.1 811.6 340.4 800.1 340.7 820 341.1 802 341.4 819.8 341.8 805.7 342.1 821.7 342.4 791.6 342.8 819.5 343.1 796.3 343.5 820.8 343.8 797.8 344.1 825.1 344.5 795.1 344.8 821.4 345.2 801.6 345.5 822.8 345.8 783.8 346.2 824.8 346.5 805.6 346.9 816.3 347.2 810.3 347.5 825 347.9 807.3 348.2 826.1 348.6 799.2 348.9 825.9 349.2 809.1 349.6 820.8 349.9 804.2 350.3 829.8 350.6 808.1 350.9 827 351.3 808.8 351.6 826.5 352 793.8 352.3 829.1 352.6 810.8 353 828.6 353.3 791.4 353.7 823.7 354 786.4 354.3 825 354.7 803.5 355 819.6 355.4 814.6 355.7 827.2 356 797.5 356.4 804.9 356.7 792.2 357.1 806.9 357.4 788.9 357.7 820.1 358.1 812.8 358.4 825.7 358.5 777.6 358.6 816.3 358.8 813.8 359.1 837.8 359.4 799.9 359.8 833.1 360.1 804.3 360.5 826.5 360.8 792.6 361.1 832 361.5 780.7 361.8 838.1 362.2 801.1 362.5 820.1 362.8 806.9 363.2 816.6 363.5 793.2 363.9 807.6 364.2 772.8 364.5 788.7 364.9 764.9 365.2 791 365.6 783.7 365.9 811.2 366.2 794.3 366.6 828.1 366.9 812.1 367.3 832.1 367.6 800.9 367.9 829.6 368.3 795.3 368.6 828.5 369 785 369.3 826.3 369.6 798.4 370 826.4 370.3 799.2 370.5 717.2 370.6 814 370.7 822.6 371 800.2 371.3 828.8 371.7 806.5 372 822 372.4 800.2 372.7 824.2 373 799.8 373.4 827.2 373.7 805.8 374.1 821.9 374.4 800.1 374.7 824.5 375.1 808.7 375.4 824 375.8 804.8 376.1 827.8 376.4 811 376.8 819.4 377.1 808.7 377.5 821.4 377.8 809.6 378.1 834.2 378.5 806.1 378.8 835.8 379.2 818.9 379.5 826.3 379.8 809.6 380.2 833.5 380.5 810.4 380.9 831.9 381.2 815.7 381.5 836.3 381.9 797.7 382.2 828.3 382.4 854.1 382.5 823.8 382.6 813 382.9 834.8 383.2 814.7 383.6 829.1 383.9 816.4 384.3 832.4 384.6 824.1 384.9 838 385.3 821.5 385.6 837.9 386 820.3 386.3 828.6 386.6 822.4 387 828.6 387.3 818.9 387.7 837 388 814.9 388.3 830.8 388.4 777.6 388.5 825.6 388.7 823.9 389 835.7 389.4 813.6 389.7 836.1 390 813.6 390.4 833 390.7 795.3 391.1 832.3 391.4 794.6 391.7 848.3 392.1 819.5 392.4 831.8 392.8 811.9 393.1 830.5 393.4 812.3 393.8 830.7 394.1 809.9 394.5 829.3 394.8 811.2 395.1 824.6 395.5 815.8 395.8 824.5 396.2 810.6 396.5 817 396.8 808.9 397.2 822.5 397.5 818.1 397.9 838 398.2 810.1 398.5 828.3 398.9 816.6 399.2 825.9 399.6 794.7 399.9 827.9 400.2 809.6 400.6 823.9 400.9 802.2 401.3 834.9 401.6 814.4 401.9 828 402.3 812.8 402.6 832.9 403 813.1 403.3 837.6 403.6 818.6 403.9 793.7 404 822.6 404 840.3 404.3 818.5 404.7 829.1 405 819 405.3 822.6 405.7 814.7 406 829 406.4 808.3 406.7 833.5 407 815.9 407.4 823 407.7 811.1 408.1 837.7 408.4 818 408.7 839.2 409.1 803.8 409.4 835 409.8 800.1 410.1 830.6 410.4 810.2 410.8 831.4 411.1 818.1 411.5 828.9 411.8 809.2 412.1 826.4 412.5 817.1 412.8 837.7 413.2 811.6 413.5 789.7 413.6 821.3 413.5 832.2 413.8 815.6 414.2 828.9 414.5 818.8 414.9 828.8 415.2 810.8 415.5 834.1 415.9 805.8 416.2 825.3 416.6 806.4 416.9 827.6 417.2 794.4 417.6 835.4 417.9 815.3 418.3 826.7 418.6 807.8 418.9 833.7 419.3 814.6 419.6 832 420 812.5 420.3 825.7 420.6 812.1 421 829.6 421.3 802.3 421.7 835.1 422 793.7 422.3 826.6 422.7 813 423 834.2 423.4 808.5 423.7 832.4 424 806.9 424.4 824.9 424.7 808.9 425.1 825.7 425.4 799.7 425.7 833 426.1 819.1 426.4 833.4 426.8 807.9 427.1 829.1 427.4 805.5 427.8 832.2 428.1 815.6 428.5 844 428.8 795.8 429.1 831.7 429.5 810 429.8 828.1 430.2 811.9 430.2 789.7 430.3 819.9 430.5 826.8 430.8 811.3 431.2 829.8 431.5 807.1 431.9 825.4 432.2 815.9 432.5 824.6 432.9 804.3 433.2 834.6 433.6 812.8 433.9 832.9 434.2 814.3 434.6 833.5 434.9 808.2 435.3 828.7 435.6 791.3 435.9 829.5 436.3 822.9 436.6 824.3 437 814.6 437.3 829.2 437.6 813.7 438 829.7 438.3 822.9 438.7 833.3 439 815.9 439.3 832.2 439.7 807.6 440 833.7 440.4 820.4 440.7 828.8 441 820.5 441.4 837.3 441.7 819.6 442.1 838.3 442.4 820 442.7 839.3 443.1 805.9 443.4 841.2 443.8 833.6 444.1 844.9 444.4 831.7 444.8 847.6 445.1 831.9 445.5 848.6 445.8 828.7 446.1 845.6 446.5 833.6 446.8 844.7 447.2 834.6 447.5 844.7 447.8 834 448.2 845.2 448.5 830.4 448.9 848 449.2 832.2 449.5 844.4 449.9 835.8 450.2 848.8 450.6 837.4 450.9 843.6 451.2 839.5 451.6 851.9 451.9 832.1 452.3 850.4 452.6 833.6 452.9 859.4 453.3 848.9 453.6 846.1 454 838.8 454.3 843.9 454.6 832.6 455 843.9 455.3 832.2 455.7 852 456 832.6 456.3 848.7 456.7 822.8 457 849.4 457.4 838.5 457.7 844 458 834.4 458.4 842.2 458.7 831.6 459.1 844.4 459.4 832.3 459.7 841.2 460.1 828.2 460.4 844.2 460.8 835.5 461.1 844.1 461.4 829.1 461.8 847 462.1 824 462.5 844.1 462.8 831.4 463.1 849.7 463.5 832.3 463.8 846.6 464.2 835 464.5 841.7 464.8 832.7 465.2 843.9 465.5 835.7 465.9 842.9 466.2 825.7 466.5 845.2 466.9 828.3 467.2 843.1 467.2 717.2 467.3 835.1 467.6 811.4 467.9 842.6 468.2 826.2 468.4 854.1 468.5 830.8 468.6 839.4 468.9 818.4 469.3 835.5 469.6 818.8 469.9 834.1 470.3 817.3 470.6 843.5 471 819 471.3 835 471.6 827.5 472 836.8 472.3 824.4 472.7 840.7 473 825.2 473.3 841.9 473.7 818.3 474 834.9 474.4 827.3 474.7 836.1 475 819.7 475.4 836.3 475.7 820.4 476.1 842.1 476.4 818.7 476.7 838.8 477.1 829 477.4 842.5 477.8 817.5 478.1 840.8 478.4 822.3 478.8 839 479.1 808.4 479.5 833.6 479.8 828.6 480.1 839.9 480.5 817.1 480.8 836.3 481.2 824.5 481.5 841.4 481.8 820.5 482.2 834.8 482.5 828.7 482.9 841.8 483.2 822.5 483.5 840.9 483.9 827.9 484.2 841.9 484.6 823.7 484.9 841.3 485.2 824.7 485.6 841.6 485.9 830.1 486.3 842 486.6 812 486.9 840.8 487.3 820.2 487.6 838.5 488 829.4 488.3 837.2 488.6 833.5 489 844.8 489.3 828.9 489.7 841.8 490 822.4 490.3 833.6 490.7 812 491 836 491.4 824.7 491.7 837.1 492 828.3 492.4 846.2 492.7 829.2 493.1 837.5 493.4 827.6 493.7 846.3 494.1 832.2 494.4 838.2 494.8 831.6 495.1 850.6 495.4 822.7 495.8 842.3 496.1 828.1 496.5 837.5 496.8 813.6 497.1 844.4 497.5 828.8 497.8 829.2 498.2 806.8 498.5 824.8 498.8 819.8 499.2 844 499.5 855.8 499.6 834.5 499.5 825.3 499.9 842.7 500.2 831.1 500.5 845.6 500.9 824.7 501.2 839 501.6 826.7 501.9 777.6 502 834.1 501.9 845.8 502.2 822.7 502.6 843.8 502.9 825.9 503.3 841.8 503.6 822.4 503.9 843.5 504.3 819.2 504.6 837.2 505 819.9 505.3 840.5 505.6 822.1 506 833.7 506.3 824.6 506.7 834.9 507 821.5 507.3 837.1 507.7 821 508 835.9 508.4 819.9 508.7 839.6 509 823.9 509.4 827.9 509.7 811.5 510.1 822.6 510.4 814.8 510.7 831.4 511.1 822.2 511.4 833.9 511.8 828.3 512.1 832.4 512.4 827.5 512.8 839.1 513.1 818.9 513.5 834.2 513.8 827 514.1 841.6 514.5 824.1 514.8 838.1 515.2 817.2 515.5 829 515.8 828.3 516.2 832.5 516.5 826.2 516.9 830.8 517.2 818.2 517.5 835.3 517.9 817 518.2 839.3 518.6 820.9 518.9 839.7 519.2 824.7 519.6 832.5 519.9 819.5 520.3 837.2 520.6 816.7 520.9 834.4 521.3 825.6 521.6 832 522 811.7 522.3 827.2 522.6 825.7 523 835.2 523.3 809.4 523.7 828.6 524 815.6 524.3 828.8 524.7 818.6 525 838.8 525.4 814.8 525.7 837.8 525.8 801.8 525.9 826 526 815.6 526.4 837.3 526.7 815.2 527.1 830.4 527.4 822.5 527.7 833.9 528.1 819.3 528.4 838.2 528.8 816.3 529.1 836.9 529.4 815 529.8 834.4 530.1 810.8 530.5 830 530.8 826.1 531.1 828.8 531.5 826 531.8 835.3 532.2 826.5 532.5 835.5 532.8 821.4 533.2 839.2 533.5 826.6 533.9 838.3 534.2 818.7 534.5 839.2 534.9 821.4 535.2 830.5 535.6 819.7 535.9 842 536.2 819.5 536.6 836.5 536.9 826.8 537.3 838.6 537.6 825.2 537.9 830.9 538.3 828.2 538.6 830.9 539 820.4 539.3 839.9 539.6 821.7 540 840.3 540.3 817.1 540.7 838.1 541 827.9 541.3 838.7 541.7 822.2 542 838.1 542.4 820.5 542.7 848.4 543 827.2 543.4 840.8 543.7 822.1 544.1 832.2 544.4 817.1 544.7 836.3 545.1 819.8 545.4 835.5 545.8 796.3 546.1 839.8 546.4 816.8 546.8 832.6 547.1 816.8 547.5 827.7 547.8 801.8 548.1 814.7 548.5 813.3 548.8 825.8 549.2 818.7 549.5 830.1 549.8 813.5 550.2 829 550.5 816 550.9 837.7 551.2 816.9 551.5 826.6 551.9 821.4 552.2 849 552.6 815.7 552.9 826.9 553.2 822.8 553.6 835.8 553.9 808.8 554.3 820.3 554.6 795.9 554.9 826.2 555.3 814 555.6 835.6 556 816.9 556.3 833.1 556.6 813.6 557 832.4 557.3 823 557.7 837.3 558 815.1 558.3 827.9 558.7 814.5 559 830.7 559.4 816.5 559.7 836 560 823.2 560.4 834.2 560.7 823 561.1 835.1 561.4 813.7 561.7 833.9 562.1 817.8 562.4 834.4 562.8 822.4 563.1 826.3 563.4 812.4 563.8 828.5 564.1 816.1 564.5 827.1 564.8 819 565.1 827.1 565.5 810.3 565.8 816.6 566.2 784.6 566.5 813.4 566.8 811.6 567.2 829.5 567.5 814.5 567.9 831.5 568.2 813.1 568.5 823.3 568.9 817 569.2 830.9 569.6 815.7 569.9 823.9 570.2 816.2 570.6 828.1 570.9 812.9 571.1 797.7 571.2 822.2 571.3 826 571.6 815.7 571.9 838.1 572.3 813.9 572.6 832.3 573 811.1 573.3 825.8 573.6 817.6 574 825.8 574.3 816.5 574.7 821.3 575 812.2 575.3 821.9 575.7 822.2 576 833.5 576.4 822.4 576.7 835.6 577 813.6 577.4 828.7 577.7 818.7 578.1 842.2 578.3 809.8 578.4 828.1 578.4 823.9 578.7 836.5 579.1 821.2 579.4 837.1 579.8 825.2 580.1 832.6 580.4 827 580.8 832.6 581.1 826.3 581.5 840.6 581.8 826 582.1 837.9 582.5 829.8 582.8 837.8 583.2 832.2 583.5 841.4 583.8 831.5 584.2 842.8 584.5 830.6 584.9 842.8 585.2 832.1 585.5 837.1 585.9 833.3 586.2 840.2 586.6 821.9 586.9 827.5 587.2 826.4 587.6 841.4 587.9 825.5 588.3 831.9 588.6 819.7 588.9 830.9 589.3 830.1 589.6 845.4 590 819.2 590.3 842.6 590.6 823.1 591 842.3 591.3 835.5 591.7 844.4 592 840.6 592.3 842.3 592.7 835.5 593 848.3 593.4 836.7 593.7 844.3 594 839.2 594.4 845.1 594.7 836.7 595.1 846.6 595.4 827.6 595.7 846.2 596.1 840.2 596.4 847 596.8 840.1 597.1 851.7 597.4 841.3 597.8 851.1 598.1 839.3 598.5 846.4 598.6 888.8 598.7 844.8 598.6 782.4 598.7 844.8 598.8 840.6 599.1 846.8 599.5 840.6 599.8 850.3 600.2 836.6 600.5 839 600.8 826.8 601.2 843.1 601.5 832.9 601.9 851.1 602.2 839.8 602.5 846.2 602.9 839.6 603.2 848.5 603.6 842.8 603.9 853.7 604.2 847.9 604.6 854.1 604.9 847.2 605.3 854.4 605.6 846 605.9 851.9 606.3 843.1 606.6 851.1 607 843 607.3 853.2 607.6 846.7 608 854.6 608.3 846.7 608.7 854 609 845.1 609.3 863 609.7 851.4 610 854.9 610.4 849.3 610.7 852.4 611 843.4 611.4 853.4 611.7 851.3 612.1 858.2 612.4 852.3 612.7 859.7 613.1 844.9 613.4 858.7 613.8 852.1 614.1 858 614.4 856.9 614.8 858.1 615.1 857.8 615.5 863.9 615.8 850.6 616.1 864.5 616.5 856.9 616.8 860.2 617.2 849.4 617.5 852.1 617.8 853 618.2 862.3 618.5 856.8 618.9 868.1 619.2 847 619.5 871.3 619.9 863.2 620.2 870.4 620.6 864.3 620.9 868.5 621.2 865.1 621.6 872.2 621.9 862.8 622.3 869.5 622.6 859.3 622.9 875 623.3 858 623.6 867.4 624 856 624.3 865.2 624.6 836.7 625 868.2 625.3 847.6 625.7 861.9 626 856.9 626.3 864.6 626.7 850.1 627 861.2 627.4 849.8 627.7 858.8 628 847.7 628.4 861.2 628.7 845.6 629.1 860.6 629.4 846.7 629.7 854.7 630.1 849 630.4 855.8 630.8 848.5 631.1 858.1 631.4 843.8 631.8 852.9 632.1 842.3 632.5 852.6 632.8 840.3 633.1 849.2 633.5 838.7 633.8 852.7 634.2 839 634.5 854.7 634.8 840.3 635.2 848.1 635.5 834.9 635.9 855.8 636.2 843.3 636.5 849.9 636.9 835.6 637.2 843.4 637.6 835.9 637.9 849.5 638.2 839 638.6 851.4 638.9 835 639.3 844.5 639.6 823 639.9 847.6 640.3 830.6 640.6 844.4 641 828.3 641.3 844.1 641.6 832.3 642 842.5 642.3 829 642.7 843.9 643 827.8 643.3 836.4 643.7 830.3 644 836.6 644.4 823.3 644.7 836.3 645 823.2 645.4 838.5 645.7 820.9 646.1 834.1 646.4 821.1 646.7 837 647.1 821.5 647.4 834.7 647.6 797.7 647.7 828.3 647.8 821.3 648.1 835.1 648.4 820.2 648.8 833.7 649.1 817.3 649.5 835.4 649.8 823.7 650.1 831.8 650.5 815 650.8 831.1 651.2 820 651.5 833.2 651.8 820.1 652.2 829.2 652.5 815.6 652.9 829.4 653.2 816.5 653.5 828.3 653.9 818.2 654.2 833.6 654.6 821.4 654.9 829 655.2 820.3 655.6 834.1 655.9 822.8 656.3 833.2 656.6 820.2 656.9 827.8 657.3 824.4 657.6 833.6 658 819 658.3 831.5 658.6 819.3 659 828.8 659.3 818.9 659.7 835.2 660 820.7 660.3 833.1 660.7 821.1 661 834.7 661.4 820.1 661.7 834.9 662 818.4 662.4 832.6 662.7 815.3 663.1 828.7 663.4 819.9 663.7 834.6 664.1 823.1 664.4 832.2 664.8 816.1 665.1 830.4 665.4 819.3 665.8 829.6 666.1 816.6 666.5 829.9 666.8 816.3 667.1 835.6 667.5 816.8 667.8 831.3 668.2 819 668.5 834.5 668.8 823.2 669.1 846.1 669.2 823.6 669.1 759.9 669.2 823.6 669.2 833.3 669.5 820 669.9 827.3 670.2 806.8 670.5 814.4 670.9 791.7 671.2 811.7 671.6 805.4 671.9 818.3 672.2 807.9 672.6 826.9 672.9 817.1 673.3 832.9 673.6 813.9 673.9 834.1 674.3 810.5 674.6 826.5 675 813 675.3 831.2 675.6 816.8 676 825.8 676.3 817.6 676.7 834.3 677 817.6 677.3 833.5 677.7 812.6 678 829.8 678.4 823.4 678.7 826.6 679 819.6 679.4 835.4 679.7 819.8 680.1 828.3 680.4 808.1 680.7 834.1 681.1 819.2 681.4 829.3 681.8 817.2 682.1 833.2 682.2 797.7 682.3 825.3 682.4 817.9 682.8 837.1 683.1 819.9 683.5 831.2 683.8 815.1 684.1 839.8 684.5 815.4 684.8 837.6 685.2 806 685.5 837.5 685.8 823.3 686.2 837.9 686.5 813.1 686.9 826.2 687.2 813.8 687.5 835.4 687.9 822.2 688.2 839.6 688.6 804 688.9 834.7 689.2 816.5 689.6 836 689.9 797.3 690.3 843.8 690.6 821.8 690.9 837.3 691.3 818 691.6 830.9 692 812.5 692.3 838.2 692.6 821.6 693 791.3 693.1 826.7 693 834.3 693.3 819.8 693.7 829.4 694 814 694.3 830.1 694.7 814.8 695 833.5 695.4 814.4 695.7 839.1 696 806.5 696.4 837.1 696.7 807.3 697.1 838.5 697.4 820.1 697.7 827.9 698.1 813.3 698.4 829.2 698.8 817 699.1 838.9 699.4 817.3 699.8 839.4 700.1 821 700.5 829.8 700.8 821.3 701.1 831.8 701.5 820.9 701.8 838.4 702.2 816.4 702.5 831.2 702.8 814.2 703.2 831 703.5 823.1 703.9 834.5 704.2 820.5 704.5 838.8 704.9 816.4 705.2 832 705.6 818.6 705.9 831.8 706.2 817.3 706.6 841.1 706.9 817.2 707.3 833.7 707.6 822.2 707.9 841.3 708.3 818.6 708.6 841.6 709 825.9 709.3 837.2 709.6 823.1 710 833.4 710.3 808.3 710.7 839.2 711 822.9 711.3 840.2 711.7 819.8 712 832.6 712.4 827.7 712.7 833.1 713 818.8 713.4 835 713.7 823.9 714.1 834 714.4 825.4 714.7 836.6 715.1 819 715.4 834.6 715.8 819.5 716.1 836.7 716.4 814.1 716.8 835.1 717.1 816.4 717.5 839.1 717.8 822 718.1 835 718.5 825.4 718.8 832.3 719.2 826.6 719.5 841.4 719.8 821 720.2 839.5" stroke="#1f5cb4" stroke-width="0.95" fill="none" stroke-linejoin="bevel"/>
<path d="M48 721.2V890.4M45 890.4H740.8M740.8 721.2V890.4M45 721.2H48M48 890.4V893.4M71.9 890.4V893.4M95.8 890.4V893.4M119.7 890.4V893.4M143.6 890.4V893.4M167.4 890.4V893.4M191.3 890.4V893.4M215.2 890.4V893.4M239.1 890.4V893.4M263 890.4V893.4M286.9 890.4V893.4M310.8 890.4V893.4M334.7 890.4V893.4M358.5 890.4V893.4M382.4 890.4V893.4M406.3 890.4V893.4M430.2 890.4V893.4M454.1 890.4V893.4M478 890.4V893.4M501.9 890.4V893.4M525.8 890.4V893.4M549.6 890.4V893.4M573.5 890.4V893.4M597.4 890.4V893.4M621.3 890.4V893.4M645.2 890.4V893.4M669.1 890.4V893.4M693 890.4V893.4M716.9 890.4V893.4M740.8 890.4V893.4M45 890.4H48M45 866.2H48M45 842.1H48M45 817.9H48M45 793.7H48M45 769.5H48M45 745.4H48M45 721.2H48M740.8 890.4H743.8M740.8 873.5H743.8M740.8 856.6H743.8M740.8 839.6H743.8M740.8 822.7H743.8M740.8 805.8H743.8M740.8 788.9H743.8M740.8 772H743.8M740.8 755H743.8M740.8 738.1H743.8M740.8 721.2H743.8" stroke="#6b6b6e" stroke-width="1.3" fill="none"/>
<path d="M51 809L54.9 812.9L51 816.8L47.1 812.9ZM55.1 804.9L59 808.8L55.1 812.7L51.2 808.8ZM70.6 820.7L74.5 824.6L70.6 828.5L66.7 824.6ZM78.7 839.4L82.6 843.3L78.7 847.2L74.8 843.3ZM96.5 842.1L100.4 846L96.5 849.9L92.6 846ZM121.9 806.7L125.8 810.6L121.9 814.5L118 810.6ZM142.6 816.2L146.5 820.1L142.6 824L138.7 820.1ZM150 831.9L153.9 835.8L150 839.7L146.1 835.8ZM166.2 807.4L170.1 811.3L166.2 815.2L162.3 811.3ZM174.3 816.2L178.2 820.1L174.3 824L170.4 820.1ZM189.8 816.2L193.7 820.1L189.8 824L185.9 820.1ZM198 817.3L201.9 821.2L198 825.1L194.1 821.2ZM213.7 801.1L217.6 805L213.7 808.9L209.8 805ZM221.3 814.6L225.2 818.5L221.3 822.4L217.4 818.5ZM239 807.2L242.9 811.1L239 815L235.1 811.1ZM246.4 810.1L250.3 814L246.4 817.9L242.5 814ZM264.9 807.9L268.8 811.8L264.9 815.7L261 811.8ZM288.5 813.9L292.4 817.8L288.5 821.7L284.6 817.8ZM312.1 809.4L316 813.3L312.1 817.2L308.2 813.3ZM317.8 809.4L321.7 813.3L317.8 817.2L313.9 813.3ZM333.1 813.9L337 817.8L333.1 821.7L329.2 817.8ZM340.7 801.1L344.6 805L340.7 808.9L336.8 805ZM356.7 805.6L360.6 809.5L356.7 813.4L352.8 809.5ZM380.8 819.1L384.7 823L380.8 826.9L376.9 823ZM388.5 805.6L392.4 809.5L388.5 813.4L384.6 809.5ZM404.1 807.2L408 811.1L404.1 815L400.2 811.1ZM412.8 817.5L416.7 821.4L412.8 825.3L408.9 821.4ZM431.1 810.8L435 814.7L431.1 818.6L427.2 814.7ZM462.3 827L466.2 830.9L462.3 834.8L458.4 830.9ZM476.5 836L480.4 839.9L476.5 843.8L472.6 839.9ZM485.1 829.2L489 833.1L485.1 837L481.2 833.1ZM500.1 833.7L504 837.6L500.1 841.5L496.2 837.6ZM508.5 832.6L512.4 836.5L508.5 840.4L504.6 836.5ZM523.8 822L527.7 825.9L523.8 829.8L519.9 825.9ZM532.1 819.1L536 823L532.1 826.9L528.2 823ZM547.8 810.1L551.7 814L547.8 817.9L543.9 814ZM555.7 815.2L559.6 819.1L555.7 823L551.8 819.1ZM572 810.4L575.9 814.2L572 818.1L568.1 814.2ZM579.5 816.1L583.4 820L579.5 823.9L575.6 820ZM598.2 817.4L602.1 821.2L598.2 825.1L594.4 821.2ZM626.2 819.1L630.1 823L626.2 826.9L622.4 823ZM643.2 819.1L647.1 823L643.2 826.9L639.4 823ZM650.8 817.4L654.6 821.2L650.8 825.1L646.9 821.2ZM667 811.1L670.9 815L667 818.9L663.1 815ZM691.2 806.1L695.1 810L691.2 813.9L687.4 810ZM699 811.6L702.9 815.5L699 819.4L695.1 815.5ZM715 813.6L718.9 817.5L715 821.4L711.1 817.5Z" fill="#f2903a" stroke="#9c5522" stroke-width="0.9"/>
<path d="M170.3 876.6L174.8 885.8L165.8 885.8ZM190.5 876.6L195 885.8L186 885.8ZM215.5 876.6L220 885.8L211 885.8Z" fill="#17a04a" stroke="#0d6e30" stroke-width="0.7"/>
<text x="39.2" y="893.8" text-anchor="end" style="font-family:'Liberation Sans', sans-serif;font-weight:bold;font-size:9.7px;letter-spacing:0.85px;fill:#2b2b2b;stroke:#2b2b2b;stroke-width:0.35px">0</text><text x="39.2" y="869.6" text-anchor="end" style="font-family:'Liberation Sans', sans-serif;font-weight:bold;font-size:9.7px;letter-spacing:0.85px;fill:#2b2b2b;stroke:#2b2b2b;stroke-width:0.35px">3</text><text x="39.2" y="845.5" text-anchor="end" style="font-family:'Liberation Sans', sans-serif;font-weight:bold;font-size:9.7px;letter-spacing:0.85px;fill:#2b2b2b;stroke:#2b2b2b;stroke-width:0.35px">6</text><text x="39.2" y="821.3" text-anchor="end" style="font-family:'Liberation Sans', sans-serif;font-weight:bold;font-size:9.7px;letter-spacing:0.85px;fill:#2b2b2b;stroke:#2b2b2b;stroke-width:0.35px">9</text><text x="39.2" y="797.1" text-anchor="end" style="font-family:'Liberation Sans', sans-serif;font-weight:bold;font-size:9.7px;letter-spacing:0.85px;fill:#2b2b2b;stroke:#2b2b2b;stroke-width:0.35px">12</text><text x="39.2" y="772.9" text-anchor="end" style="font-family:'Liberation Sans', sans-serif;font-weight:bold;font-size:9.7px;letter-spacing:0.85px;fill:#2b2b2b;stroke:#2b2b2b;stroke-width:0.35px">15</text><text x="39.2" y="748.8" text-anchor="end" style="font-family:'Liberation Sans', sans-serif;font-weight:bold;font-size:9.7px;letter-spacing:0.85px;fill:#2b2b2b;stroke:#2b2b2b;stroke-width:0.35px">18</text><text x="39.2" y="724.6" text-anchor="end" style="font-family:'Liberation Sans', sans-serif;font-weight:bold;font-size:9.7px;letter-spacing:0.85px;fill:#2b2b2b;stroke:#2b2b2b;stroke-width:0.35px">21</text><text x="48.4" y="905.8" text-anchor="middle" style="font-family:'Liberation Sans', sans-serif;font-weight:bold;font-size:9.7px;letter-spacing:0.85px;fill:#2b2b2b;stroke:#2b2b2b;stroke-width:0.35px">0</text><text x="72.3" y="905.8" text-anchor="middle" style="font-family:'Liberation Sans', sans-serif;font-weight:bold;font-size:9.7px;letter-spacing:0.85px;fill:#2b2b2b;stroke:#2b2b2b;stroke-width:0.35px">1</text><text x="96.2" y="905.8" text-anchor="middle" style="font-family:'Liberation Sans', sans-serif;font-weight:bold;font-size:9.7px;letter-spacing:0.85px;fill:#2b2b2b;stroke:#2b2b2b;stroke-width:0.35px">2</text><text x="120.1" y="905.8" text-anchor="middle" style="font-family:'Liberation Sans', sans-serif;font-weight:bold;font-size:9.7px;letter-spacing:0.85px;fill:#2b2b2b;stroke:#2b2b2b;stroke-width:0.35px">3</text><text x="144" y="905.8" text-anchor="middle" style="font-family:'Liberation Sans', sans-serif;font-weight:bold;font-size:9.7px;letter-spacing:0.85px;fill:#2b2b2b;stroke:#2b2b2b;stroke-width:0.35px">4</text><text x="167.8" y="905.8" text-anchor="middle" style="font-family:'Liberation Sans', sans-serif;font-weight:bold;font-size:9.7px;letter-spacing:0.85px;fill:#2b2b2b;stroke:#2b2b2b;stroke-width:0.35px">5</text><text x="191.7" y="905.8" text-anchor="middle" style="font-family:'Liberation Sans', sans-serif;font-weight:bold;font-size:9.7px;letter-spacing:0.85px;fill:#2b2b2b;stroke:#2b2b2b;stroke-width:0.35px">6</text><text x="215.6" y="905.8" text-anchor="middle" style="font-family:'Liberation Sans', sans-serif;font-weight:bold;font-size:9.7px;letter-spacing:0.85px;fill:#2b2b2b;stroke:#2b2b2b;stroke-width:0.35px">7</text><text x="239.5" y="905.8" text-anchor="middle" style="font-family:'Liberation Sans', sans-serif;font-weight:bold;font-size:9.7px;letter-spacing:0.85px;fill:#2b2b2b;stroke:#2b2b2b;stroke-width:0.35px">8</text><text x="263.4" y="905.8" text-anchor="middle" style="font-family:'Liberation Sans', sans-serif;font-weight:bold;font-size:9.7px;letter-spacing:0.85px;fill:#2b2b2b;stroke:#2b2b2b;stroke-width:0.35px">9</text><text x="287.3" y="905.8" text-anchor="middle" style="font-family:'Liberation Sans', sans-serif;font-weight:bold;font-size:9.7px;letter-spacing:0.85px;fill:#2b2b2b;stroke:#2b2b2b;stroke-width:0.35px">10</text><text x="311.2" y="905.8" text-anchor="middle" style="font-family:'Liberation Sans', sans-serif;font-weight:bold;font-size:9.7px;letter-spacing:0.85px;fill:#2b2b2b;stroke:#2b2b2b;stroke-width:0.35px">11</text><text x="335.1" y="905.8" text-anchor="middle" style="font-family:'Liberation Sans', sans-serif;font-weight:bold;font-size:9.7px;letter-spacing:0.85px;fill:#2b2b2b;stroke:#2b2b2b;stroke-width:0.35px">12</text><text x="358.9" y="905.8" text-anchor="middle" style="font-family:'Liberation Sans', sans-serif;font-weight:bold;font-size:9.7px;letter-spacing:0.85px;fill:#2b2b2b;stroke:#2b2b2b;stroke-width:0.35px">13</text><text x="382.8" y="905.8" text-anchor="middle" style="font-family:'Liberation Sans', sans-serif;font-weight:bold;font-size:9.7px;letter-spacing:0.85px;fill:#2b2b2b;stroke:#2b2b2b;stroke-width:0.35px">14</text><text x="406.7" y="905.8" text-anchor="middle" style="font-family:'Liberation Sans', sans-serif;font-weight:bold;font-size:9.7px;letter-spacing:0.85px;fill:#2b2b2b;stroke:#2b2b2b;stroke-width:0.35px">15</text><text x="430.6" y="905.8" text-anchor="middle" style="font-family:'Liberation Sans', sans-serif;font-weight:bold;font-size:9.7px;letter-spacing:0.85px;fill:#2b2b2b;stroke:#2b2b2b;stroke-width:0.35px">16</text><text x="454.5" y="905.8" text-anchor="middle" style="font-family:'Liberation Sans', sans-serif;font-weight:bold;font-size:9.7px;letter-spacing:0.85px;fill:#2b2b2b;stroke:#2b2b2b;stroke-width:0.35px">17</text><text x="478.4" y="905.8" text-anchor="middle" style="font-family:'Liberation Sans', sans-serif;font-weight:bold;font-size:9.7px;letter-spacing:0.85px;fill:#2b2b2b;stroke:#2b2b2b;stroke-width:0.35px">18</text><text x="502.3" y="905.8" text-anchor="middle" style="font-family:'Liberation Sans', sans-serif;font-weight:bold;font-size:9.7px;letter-spacing:0.85px;fill:#2b2b2b;stroke:#2b2b2b;stroke-width:0.35px">19</text><text x="526.2" y="905.8" text-anchor="middle" style="font-family:'Liberation Sans', sans-serif;font-weight:bold;font-size:9.7px;letter-spacing:0.85px;fill:#2b2b2b;stroke:#2b2b2b;stroke-width:0.35px">20</text><text x="550" y="905.8" text-anchor="middle" style="font-family:'Liberation Sans', sans-serif;font-weight:bold;font-size:9.7px;letter-spacing:0.85px;fill:#2b2b2b;stroke:#2b2b2b;stroke-width:0.35px">21</text><text x="573.9" y="905.8" text-anchor="middle" style="font-family:'Liberation Sans', sans-serif;font-weight:bold;font-size:9.7px;letter-spacing:0.85px;fill:#2b2b2b;stroke:#2b2b2b;stroke-width:0.35px">22</text><text x="597.8" y="905.8" text-anchor="middle" style="font-family:'Liberation Sans', sans-serif;font-weight:bold;font-size:9.7px;letter-spacing:0.85px;fill:#2b2b2b;stroke:#2b2b2b;stroke-width:0.35px">23</text><text x="621.7" y="905.8" text-anchor="middle" style="font-family:'Liberation Sans', sans-serif;font-weight:bold;font-size:9.7px;letter-spacing:0.85px;fill:#2b2b2b;stroke:#2b2b2b;stroke-width:0.35px">24</text><text x="645.6" y="905.8" text-anchor="middle" style="font-family:'Liberation Sans', sans-serif;font-weight:bold;font-size:9.7px;letter-spacing:0.85px;fill:#2b2b2b;stroke:#2b2b2b;stroke-width:0.35px">25</text><text x="669.5" y="905.8" text-anchor="middle" style="font-family:'Liberation Sans', sans-serif;font-weight:bold;font-size:9.7px;letter-spacing:0.85px;fill:#2b2b2b;stroke:#2b2b2b;stroke-width:0.35px">26</text><text x="693.4" y="905.8" text-anchor="middle" style="font-family:'Liberation Sans', sans-serif;font-weight:bold;font-size:9.7px;letter-spacing:0.85px;fill:#2b2b2b;stroke:#2b2b2b;stroke-width:0.35px">27</text><text x="717.3" y="905.8" text-anchor="middle" style="font-family:'Liberation Sans', sans-serif;font-weight:bold;font-size:9.7px;letter-spacing:0.85px;fill:#2b2b2b;stroke:#2b2b2b;stroke-width:0.35px">28</text><text x="741.1" y="905.8" text-anchor="middle" style="font-family:'Liberation Sans', sans-serif;font-weight:bold;font-size:9.7px;letter-spacing:0.85px;fill:#2b2b2b;stroke:#2b2b2b;stroke-width:0.35px">29</text><text x="749" y="893.8" style="font-family:'Liberation Sans', sans-serif;font-weight:bold;font-size:9.7px;letter-spacing:0.85px;fill:#2b2b2b;stroke:#2b2b2b;stroke-width:0.35px">0</text><text x="749" y="876.9" style="font-family:'Liberation Sans', sans-serif;font-weight:bold;font-size:9.7px;letter-spacing:0.85px;fill:#2b2b2b;stroke:#2b2b2b;stroke-width:0.35px">25</text><text x="749" y="860" style="font-family:'Liberation Sans', sans-serif;font-weight:bold;font-size:9.7px;letter-spacing:0.85px;fill:#2b2b2b;stroke:#2b2b2b;stroke-width:0.35px">50</text><text x="749" y="843" style="font-family:'Liberation Sans', sans-serif;font-weight:bold;font-size:9.7px;letter-spacing:0.85px;fill:#2b2b2b;stroke:#2b2b2b;stroke-width:0.35px">75</text><text x="749" y="826.1" style="font-family:'Liberation Sans', sans-serif;font-weight:bold;font-size:9.7px;letter-spacing:0.85px;fill:#2b2b2b;stroke:#2b2b2b;stroke-width:0.35px">100</text><text x="749" y="809.2" style="font-family:'Liberation Sans', sans-serif;font-weight:bold;font-size:9.7px;letter-spacing:0.85px;fill:#2b2b2b;stroke:#2b2b2b;stroke-width:0.35px">125</text><text x="749" y="792.3" style="font-family:'Liberation Sans', sans-serif;font-weight:bold;font-size:9.7px;letter-spacing:0.85px;fill:#2b2b2b;stroke:#2b2b2b;stroke-width:0.35px">150</text><text x="749" y="775.4" style="font-family:'Liberation Sans', sans-serif;font-weight:bold;font-size:9.7px;letter-spacing:0.85px;fill:#2b2b2b;stroke:#2b2b2b;stroke-width:0.35px">175</text><text x="749" y="758.4" style="font-family:'Liberation Sans', sans-serif;font-weight:bold;font-size:9.7px;letter-spacing:0.85px;fill:#2b2b2b;stroke:#2b2b2b;stroke-width:0.35px">200</text><text x="749" y="741.5" style="font-family:'Liberation Sans', sans-serif;font-weight:bold;font-size:9.7px;letter-spacing:0.85px;fill:#2b2b2b;stroke:#2b2b2b;stroke-width:0.35px">225</text><text x="749" y="724.6" style="font-family:'Liberation Sans', sans-serif;font-weight:bold;font-size:9.7px;letter-spacing:0.85px;fill:#2b2b2b;stroke:#2b2b2b;stroke-width:0.35px">250</text>
<text x="392.5" y="926" text-anchor="middle" textLength="81.3" lengthAdjust="spacingAndGlyphs" style="font-family:'Liberation Sans', sans-serif;font-weight:bold;font-size:13.8px;fill:#1c1c1c">Time [Days]</text>
<text transform="translate(19 804.2) rotate(-90)" text-anchor="middle" textLength="120.6" lengthAdjust="spacingAndGlyphs" style="font-family:'Liberation Sans', sans-serif;font-weight:bold;font-size:13.8px;fill:#1c1c1c">CGS Current [nA]</text>
<text transform="translate(775 810.3) rotate(90)" text-anchor="middle" textLength="158.2" lengthAdjust="spacingAndGlyphs" style="font-family:'Liberation Sans', sans-serif;font-weight:bold;font-size:13.8px;fill:#1c1c1c">Blood Glucose [mg/dL]</text>
<ellipse cx="62.8" cy="737.5" rx="11.2" ry="11.9" fill="#fff" stroke="#111" stroke-width="1.6"/>
<text x="62.8" y="743.8" text-anchor="middle" style="font-family:'Liberation Sans', sans-serif;font-weight:bold;font-size:17.5px;fill:#111;stroke:#111;stroke-width:0.7px">D</text>
</svg></body></html>
